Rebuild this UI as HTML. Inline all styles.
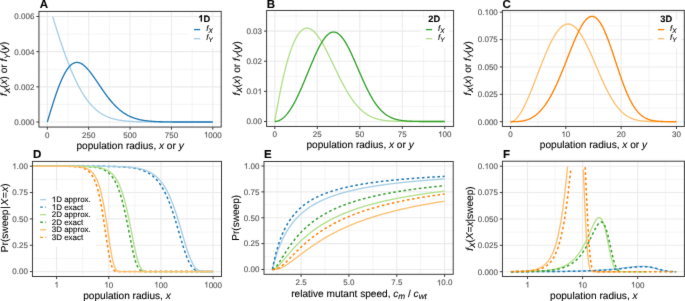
<!DOCTYPE html>
<html><head><meta charset="utf-8"><style>html,body{margin:0;padding:0;background:#fff;}svg{display:block;} #w{will-change:transform;width:685px;height:301px;} text{-webkit-font-smoothing:antialiased;text-rendering:geometricPrecision;stroke-width:0.1px;}</style></head>
<body><div id="w"><svg width="685" height="301" viewBox="0 0 685 301" font-family='"Liberation Sans", sans-serif'>
<defs><path id="oneR" d="M763 0h-180v1147q-65 -62 -170.5 -124t-189.5 -93v174q151 71 264 172t160 196h116v-1472z"/><path id="oneB" d="M806 0h-281v1059q-154 -144 -363 -213v255q110 36 239 136.5t177 234.5h228v-1472z"/><filter id="soft" x="0" y="0" width="100%" height="100%" filterUnits="userSpaceOnUse" color-interpolation-filters="sRGB"><feConvolveMatrix order="3" kernelMatrix="0.00640 0.06720 0.00640 0.06720 0.70560 0.06720 0.00640 0.06720 0.00640" divisor="1" edgeMode="duplicate"/></filter></defs>
<g filter="url(#soft)">
<rect width="685" height="301" fill="#fff"/>
<clipPath id="clipA"><rect x="38.95" y="11.4" width="182.25" height="115.64999999999999"/></clipPath>
<line x1="67.99" y1="11.4" x2="67.99" y2="127.05" stroke="#EBEBEB" stroke-width="0.55"/>
<line x1="109.36" y1="11.4" x2="109.36" y2="127.05" stroke="#EBEBEB" stroke-width="0.55"/>
<line x1="150.74" y1="11.4" x2="150.74" y2="127.05" stroke="#EBEBEB" stroke-width="0.55"/>
<line x1="192.11" y1="11.4" x2="192.11" y2="127.05" stroke="#EBEBEB" stroke-width="0.55"/>
<line x1="38.95" y1="104.42" x2="221.2" y2="104.42" stroke="#EBEBEB" stroke-width="0.55"/>
<line x1="38.95" y1="69.25" x2="221.2" y2="69.25" stroke="#EBEBEB" stroke-width="0.55"/>
<line x1="38.95" y1="34.08" x2="221.2" y2="34.08" stroke="#EBEBEB" stroke-width="0.55"/>
<line x1="47.3" y1="11.4" x2="47.3" y2="127.05" stroke="#EBEBEB" stroke-width="1.1"/>
<line x1="88.67" y1="11.4" x2="88.67" y2="127.05" stroke="#EBEBEB" stroke-width="1.1"/>
<line x1="130.05" y1="11.4" x2="130.05" y2="127.05" stroke="#EBEBEB" stroke-width="1.1"/>
<line x1="171.43" y1="11.4" x2="171.43" y2="127.05" stroke="#EBEBEB" stroke-width="1.1"/>
<line x1="212.8" y1="11.4" x2="212.8" y2="127.05" stroke="#EBEBEB" stroke-width="1.1"/>
<line x1="38.95" y1="122" x2="221.2" y2="122" stroke="#EBEBEB" stroke-width="1.1"/>
<line x1="38.95" y1="86.83" x2="221.2" y2="86.83" stroke="#EBEBEB" stroke-width="1.1"/>
<line x1="38.95" y1="51.67" x2="221.2" y2="51.67" stroke="#EBEBEB" stroke-width="1.1"/>
<line x1="38.95" y1="16.5" x2="221.2" y2="16.5" stroke="#EBEBEB" stroke-width="1.1"/>
<polyline points="52.69,16.67 53.11,18.02 53.52,19.37 53.94,20.71 54.35,22.05 54.77,23.38 55.18,24.71 55.60,26.04 56.01,27.36 56.43,28.67 56.84,29.98 57.25,31.28 57.67,32.58 58.08,33.87 58.50,35.16 58.91,36.43 59.33,37.70 59.74,38.97 60.16,40.22 60.57,41.47 60.99,42.71 61.40,43.94 61.82,45.16 62.23,46.38 62.65,47.59 63.06,48.79 63.48,49.97 63.89,51.16 64.31,52.33 64.72,53.49 65.14,54.64 65.55,55.78 65.97,56.92 66.38,58.04 66.79,59.15 67.21,60.25 67.62,61.35 68.04,62.43 68.45,63.50 68.87,64.56 69.28,65.61 69.70,66.65 70.11,67.68 70.53,68.69 70.94,69.70 71.36,70.69 71.77,71.68 72.19,72.65 72.60,73.61 73.02,74.56 73.43,75.50 73.85,76.42 74.26,77.34 74.68,78.24 75.09,79.13 75.51,80.01 75.92,80.88 76.34,81.74 76.75,82.58 77.16,83.42 77.58,84.24 77.99,85.05 78.41,85.85 78.82,86.63 79.24,87.41 79.65,88.17 80.07,88.92 80.48,89.66 80.90,90.39 81.31,91.11 81.73,91.81 82.14,92.51 82.56,93.19 82.97,93.86 83.39,94.52 83.80,95.17 84.22,95.81 84.63,96.44 85.05,97.06 85.46,97.66 85.88,98.26 86.29,98.84 86.70,99.41 87.12,99.97 87.53,100.53 87.95,101.07 88.36,101.60 88.78,102.12 89.19,102.63 89.61,103.13 90.02,103.62 90.44,104.11 90.85,104.58 91.27,105.04 91.68,105.49 92.10,105.93 92.51,106.37 92.93,106.79 93.34,107.21 93.76,107.62 94.17,108.01 94.59,108.40 95.00,108.78 95.42,109.15 95.83,109.52 96.24,109.87 96.66,110.22 97.07,110.56 97.49,110.89 97.90,111.21 98.32,111.53 98.73,111.84 99.15,112.14 99.56,112.43 99.98,112.72 100.39,113.00 100.81,113.27 101.22,113.54 101.64,113.80 102.05,114.05 102.47,114.30 102.88,114.54 103.30,114.77 103.71,115.00 104.13,115.22 104.54,115.43 104.96,115.64 105.37,115.85 105.78,116.05 106.20,116.24 106.61,116.43 107.03,116.61 107.44,116.79 107.86,116.96 108.27,117.13 108.69,117.29 109.10,117.45 109.52,117.60 109.93,117.75 110.35,117.90 110.76,118.04 111.18,118.18 111.59,118.31 112.01,118.44 112.42,118.56 112.84,118.68 113.25,118.80 113.67,118.91 114.08,119.02 114.50,119.13 114.91,119.23 115.33,119.33 115.74,119.43 116.15,119.52 116.57,119.61 116.98,119.70 117.40,119.79 117.81,119.87 118.23,119.95 118.64,120.03 119.06,120.10 119.47,120.17 119.89,120.24 120.30,120.31 120.72,120.37 121.13,120.44 121.55,120.50 121.96,120.56 122.38,120.61 122.79,120.67 123.21,120.72 123.62,120.77 124.04,120.82 124.45,120.87 124.87,120.91 125.28,120.96 125.69,121.00 126.11,121.04 126.52,121.08 126.94,121.12 127.35,121.15 127.77,121.19 128.18,121.22 128.60,121.25 129.01,121.28 129.43,121.31 129.84,121.34 130.26,121.37 130.67,121.40 131.09,121.42 131.50,121.45 131.92,121.47 132.33,121.50 132.75,121.52 133.16,121.54 133.58,121.56 133.99,121.58 134.41,121.60 134.82,121.61 135.23,121.63 135.65,121.65 136.06,121.66 136.48,121.68 136.89,121.69 137.31,121.71 137.72,121.72 138.14,121.73 138.55,121.75 138.97,121.76 139.38,121.77 139.80,121.78 140.21,121.79 140.63,121.80 141.04,121.81 141.46,121.82 141.87,121.83 142.29,121.83 142.70,121.84 143.12,121.85 143.53,121.86 143.95,121.86 144.36,121.87 144.77,121.88 145.19,121.88 145.60,121.89 146.02,121.89 146.43,121.90 146.85,121.90 147.26,121.91 147.68,121.91 148.09,121.92 148.51,121.92 148.92,121.93 149.34,121.93 149.75,121.93 150.17,121.94 150.58,121.94 151.00,121.94 151.41,121.95 151.83,121.95 152.24,121.95 152.66,121.95 153.07,121.96 153.49,121.96 153.90,121.96 154.32,121.96 154.73,121.96 155.14,121.97 155.56,121.97 155.97,121.97 156.39,121.97 156.80,121.97 157.22,121.97 157.63,121.98 158.05,121.98 158.46,121.98 158.88,121.98 159.29,121.98 159.71,121.98 160.12,121.98 160.54,121.98 160.95,121.98 161.37,121.99 161.78,121.99 162.20,121.99 162.61,121.99 163.03,121.99 163.44,121.99 163.86,121.99 164.27,121.99 164.68,121.99 165.10,121.99 165.51,121.99 165.93,121.99 166.34,121.99 166.76,121.99 167.17,121.99 167.59,121.99 168.00,121.99 168.42,121.99 168.83,121.99 169.25,122.00 169.66,122.00 170.08,122.00 170.49,122.00 170.91,122.00 171.32,122.00 171.74,122.00 172.15,122.00 172.57,122.00 172.98,122.00 173.40,122.00 173.81,122.00 174.22,122.00 174.64,122.00 175.05,122.00 175.47,122.00 175.88,122.00 176.30,122.00 176.71,122.00 177.13,122.00 177.54,122.00 177.96,122.00 178.37,122.00 178.79,122.00 179.20,122.00 179.62,122.00 180.03,122.00 180.45,122.00 180.86,122.00 181.28,122.00 181.69,122.00 182.11,122.00 182.52,122.00 182.94,122.00 183.35,122.00 183.76,122.00 184.18,122.00 184.59,122.00 185.01,122.00 185.42,122.00 185.84,122.00 186.25,122.00 186.67,122.00 187.08,122.00 187.50,122.00 187.91,122.00 188.33,122.00 188.74,122.00 189.16,122.00 189.57,122.00 189.99,122.00 190.40,122.00 190.82,122.00 191.23,122.00 191.65,122.00 192.06,122.00 192.48,122.00 192.89,122.00 193.31,122.00 193.72,122.00 194.13,122.00 194.55,122.00 194.96,122.00 195.38,122.00 195.79,122.00 196.21,122.00 196.62,122.00 197.04,122.00 197.45,122.00 197.87,122.00 198.28,122.00 198.70,122.00 199.11,122.00 199.53,122.00 199.94,122.00 200.36,122.00 200.77,122.00 201.19,122.00 201.60,122.00 202.02,122.00 202.43,122.00 202.85,122.00 203.26,122.00 203.67,122.00 204.09,122.00 204.50,122.00 204.92,122.00 205.33,122.00 205.75,122.00 206.16,122.00 206.58,122.00 206.99,122.00 207.41,122.00 207.82,122.00 208.24,122.00 208.65,122.00 209.07,122.00 209.48,122.00 209.90,122.00 210.31,122.00 210.73,122.00 211.14,122.00 211.56,122.00 211.97,122.00 212.39,122.00 212.80,122.00" fill="none" stroke="#A6CEE3" stroke-width="1.35" stroke-linejoin="round" clip-path="url(#clipA)"/>
<polyline points="47.30,122.00 47.71,120.62 48.13,119.25 48.54,117.88 48.96,116.51 49.37,115.14 49.79,113.78 50.20,112.42 50.62,111.07 51.03,109.72 51.45,108.38 51.86,107.05 52.28,105.73 52.69,104.41 53.11,103.11 53.52,101.82 53.94,100.54 54.35,99.27 54.77,98.02 55.18,96.78 55.60,95.55 56.01,94.34 56.43,93.14 56.84,91.96 57.25,90.80 57.67,89.66 58.08,88.53 58.50,87.43 58.91,86.34 59.33,85.27 59.74,84.22 60.16,83.20 60.57,82.19 60.99,81.21 61.40,80.25 61.82,79.31 62.23,78.39 62.65,77.50 63.06,76.63 63.48,75.79 63.89,74.97 64.31,74.18 64.72,73.41 65.14,72.66 65.55,71.94 65.97,71.25 66.38,70.58 66.79,69.94 67.21,69.33 67.62,68.74 68.04,68.18 68.45,67.64 68.87,67.13 69.28,66.65 69.70,66.19 70.11,65.76 70.53,65.36 70.94,64.99 71.36,64.64 71.77,64.31 72.19,64.01 72.60,63.74 73.02,63.50 73.43,63.28 73.85,63.08 74.26,62.91 74.68,62.77 75.09,62.65 75.51,62.56 75.92,62.49 76.34,62.44 76.75,62.42 77.16,62.42 77.58,62.45 77.99,62.50 78.41,62.57 78.82,62.66 79.24,62.77 79.65,62.91 80.07,63.07 80.48,63.24 80.90,63.44 81.31,63.66 81.73,63.89 82.14,64.15 82.56,64.42 82.97,64.71 83.39,65.02 83.80,65.34 84.22,65.69 84.63,66.04 85.05,66.42 85.46,66.81 85.88,67.21 86.29,67.62 86.70,68.05 87.12,68.50 87.53,68.95 87.95,69.42 88.36,69.90 88.78,70.39 89.19,70.89 89.61,71.40 90.02,71.92 90.44,72.45 90.85,72.99 91.27,73.54 91.68,74.09 92.10,74.65 92.51,75.22 92.93,75.79 93.34,76.37 93.76,76.96 94.17,77.54 94.59,78.14 95.00,78.74 95.42,79.34 95.83,79.94 96.24,80.55 96.66,81.16 97.07,81.77 97.49,82.38 97.90,82.99 98.32,83.60 98.73,84.22 99.15,84.83 99.56,85.44 99.98,86.06 100.39,86.67 100.81,87.28 101.22,87.89 101.64,88.49 102.05,89.10 102.47,89.70 102.88,90.29 103.30,90.89 103.71,91.48 104.13,92.07 104.54,92.65 104.96,93.23 105.37,93.80 105.78,94.37 106.20,94.94 106.61,95.50 107.03,96.05 107.44,96.60 107.86,97.15 108.27,97.69 108.69,98.22 109.10,98.75 109.52,99.27 109.93,99.78 110.35,100.29 110.76,100.79 111.18,101.28 111.59,101.77 112.01,102.25 112.42,102.72 112.84,103.19 113.25,103.65 113.67,104.10 114.08,104.55 114.50,104.99 114.91,105.42 115.33,105.85 115.74,106.26 116.15,106.67 116.57,107.08 116.98,107.47 117.40,107.86 117.81,108.24 118.23,108.61 118.64,108.98 119.06,109.34 119.47,109.69 119.89,110.04 120.30,110.38 120.72,110.71 121.13,111.03 121.55,111.35 121.96,111.66 122.38,111.97 122.79,112.26 123.21,112.55 123.62,112.84 124.04,113.12 124.45,113.39 124.87,113.65 125.28,113.91 125.69,114.16 126.11,114.41 126.52,114.65 126.94,114.88 127.35,115.11 127.77,115.33 128.18,115.55 128.60,115.76 129.01,115.96 129.43,116.16 129.84,116.36 130.26,116.55 130.67,116.73 131.09,116.91 131.50,117.08 131.92,117.25 132.33,117.42 132.75,117.58 133.16,117.73 133.58,117.88 133.99,118.03 134.41,118.17 134.82,118.31 135.23,118.44 135.65,118.57 136.06,118.69 136.48,118.82 136.89,118.93 137.31,119.05 137.72,119.16 138.14,119.26 138.55,119.37 138.97,119.47 139.38,119.56 139.80,119.66 140.21,119.75 140.63,119.83 141.04,119.92 141.46,120.00 141.87,120.08 142.29,120.16 142.70,120.23 143.12,120.30 143.53,120.37 143.95,120.43 144.36,120.50 144.77,120.56 145.19,120.62 145.60,120.68 146.02,120.73 146.43,120.78 146.85,120.83 147.26,120.88 147.68,120.93 148.09,120.98 148.51,121.02 148.92,121.06 149.34,121.10 149.75,121.14 150.17,121.18 150.58,121.21 151.00,121.25 151.41,121.28 151.83,121.31 152.24,121.34 152.66,121.37 153.07,121.40 153.49,121.43 153.90,121.45 154.32,121.48 154.73,121.50 155.14,121.53 155.56,121.55 155.97,121.57 156.39,121.59 156.80,121.61 157.22,121.63 157.63,121.64 158.05,121.66 158.46,121.68 158.88,121.69 159.29,121.71 159.71,121.72 160.12,121.73 160.54,121.75 160.95,121.76 161.37,121.77 161.78,121.78 162.20,121.79 162.61,121.80 163.03,121.81 163.44,121.82 163.86,121.83 164.27,121.84 164.68,121.85 165.10,121.86 165.51,121.86 165.93,121.87 166.34,121.88 166.76,121.88 167.17,121.89 167.59,121.90 168.00,121.90 168.42,121.91 168.83,121.91 169.25,121.92 169.66,121.92 170.08,121.92 170.49,121.93 170.91,121.93 171.32,121.94 171.74,121.94 172.15,121.94 172.57,121.95 172.98,121.95 173.40,121.95 173.81,121.95 174.22,121.96 174.64,121.96 175.05,121.96 175.47,121.96 175.88,121.97 176.30,121.97 176.71,121.97 177.13,121.97 177.54,121.97 177.96,121.97 178.37,121.98 178.79,121.98 179.20,121.98 179.62,121.98 180.03,121.98 180.45,121.98 180.86,121.98 181.28,121.98 181.69,121.98 182.11,121.99 182.52,121.99 182.94,121.99 183.35,121.99 183.76,121.99 184.18,121.99 184.59,121.99 185.01,121.99 185.42,121.99 185.84,121.99 186.25,121.99 186.67,121.99 187.08,121.99 187.50,121.99 187.91,121.99 188.33,121.99 188.74,121.99 189.16,122.00 189.57,122.00 189.99,122.00 190.40,122.00 190.82,122.00 191.23,122.00 191.65,122.00 192.06,122.00 192.48,122.00 192.89,122.00 193.31,122.00 193.72,122.00 194.13,122.00 194.55,122.00 194.96,122.00 195.38,122.00 195.79,122.00 196.21,122.00 196.62,122.00 197.04,122.00 197.45,122.00 197.87,122.00 198.28,122.00 198.70,122.00 199.11,122.00 199.53,122.00 199.94,122.00 200.36,122.00 200.77,122.00 201.19,122.00 201.60,122.00 202.02,122.00 202.43,122.00 202.85,122.00 203.26,122.00 203.67,122.00 204.09,122.00 204.50,122.00 204.92,122.00 205.33,122.00 205.75,122.00 206.16,122.00 206.58,122.00 206.99,122.00 207.41,122.00 207.82,122.00 208.24,122.00 208.65,122.00 209.07,122.00 209.48,122.00 209.90,122.00 210.31,122.00 210.73,122.00 211.14,122.00 211.56,122.00 211.97,122.00 212.39,122.00 212.80,122.00" fill="none" stroke="#1F78B4" stroke-width="1.35" stroke-linejoin="round" clip-path="url(#clipA)"/>
<rect x="38.95" y="11.4" width="182.25" height="115.64999999999999" fill="none" stroke="#333333" stroke-width="0.95"/>
<line x1="47.3" y1="127.05" x2="47.3" y2="129.65" stroke="#333333" stroke-width="0.95"/>
<text x="47.3" y="137.55" font-size="8" text-anchor="middle" fill="#4D4D4D" stroke="#4D4D4D" font-weight="normal" font-style="normal" >0</text>
<line x1="88.67" y1="127.05" x2="88.67" y2="129.65" stroke="#333333" stroke-width="0.95"/>
<text x="88.67" y="137.55" font-size="8" text-anchor="middle" fill="#4D4D4D" stroke="#4D4D4D" font-weight="normal" font-style="normal" >250</text>
<line x1="130.05" y1="127.05" x2="130.05" y2="129.65" stroke="#333333" stroke-width="0.95"/>
<text x="130.05" y="137.55" font-size="8" text-anchor="middle" fill="#4D4D4D" stroke="#4D4D4D" font-weight="normal" font-style="normal" >500</text>
<line x1="171.43" y1="127.05" x2="171.43" y2="129.65" stroke="#333333" stroke-width="0.95"/>
<text x="171.43" y="137.55" font-size="8" text-anchor="middle" fill="#4D4D4D" stroke="#4D4D4D" font-weight="normal" font-style="normal" >750</text>
<line x1="212.8" y1="127.05" x2="212.8" y2="129.65" stroke="#333333" stroke-width="0.95"/>
<use href="#oneR" transform="translate(203.902,137.550) scale(0.003906,-0.003906)" fill="#4D4D4D" stroke="#4D4D4D" stroke-width="25.6"/>
<text x="212.8" y="137.55" font-size="8" text-anchor="middle" fill="#4D4D4D" stroke="#4D4D4D" font-weight="normal" font-style="normal" > 000</text>
<line x1="36.35" y1="122" x2="38.95" y2="122" stroke="#333333" stroke-width="0.95"/>
<text x="34.35" y="124.85" font-size="8" text-anchor="end" fill="#4D4D4D" stroke="#4D4D4D" font-weight="normal" font-style="normal" >0.000</text>
<line x1="36.35" y1="86.83" x2="38.95" y2="86.83" stroke="#333333" stroke-width="0.95"/>
<text x="34.35" y="89.68" font-size="8" text-anchor="end" fill="#4D4D4D" stroke="#4D4D4D" font-weight="normal" font-style="normal" >0.002</text>
<line x1="36.35" y1="51.67" x2="38.95" y2="51.67" stroke="#333333" stroke-width="0.95"/>
<text x="34.35" y="54.52" font-size="8" text-anchor="end" fill="#4D4D4D" stroke="#4D4D4D" font-weight="normal" font-style="normal" >0.004</text>
<line x1="36.35" y1="16.5" x2="38.95" y2="16.5" stroke="#333333" stroke-width="0.95"/>
<text x="34.35" y="19.35" font-size="8" text-anchor="end" fill="#4D4D4D" stroke="#4D4D4D" font-weight="normal" font-style="normal" >0.006</text>
<clipPath id="clipB"><rect x="266.6" y="10.45" width="187.0" height="116.0"/></clipPath>
<line x1="296.05" y1="10.45" x2="296.05" y2="126.45" stroke="#EBEBEB" stroke-width="0.55"/>
<line x1="338.55" y1="10.45" x2="338.55" y2="126.45" stroke="#EBEBEB" stroke-width="0.55"/>
<line x1="381.05" y1="10.45" x2="381.05" y2="126.45" stroke="#EBEBEB" stroke-width="0.55"/>
<line x1="423.55" y1="10.45" x2="423.55" y2="126.45" stroke="#EBEBEB" stroke-width="0.55"/>
<line x1="266.6" y1="106.43" x2="453.6" y2="106.43" stroke="#EBEBEB" stroke-width="0.55"/>
<line x1="266.6" y1="76.3" x2="453.6" y2="76.3" stroke="#EBEBEB" stroke-width="0.55"/>
<line x1="266.6" y1="46.17" x2="453.6" y2="46.17" stroke="#EBEBEB" stroke-width="0.55"/>
<line x1="266.6" y1="16.03" x2="453.6" y2="16.03" stroke="#EBEBEB" stroke-width="0.55"/>
<line x1="274.8" y1="10.45" x2="274.8" y2="126.45" stroke="#EBEBEB" stroke-width="1.1"/>
<line x1="317.3" y1="10.45" x2="317.3" y2="126.45" stroke="#EBEBEB" stroke-width="1.1"/>
<line x1="359.8" y1="10.45" x2="359.8" y2="126.45" stroke="#EBEBEB" stroke-width="1.1"/>
<line x1="402.3" y1="10.45" x2="402.3" y2="126.45" stroke="#EBEBEB" stroke-width="1.1"/>
<line x1="444.8" y1="10.45" x2="444.8" y2="126.45" stroke="#EBEBEB" stroke-width="1.1"/>
<line x1="266.6" y1="121.5" x2="453.6" y2="121.5" stroke="#EBEBEB" stroke-width="1.1"/>
<line x1="266.6" y1="91.37" x2="453.6" y2="91.37" stroke="#EBEBEB" stroke-width="1.1"/>
<line x1="266.6" y1="61.23" x2="453.6" y2="61.23" stroke="#EBEBEB" stroke-width="1.1"/>
<line x1="266.6" y1="31.1" x2="453.6" y2="31.1" stroke="#EBEBEB" stroke-width="1.1"/>
<polyline points="274.80,121.50 275.23,118.94 275.65,116.41 276.08,113.92 276.50,111.47 276.93,109.06 277.36,106.68 277.78,104.33 278.21,102.03 278.63,99.76 279.06,97.53 279.49,95.33 279.91,93.17 280.34,91.05 280.76,88.96 281.19,86.91 281.62,84.90 282.04,82.92 282.47,80.98 282.90,79.07 283.32,77.20 283.75,75.37 284.17,73.58 284.60,71.82 285.03,70.10 285.45,68.41 285.88,66.76 286.30,65.15 286.73,63.57 287.16,62.03 287.58,60.52 288.01,59.05 288.43,57.62 288.86,56.22 289.29,54.86 289.71,53.53 290.14,52.24 290.56,50.98 290.99,49.76 291.42,48.58 291.84,47.43 292.27,46.31 292.69,45.24 293.12,44.19 293.55,43.18 293.97,42.21 294.40,41.26 294.83,40.36 295.25,39.49 295.68,38.65 296.10,37.84 296.53,37.07 296.96,36.34 297.38,35.63 297.81,34.96 298.23,34.33 298.66,33.72 299.09,33.15 299.51,32.61 299.94,32.10 300.36,31.63 300.79,31.19 301.22,30.77 301.64,30.39 302.07,30.04 302.49,29.73 302.92,29.44 303.35,29.18 303.77,28.95 304.20,28.76 304.62,28.59 305.05,28.45 305.48,28.34 305.90,28.26 306.33,28.20 306.75,28.18 307.18,28.18 307.61,28.21 308.03,28.26 308.46,28.35 308.89,28.46 309.31,28.59 309.74,28.75 310.16,28.94 310.59,29.15 311.02,29.38 311.44,29.64 311.87,29.92 312.29,30.23 312.72,30.55 313.15,30.90 313.57,31.28 314.00,31.67 314.42,32.09 314.85,32.52 315.28,32.98 315.70,33.45 316.13,33.95 316.55,34.46 316.98,35.00 317.41,35.55 317.83,36.12 318.26,36.70 318.68,37.30 319.11,37.92 319.54,38.56 319.96,39.21 320.39,39.87 320.82,40.55 321.24,41.24 321.67,41.95 322.09,42.67 322.52,43.40 322.95,44.14 323.37,44.90 323.80,45.66 324.22,46.44 324.65,47.22 325.08,48.02 325.50,48.82 325.93,49.64 326.35,50.46 326.78,51.29 327.21,52.12 327.63,52.96 328.06,53.81 328.48,54.67 328.91,55.53 329.34,56.39 329.76,57.26 330.19,58.13 330.61,59.01 331.04,59.89 331.47,60.77 331.89,61.66 332.32,62.54 332.74,63.43 333.17,64.32 333.60,65.21 334.02,66.09 334.45,66.98 334.88,67.87 335.30,68.75 335.73,69.64 336.15,70.52 336.58,71.40 337.01,72.28 337.43,73.15 337.86,74.02 338.28,74.89 338.71,75.75 339.14,76.61 339.56,77.47 339.99,78.32 340.41,79.16 340.84,80.00 341.27,80.83 341.69,81.66 342.12,82.47 342.54,83.29 342.97,84.09 343.40,84.89 343.82,85.68 344.25,86.47 344.67,87.24 345.10,88.01 345.53,88.77 345.95,89.52 346.38,90.26 346.81,90.99 347.23,91.72 347.66,92.43 348.08,93.14 348.51,93.83 348.94,94.52 349.36,95.20 349.79,95.87 350.21,96.52 350.64,97.17 351.07,97.81 351.49,98.44 351.92,99.05 352.34,99.66 352.77,100.26 353.20,100.84 353.62,101.42 354.05,101.99 354.47,102.54 354.90,103.09 355.33,103.62 355.75,104.15 356.18,104.66 356.60,105.16 357.03,105.66 357.46,106.14 357.88,106.61 358.31,107.08 358.73,107.53 359.16,107.97 359.59,108.40 360.01,108.83 360.44,109.24 360.87,109.64 361.29,110.04 361.72,110.42 362.14,110.80 362.57,111.16 363.00,111.52 363.42,111.86 363.85,112.20 364.27,112.53 364.70,112.85 365.13,113.16 365.55,113.46 365.98,113.76 366.40,114.04 366.83,114.32 367.26,114.59 367.68,114.85 368.11,115.11 368.53,115.35 368.96,115.59 369.39,115.82 369.81,116.05 370.24,116.27 370.66,116.48 371.09,116.68 371.52,116.88 371.94,117.07 372.37,117.25 372.79,117.43 373.22,117.60 373.65,117.77 374.07,117.93 374.50,118.08 374.93,118.23 375.35,118.37 375.78,118.51 376.20,118.64 376.63,118.77 377.06,118.90 377.48,119.02 377.91,119.13 378.33,119.24 378.76,119.34 379.19,119.45 379.61,119.54 380.04,119.64 380.46,119.73 380.89,119.81 381.32,119.89 381.74,119.97 382.17,120.05 382.59,120.12 383.02,120.19 383.45,120.26 383.87,120.32 384.30,120.38 384.72,120.44 385.15,120.49 385.58,120.55 386.00,120.60 386.43,120.65 386.86,120.69 387.28,120.74 387.71,120.78 388.13,120.82 388.56,120.85 388.99,120.89 389.41,120.92 389.84,120.96 390.26,120.99 390.69,121.02 391.12,121.04 391.54,121.07 391.97,121.10 392.39,121.12 392.82,121.14 393.25,121.16 393.67,121.18 394.10,121.20 394.52,121.22 394.95,121.24 395.38,121.25 395.80,121.27 396.23,121.28 396.65,121.30 397.08,121.31 397.51,121.32 397.93,121.33 398.36,121.34 398.78,121.35 399.21,121.36 399.64,121.37 400.06,121.38 400.49,121.39 400.92,121.40 401.34,121.40 401.77,121.41 402.19,121.42 402.62,121.42 403.05,121.43 403.47,121.43 403.90,121.44 404.32,121.44 404.75,121.45 405.18,121.45 405.60,121.45 406.03,121.46 406.45,121.46 406.88,121.46 407.31,121.47 407.73,121.47 408.16,121.47 408.58,121.47 409.01,121.47 409.44,121.48 409.86,121.48 410.29,121.48 410.71,121.48 411.14,121.48 411.57,121.48 411.99,121.49 412.42,121.49 412.85,121.49 413.27,121.49 413.70,121.49 414.12,121.49 414.55,121.49 414.98,121.49 415.40,121.49 415.83,121.49 416.25,121.49 416.68,121.49 417.11,121.49 417.53,121.50 417.96,121.50 418.38,121.50 418.81,121.50 419.24,121.50 419.66,121.50 420.09,121.50 420.51,121.50 420.94,121.50 421.37,121.50 421.79,121.50 422.22,121.50 422.64,121.50 423.07,121.50 423.50,121.50 423.92,121.50 424.35,121.50 424.77,121.50 425.20,121.50 425.63,121.50 426.05,121.50 426.48,121.50 426.91,121.50 427.33,121.50 427.76,121.50 428.18,121.50 428.61,121.50 429.04,121.50 429.46,121.50 429.89,121.50 430.31,121.50 430.74,121.50 431.17,121.50 431.59,121.50 432.02,121.50 432.44,121.50 432.87,121.50 433.30,121.50 433.72,121.50 434.15,121.50 434.57,121.50 435.00,121.50 435.43,121.50 435.85,121.50 436.28,121.50 436.70,121.50 437.13,121.50 437.56,121.50 437.98,121.50 438.41,121.50 438.84,121.50 439.26,121.50 439.69,121.50 440.11,121.50 440.54,121.50 440.97,121.50 441.39,121.50 441.82,121.50 442.24,121.50 442.67,121.50 443.10,121.50 443.52,121.50 443.95,121.50 444.37,121.50 444.80,121.50" fill="none" stroke="#B2DF8A" stroke-width="1.35" stroke-linejoin="round" clip-path="url(#clipB)"/>
<polyline points="274.80,121.50 275.23,121.49 275.65,121.46 276.08,121.42 276.50,121.35 276.93,121.27 277.36,121.17 277.78,121.05 278.21,120.91 278.63,120.76 279.06,120.59 279.49,120.39 279.91,120.18 280.34,119.96 280.76,119.71 281.19,119.44 281.62,119.16 282.04,118.86 282.47,118.54 282.90,118.20 283.32,117.85 283.75,117.48 284.17,117.09 284.60,116.68 285.03,116.25 285.45,115.81 285.88,115.35 286.30,114.87 286.73,114.37 287.16,113.86 287.58,113.33 288.01,112.78 288.43,112.21 288.86,111.63 289.29,111.03 289.71,110.42 290.14,109.79 290.56,109.14 290.99,108.48 291.42,107.80 291.84,107.11 292.27,106.40 292.69,105.67 293.12,104.93 293.55,104.18 293.97,103.41 294.40,102.62 294.83,101.83 295.25,101.01 295.68,100.19 296.10,99.35 296.53,98.50 296.96,97.64 297.38,96.77 297.81,95.88 298.23,94.98 298.66,94.07 299.09,93.15 299.51,92.22 299.94,91.28 300.36,90.34 300.79,89.38 301.22,88.41 301.64,87.44 302.07,86.45 302.49,85.46 302.92,84.47 303.35,83.47 303.77,82.46 304.20,81.44 304.62,80.43 305.05,79.40 305.48,78.38 305.90,77.35 306.33,76.32 306.75,75.28 307.18,74.25 307.61,73.21 308.03,72.17 308.46,71.14 308.89,70.10 309.31,69.07 309.74,68.04 310.16,67.01 310.59,65.98 311.02,64.96 311.44,63.94 311.87,62.93 312.29,61.92 312.72,60.92 313.15,59.93 313.57,58.95 314.00,57.97 314.42,57.00 314.85,56.04 315.28,55.10 315.70,54.16 316.13,53.24 316.55,52.32 316.98,51.42 317.41,50.54 317.83,49.66 318.26,48.81 318.68,47.96 319.11,47.14 319.54,46.33 319.96,45.53 320.39,44.76 320.82,44.00 321.24,43.26 321.67,42.54 322.09,41.85 322.52,41.17 322.95,40.51 323.37,39.87 323.80,39.26 324.22,38.67 324.65,38.10 325.08,37.55 325.50,37.03 325.93,36.53 326.35,36.06 326.78,35.61 327.21,35.19 327.63,34.79 328.06,34.42 328.48,34.07 328.91,33.76 329.34,33.46 329.76,33.20 330.19,32.96 330.61,32.75 331.04,32.57 331.47,32.41 331.89,32.28 332.32,32.19 332.74,32.11 333.17,32.07 333.60,32.06 334.02,32.07 334.45,32.11 334.88,32.18 335.30,32.28 335.73,32.40 336.15,32.56 336.58,32.74 337.01,32.95 337.43,33.18 337.86,33.45 338.28,33.74 338.71,34.05 339.14,34.40 339.56,34.77 339.99,35.16 340.41,35.58 340.84,36.03 341.27,36.50 341.69,37.00 342.12,37.52 342.54,38.06 342.97,38.63 343.40,39.22 343.82,39.83 344.25,40.46 344.67,41.11 345.10,41.79 345.53,42.48 345.95,43.19 346.38,43.93 346.81,44.68 347.23,45.45 347.66,46.23 348.08,47.03 348.51,47.85 348.94,48.68 349.36,49.53 349.79,50.39 350.21,51.26 350.64,52.15 351.07,53.05 351.49,53.96 351.92,54.87 352.34,55.80 352.77,56.74 353.20,57.69 353.62,58.64 354.05,59.60 354.47,60.57 354.90,61.54 355.33,62.51 355.75,63.49 356.18,64.48 356.60,65.46 357.03,66.45 357.46,67.44 357.88,68.43 358.31,69.42 358.73,70.41 359.16,71.40 359.59,72.39 360.01,73.37 360.44,74.35 360.87,75.33 361.29,76.30 361.72,77.27 362.14,78.24 362.57,79.19 363.00,80.14 363.42,81.09 363.85,82.03 364.27,82.96 364.70,83.88 365.13,84.79 365.55,85.69 365.98,86.59 366.40,87.47 366.83,88.35 367.26,89.21 367.68,90.07 368.11,90.91 368.53,91.74 368.96,92.56 369.39,93.36 369.81,94.16 370.24,94.94 370.66,95.71 371.09,96.47 371.52,97.21 371.94,97.94 372.37,98.66 372.79,99.37 373.22,100.06 373.65,100.74 374.07,101.40 374.50,102.05 374.93,102.69 375.35,103.31 375.78,103.92 376.20,104.52 376.63,105.10 377.06,105.67 377.48,106.22 377.91,106.76 378.33,107.29 378.76,107.81 379.19,108.31 379.61,108.79 380.04,109.27 380.46,109.73 380.89,110.18 381.32,110.62 381.74,111.04 382.17,111.45 382.59,111.85 383.02,112.24 383.45,112.62 383.87,112.98 384.30,113.33 384.72,113.67 385.15,114.00 385.58,114.32 386.00,114.63 386.43,114.93 386.86,115.22 387.28,115.49 387.71,115.76 388.13,116.02 388.56,116.27 388.99,116.51 389.41,116.74 389.84,116.96 390.26,117.18 390.69,117.38 391.12,117.58 391.54,117.77 391.97,117.95 392.39,118.13 392.82,118.29 393.25,118.45 393.67,118.61 394.10,118.75 394.52,118.90 394.95,119.03 395.38,119.16 395.80,119.28 396.23,119.40 396.65,119.51 397.08,119.62 397.51,119.72 397.93,119.82 398.36,119.91 398.78,120.00 399.21,120.08 399.64,120.16 400.06,120.24 400.49,120.31 400.92,120.38 401.34,120.45 401.77,120.51 402.19,120.57 402.62,120.62 403.05,120.68 403.47,120.73 403.90,120.77 404.32,120.82 404.75,120.86 405.18,120.90 405.60,120.94 406.03,120.97 406.45,121.01 406.88,121.04 407.31,121.07 407.73,121.10 408.16,121.12 408.58,121.15 409.01,121.17 409.44,121.19 409.86,121.21 410.29,121.23 410.71,121.25 411.14,121.27 411.57,121.28 411.99,121.30 412.42,121.31 412.85,121.33 413.27,121.34 413.70,121.35 414.12,121.36 414.55,121.37 414.98,121.38 415.40,121.39 415.83,121.40 416.25,121.41 416.68,121.41 417.11,121.42 417.53,121.43 417.96,121.43 418.38,121.44 418.81,121.44 419.24,121.45 419.66,121.45 420.09,121.45 420.51,121.46 420.94,121.46 421.37,121.46 421.79,121.47 422.22,121.47 422.64,121.47 423.07,121.47 423.50,121.48 423.92,121.48 424.35,121.48 424.77,121.48 425.20,121.48 425.63,121.49 426.05,121.49 426.48,121.49 426.91,121.49 427.33,121.49 427.76,121.49 428.18,121.49 428.61,121.49 429.04,121.49 429.46,121.49 429.89,121.49 430.31,121.49 430.74,121.50 431.17,121.50 431.59,121.50 432.02,121.50 432.44,121.50 432.87,121.50 433.30,121.50 433.72,121.50 434.15,121.50 434.57,121.50 435.00,121.50 435.43,121.50 435.85,121.50 436.28,121.50 436.70,121.50 437.13,121.50 437.56,121.50 437.98,121.50 438.41,121.50 438.84,121.50 439.26,121.50 439.69,121.50 440.11,121.50 440.54,121.50 440.97,121.50 441.39,121.50 441.82,121.50 442.24,121.50 442.67,121.50 443.10,121.50 443.52,121.50 443.95,121.50 444.37,121.50 444.80,121.50" fill="none" stroke="#33A02C" stroke-width="1.35" stroke-linejoin="round" clip-path="url(#clipB)"/>
<rect x="266.6" y="10.45" width="187.0" height="116.0" fill="none" stroke="#333333" stroke-width="0.95"/>
<line x1="274.8" y1="126.45" x2="274.8" y2="129.05" stroke="#333333" stroke-width="0.95"/>
<text x="274.8" y="136.95" font-size="8" text-anchor="middle" fill="#4D4D4D" stroke="#4D4D4D" font-weight="normal" font-style="normal" >0</text>
<line x1="317.3" y1="126.45" x2="317.3" y2="129.05" stroke="#333333" stroke-width="0.95"/>
<text x="317.3" y="136.95" font-size="8" text-anchor="middle" fill="#4D4D4D" stroke="#4D4D4D" font-weight="normal" font-style="normal" >25</text>
<line x1="359.8" y1="126.45" x2="359.8" y2="129.05" stroke="#333333" stroke-width="0.95"/>
<text x="359.8" y="136.95" font-size="8" text-anchor="middle" fill="#4D4D4D" stroke="#4D4D4D" font-weight="normal" font-style="normal" >50</text>
<line x1="402.3" y1="126.45" x2="402.3" y2="129.05" stroke="#333333" stroke-width="0.95"/>
<text x="402.3" y="136.95" font-size="8" text-anchor="middle" fill="#4D4D4D" stroke="#4D4D4D" font-weight="normal" font-style="normal" >75</text>
<line x1="444.8" y1="126.45" x2="444.8" y2="129.05" stroke="#333333" stroke-width="0.95"/>
<use href="#oneR" transform="translate(438.126,136.950) scale(0.003906,-0.003906)" fill="#4D4D4D" stroke="#4D4D4D" stroke-width="25.6"/>
<text x="444.8" y="136.95" font-size="8" text-anchor="middle" fill="#4D4D4D" stroke="#4D4D4D" font-weight="normal" font-style="normal" > 00</text>
<line x1="264" y1="121.5" x2="266.6" y2="121.5" stroke="#333333" stroke-width="0.95"/>
<text x="262" y="124.35" font-size="8" text-anchor="end" fill="#4D4D4D" stroke="#4D4D4D" font-weight="normal" font-style="normal" >0.00</text>
<line x1="264" y1="91.37" x2="266.6" y2="91.37" stroke="#333333" stroke-width="0.95"/>
<use href="#oneR" transform="translate(257.551,94.217) scale(0.003906,-0.003906)" fill="#4D4D4D" stroke="#4D4D4D" stroke-width="25.6"/>
<text x="262" y="94.22" font-size="8" text-anchor="end" fill="#4D4D4D" stroke="#4D4D4D" font-weight="normal" font-style="normal" >0.0 </text>
<line x1="264" y1="61.23" x2="266.6" y2="61.23" stroke="#333333" stroke-width="0.95"/>
<text x="262" y="64.08" font-size="8" text-anchor="end" fill="#4D4D4D" stroke="#4D4D4D" font-weight="normal" font-style="normal" >0.02</text>
<line x1="264" y1="31.1" x2="266.6" y2="31.1" stroke="#333333" stroke-width="0.95"/>
<text x="262" y="33.95" font-size="8" text-anchor="end" fill="#4D4D4D" stroke="#4D4D4D" font-weight="normal" font-style="normal" >0.03</text>
<clipPath id="clipC"><rect x="502.4" y="10.4" width="181.89999999999998" height="116.05"/></clipPath>
<line x1="538.17" y1="10.4" x2="538.17" y2="126.45" stroke="#EBEBEB" stroke-width="0.55"/>
<line x1="593.5" y1="10.4" x2="593.5" y2="126.45" stroke="#EBEBEB" stroke-width="0.55"/>
<line x1="648.83" y1="10.4" x2="648.83" y2="126.45" stroke="#EBEBEB" stroke-width="0.55"/>
<line x1="502.4" y1="108.01" x2="684.3" y2="108.01" stroke="#EBEBEB" stroke-width="0.55"/>
<line x1="502.4" y1="80.64" x2="684.3" y2="80.64" stroke="#EBEBEB" stroke-width="0.55"/>
<line x1="502.4" y1="53.26" x2="684.3" y2="53.26" stroke="#EBEBEB" stroke-width="0.55"/>
<line x1="502.4" y1="25.89" x2="684.3" y2="25.89" stroke="#EBEBEB" stroke-width="0.55"/>
<line x1="510.5" y1="10.4" x2="510.5" y2="126.45" stroke="#EBEBEB" stroke-width="1.1"/>
<line x1="565.83" y1="10.4" x2="565.83" y2="126.45" stroke="#EBEBEB" stroke-width="1.1"/>
<line x1="621.17" y1="10.4" x2="621.17" y2="126.45" stroke="#EBEBEB" stroke-width="1.1"/>
<line x1="676.5" y1="10.4" x2="676.5" y2="126.45" stroke="#EBEBEB" stroke-width="1.1"/>
<line x1="502.4" y1="121.7" x2="684.3" y2="121.7" stroke="#EBEBEB" stroke-width="1.1"/>
<line x1="502.4" y1="94.33" x2="684.3" y2="94.33" stroke="#EBEBEB" stroke-width="1.1"/>
<line x1="502.4" y1="66.95" x2="684.3" y2="66.95" stroke="#EBEBEB" stroke-width="1.1"/>
<line x1="502.4" y1="39.58" x2="684.3" y2="39.58" stroke="#EBEBEB" stroke-width="1.1"/>
<line x1="502.4" y1="12.2" x2="684.3" y2="12.2" stroke="#EBEBEB" stroke-width="1.1"/>
<polyline points="510.50,121.70 510.92,121.68 511.33,121.63 511.75,121.55 512.16,121.43 512.58,121.29 513.00,121.11 513.41,120.90 513.83,120.66 514.24,120.39 514.66,120.09 515.08,119.76 515.49,119.41 515.91,119.03 516.32,118.62 516.74,118.18 517.16,117.72 517.57,117.23 517.99,116.72 518.40,116.18 518.82,115.62 519.24,115.04 519.65,114.43 520.07,113.80 520.48,113.15 520.90,112.48 521.32,111.79 521.73,111.08 522.15,110.35 522.57,109.59 522.98,108.83 523.40,108.04 523.81,107.23 524.23,106.41 524.65,105.57 525.06,104.72 525.48,103.85 525.89,102.97 526.31,102.07 526.73,101.16 527.14,100.23 527.56,99.30 527.97,98.35 528.39,97.39 528.81,96.41 529.22,95.43 529.64,94.44 530.05,93.44 530.47,92.42 530.89,91.40 531.30,90.38 531.72,89.34 532.13,88.30 532.55,87.25 532.97,86.20 533.38,85.14 533.80,84.08 534.21,83.01 534.63,81.94 535.05,80.86 535.46,79.78 535.88,78.70 536.29,77.62 536.71,76.54 537.13,75.45 537.54,74.37 537.96,73.29 538.37,72.20 538.79,71.12 539.21,70.04 539.62,68.96 540.04,67.89 540.45,66.82 540.87,65.75 541.29,64.69 541.70,63.63 542.12,62.57 542.54,61.53 542.95,60.48 543.37,59.45 543.78,58.42 544.20,57.40 544.62,56.39 545.03,55.38 545.45,54.39 545.86,53.40 546.28,52.43 546.70,51.46 547.11,50.50 547.53,49.56 547.94,48.63 548.36,47.71 548.78,46.80 549.19,45.90 549.61,45.02 550.02,44.15 550.44,43.29 550.86,42.45 551.27,41.62 551.69,40.81 552.10,40.02 552.52,39.24 552.94,38.47 553.35,37.72 553.77,36.99 554.18,36.28 554.60,35.58 555.02,34.90 555.43,34.24 555.85,33.60 556.26,32.98 556.68,32.37 557.10,31.79 557.51,31.22 557.93,30.67 558.34,30.15 558.76,29.64 559.18,29.16 559.59,28.69 560.01,28.25 560.42,27.83 560.84,27.42 561.26,27.05 561.67,26.69 562.09,26.35 562.51,26.04 562.92,25.74 563.34,25.47 563.75,25.23 564.17,25.00 564.59,24.80 565.00,24.62 565.42,24.46 565.83,24.33 566.25,24.22 566.67,24.13 567.08,24.06 567.50,24.02 567.91,24.00 568.33,24.01 568.75,24.03 569.16,24.08 569.58,24.16 569.99,24.25 570.41,24.37 570.83,24.51 571.24,24.68 571.66,24.86 572.07,25.07 572.49,25.31 572.91,25.56 573.32,25.83 573.74,26.13 574.15,26.45 574.57,26.79 574.99,27.16 575.40,27.54 575.82,27.94 576.23,28.37 576.65,28.81 577.07,29.28 577.48,29.77 577.90,30.27 578.31,30.80 578.73,31.34 579.15,31.90 579.56,32.48 579.98,33.08 580.39,33.70 580.81,34.34 581.23,34.99 581.64,35.66 582.06,36.34 582.47,37.04 582.89,37.76 583.31,38.49 583.72,39.24 584.14,40.00 584.56,40.77 584.97,41.56 585.39,42.36 585.80,43.17 586.22,44.00 586.64,44.84 587.05,45.69 587.47,46.55 587.88,47.42 588.30,48.30 588.72,49.18 589.13,50.08 589.55,50.99 589.96,51.90 590.38,52.82 590.80,53.75 591.21,54.68 591.63,55.62 592.04,56.57 592.46,57.52 592.88,58.47 593.29,59.43 593.71,60.39 594.12,61.36 594.54,62.32 594.96,63.29 595.37,64.26 595.79,65.23 596.20,66.20 596.62,67.17 597.04,68.14 597.45,69.11 597.87,70.08 598.28,71.04 598.70,72.00 599.12,72.96 599.53,73.92 599.95,74.87 600.36,75.82 600.78,76.76 601.20,77.70 601.61,78.63 602.03,79.56 602.44,80.48 602.86,81.40 603.28,82.30 603.69,83.20 604.11,84.09 604.53,84.98 604.94,85.85 605.36,86.72 605.77,87.58 606.19,88.42 606.61,89.26 607.02,90.09 607.44,90.91 607.85,91.72 608.27,92.51 608.69,93.30 609.10,94.07 609.52,94.84 609.93,95.59 610.35,96.33 610.77,97.06 611.18,97.78 611.60,98.49 612.01,99.18 612.43,99.86 612.85,100.53 613.26,101.18 613.68,101.83 614.09,102.46 614.51,103.08 614.93,103.68 615.34,104.28 615.76,104.86 616.17,105.43 616.59,105.98 617.01,106.53 617.42,107.06 617.84,107.57 618.25,108.08 618.67,108.57 619.09,109.05 619.50,109.52 619.92,109.98 620.33,110.42 620.75,110.85 621.17,111.27 621.58,111.68 622.00,112.08 622.41,112.46 622.83,112.83 623.25,113.20 623.66,113.55 624.08,113.89 624.49,114.22 624.91,114.54 625.33,114.85 625.74,115.15 626.16,115.43 626.58,115.71 626.99,115.98 627.41,116.24 627.82,116.49 628.24,116.73 628.66,116.97 629.07,117.19 629.49,117.41 629.90,117.61 630.32,117.81 630.74,118.01 631.15,118.19 631.57,118.37 631.98,118.54 632.40,118.70 632.82,118.85 633.23,119.00 633.65,119.14 634.06,119.28 634.48,119.41 634.90,119.54 635.31,119.65 635.73,119.77 636.14,119.88 636.56,119.98 636.98,120.08 637.39,120.17 637.81,120.26 638.22,120.34 638.64,120.42 639.06,120.50 639.47,120.57 639.89,120.64 640.30,120.71 640.72,120.77 641.14,120.83 641.55,120.88 641.97,120.93 642.38,120.98 642.80,121.03 643.22,121.07 643.63,121.11 644.05,121.15 644.46,121.19 644.88,121.22 645.30,121.26 645.71,121.29 646.13,121.32 646.55,121.34 646.96,121.37 647.38,121.39 647.79,121.41 648.21,121.44 648.63,121.45 649.04,121.47 649.46,121.49 649.87,121.51 650.29,121.52 650.71,121.53 651.12,121.55 651.54,121.56 651.95,121.57 652.37,121.58 652.79,121.59 653.20,121.60 653.62,121.61 654.03,121.61 654.45,121.62 654.87,121.63 655.28,121.63 655.70,121.64 656.11,121.64 656.53,121.65 656.95,121.65 657.36,121.66 657.78,121.66 658.19,121.66 658.61,121.67 659.03,121.67 659.44,121.67 659.86,121.68 660.27,121.68 660.69,121.68 661.11,121.68 661.52,121.68 661.94,121.69 662.35,121.69 662.77,121.69 663.19,121.69 663.60,121.69 664.02,121.69 664.43,121.69 664.85,121.69 665.27,121.69 665.68,121.69 666.10,121.69 666.52,121.70 666.93,121.70 667.35,121.70 667.76,121.70 668.18,121.70 668.60,121.70 669.01,121.70 669.43,121.70 669.84,121.70 670.26,121.70 670.68,121.70 671.09,121.70 671.51,121.70 671.92,121.70 672.34,121.70 672.76,121.70 673.17,121.70 673.59,121.70 674.00,121.70 674.42,121.70 674.84,121.70 675.25,121.70 675.67,121.70 676.08,121.70 676.50,121.70" fill="none" stroke="#FDBF6F" stroke-width="1.35" stroke-linejoin="round" clip-path="url(#clipC)"/>
<polyline points="510.50,121.70 510.92,121.70 511.33,121.70 511.75,121.70 512.16,121.70 512.58,121.70 513.00,121.69 513.41,121.69 513.83,121.68 514.24,121.68 514.66,121.67 515.08,121.66 515.49,121.65 515.91,121.63 516.32,121.62 516.74,121.60 517.16,121.58 517.57,121.55 517.99,121.53 518.40,121.50 518.82,121.46 519.24,121.43 519.65,121.38 520.07,121.34 520.48,121.29 520.90,121.24 521.32,121.18 521.73,121.12 522.15,121.05 522.57,120.98 522.98,120.90 523.40,120.82 523.81,120.73 524.23,120.64 524.65,120.54 525.06,120.43 525.48,120.32 525.89,120.20 526.31,120.07 526.73,119.94 527.14,119.80 527.56,119.66 527.97,119.51 528.39,119.35 528.81,119.18 529.22,119.00 529.64,118.82 530.05,118.63 530.47,118.43 530.89,118.22 531.30,118.01 531.72,117.78 532.13,117.55 532.55,117.30 532.97,117.05 533.38,116.79 533.80,116.52 534.21,116.24 534.63,115.95 535.05,115.65 535.46,115.34 535.88,115.02 536.29,114.69 536.71,114.35 537.13,113.99 537.54,113.63 537.96,113.26 538.37,112.87 538.79,112.48 539.21,112.07 539.62,111.65 540.04,111.23 540.45,110.78 540.87,110.33 541.29,109.87 541.70,109.39 542.12,108.90 542.54,108.40 542.95,107.89 543.37,107.37 543.78,106.83 544.20,106.29 544.62,105.72 545.03,105.15 545.45,104.57 545.86,103.97 546.28,103.36 546.70,102.74 547.11,102.10 547.53,101.46 547.94,100.80 548.36,100.12 548.78,99.44 549.19,98.74 549.61,98.03 550.02,97.31 550.44,96.58 550.86,95.83 551.27,95.08 551.69,94.31 552.10,93.52 552.52,92.73 552.94,91.92 553.35,91.11 553.77,90.28 554.18,89.44 554.60,88.59 555.02,87.72 555.43,86.85 555.85,85.97 556.26,85.07 556.68,84.17 557.10,83.25 557.51,82.33 557.93,81.39 558.34,80.45 558.76,79.50 559.18,78.53 559.59,77.56 560.01,76.59 560.42,75.60 560.84,74.61 561.26,73.60 561.67,72.60 562.09,71.58 562.51,70.56 562.92,69.53 563.34,68.50 563.75,67.46 564.17,66.42 564.59,65.38 565.00,64.33 565.42,63.27 565.83,62.22 566.25,61.16 566.67,60.10 567.08,59.04 567.50,57.98 567.91,56.92 568.33,55.85 568.75,54.79 569.16,53.73 569.58,52.68 569.99,51.62 570.41,50.57 570.83,49.52 571.24,48.48 571.66,47.44 572.07,46.41 572.49,45.38 572.91,44.37 573.32,43.35 573.74,42.35 574.15,41.36 574.57,40.37 574.99,39.40 575.40,38.43 575.82,37.48 576.23,36.54 576.65,35.62 577.07,34.70 577.48,33.81 577.90,32.92 578.31,32.05 578.73,31.20 579.15,30.37 579.56,29.55 579.98,28.75 580.39,27.98 580.81,27.22 581.23,26.48 581.64,25.76 582.06,25.07 582.47,24.39 582.89,23.74 583.31,23.12 583.72,22.51 584.14,21.94 584.56,21.38 584.97,20.86 585.39,20.36 585.80,19.89 586.22,19.44 586.64,19.03 587.05,18.64 587.47,18.28 587.88,17.95 588.30,17.65 588.72,17.38 589.13,17.14 589.55,16.94 589.96,16.76 590.38,16.62 590.80,16.51 591.21,16.43 591.63,16.38 592.04,16.37 592.46,16.39 592.88,16.44 593.29,16.52 593.71,16.64 594.12,16.79 594.54,16.98 594.96,17.20 595.37,17.45 595.79,17.73 596.20,18.05 596.62,18.40 597.04,18.79 597.45,19.21 597.87,19.66 598.28,20.14 598.70,20.65 599.12,21.20 599.53,21.78 599.95,22.38 600.36,23.02 600.78,23.69 601.20,24.39 601.61,25.12 602.03,25.87 602.44,26.66 602.86,27.47 603.28,28.31 603.69,29.17 604.11,30.06 604.53,30.98 604.94,31.92 605.36,32.88 605.77,33.87 606.19,34.88 606.61,35.90 607.02,36.95 607.44,38.02 607.85,39.11 608.27,40.21 608.69,41.33 609.10,42.47 609.52,43.62 609.93,44.79 610.35,45.96 610.77,47.15 611.18,48.36 611.60,49.57 612.01,50.79 612.43,52.02 612.85,53.25 613.26,54.50 613.68,55.75 614.09,57.00 614.51,58.25 614.93,59.51 615.34,60.77 615.76,62.03 616.17,63.29 616.59,64.55 617.01,65.80 617.42,67.05 617.84,68.30 618.25,69.55 618.67,70.78 619.09,72.01 619.50,73.24 619.92,74.45 620.33,75.66 620.75,76.86 621.17,78.04 621.58,79.22 622.00,80.38 622.41,81.53 622.83,82.67 623.25,83.79 623.66,84.90 624.08,85.99 624.49,87.07 624.91,88.14 625.33,89.18 625.74,90.21 626.16,91.22 626.58,92.22 626.99,93.20 627.41,94.16 627.82,95.10 628.24,96.02 628.66,96.92 629.07,97.81 629.49,98.67 629.90,99.52 630.32,100.34 630.74,101.15 631.15,101.94 631.57,102.70 631.98,103.45 632.40,104.18 632.82,104.89 633.23,105.57 633.65,106.24 634.06,106.89 634.48,107.52 634.90,108.14 635.31,108.73 635.73,109.30 636.14,109.86 636.56,110.39 636.98,110.91 637.39,111.42 637.81,111.90 638.22,112.37 638.64,112.82 639.06,113.25 639.47,113.67 639.89,114.07 640.30,114.46 640.72,114.83 641.14,115.18 641.55,115.52 641.97,115.85 642.38,116.16 642.80,116.46 643.22,116.75 643.63,117.03 644.05,117.29 644.46,117.54 644.88,117.78 645.30,118.00 645.71,118.22 646.13,118.43 646.55,118.62 646.96,118.81 647.38,118.98 647.79,119.15 648.21,119.31 648.63,119.46 649.04,119.60 649.46,119.74 649.87,119.87 650.29,119.99 650.71,120.10 651.12,120.21 651.54,120.31 651.95,120.40 652.37,120.49 652.79,120.58 653.20,120.66 653.62,120.73 654.03,120.80 654.45,120.87 654.87,120.93 655.28,120.98 655.70,121.04 656.11,121.09 656.53,121.13 656.95,121.18 657.36,121.22 657.78,121.26 658.19,121.29 658.61,121.32 659.03,121.35 659.44,121.38 659.86,121.41 660.27,121.43 660.69,121.45 661.11,121.47 661.52,121.49 661.94,121.51 662.35,121.53 662.77,121.54 663.19,121.56 663.60,121.57 664.02,121.58 664.43,121.59 664.85,121.60 665.27,121.61 665.68,121.62 666.10,121.63 666.52,121.63 666.93,121.64 667.35,121.65 667.76,121.65 668.18,121.66 668.60,121.66 669.01,121.66 669.43,121.67 669.84,121.67 670.26,121.67 670.68,121.68 671.09,121.68 671.51,121.68 671.92,121.68 672.34,121.68 672.76,121.69 673.17,121.69 673.59,121.69 674.00,121.69 674.42,121.69 674.84,121.69 675.25,121.69 675.67,121.69 676.08,121.69 676.50,121.70" fill="none" stroke="#FF7F00" stroke-width="1.35" stroke-linejoin="round" clip-path="url(#clipC)"/>
<rect x="502.4" y="10.4" width="181.89999999999998" height="116.05" fill="none" stroke="#333333" stroke-width="0.95"/>
<line x1="510.5" y1="126.45" x2="510.5" y2="129.05" stroke="#333333" stroke-width="0.95"/>
<text x="510.5" y="136.95" font-size="8" text-anchor="middle" fill="#4D4D4D" stroke="#4D4D4D" font-weight="normal" font-style="normal" >0</text>
<line x1="565.83" y1="126.45" x2="565.83" y2="129.05" stroke="#333333" stroke-width="0.95"/>
<use href="#oneR" transform="translate(561.384,136.950) scale(0.003906,-0.003906)" fill="#4D4D4D" stroke="#4D4D4D" stroke-width="25.6"/>
<text x="565.83" y="136.95" font-size="8" text-anchor="middle" fill="#4D4D4D" stroke="#4D4D4D" font-weight="normal" font-style="normal" > 0</text>
<line x1="621.17" y1="126.45" x2="621.17" y2="129.05" stroke="#333333" stroke-width="0.95"/>
<text x="621.17" y="136.95" font-size="8" text-anchor="middle" fill="#4D4D4D" stroke="#4D4D4D" font-weight="normal" font-style="normal" >20</text>
<line x1="676.5" y1="126.45" x2="676.5" y2="129.05" stroke="#333333" stroke-width="0.95"/>
<text x="676.5" y="136.95" font-size="8" text-anchor="middle" fill="#4D4D4D" stroke="#4D4D4D" font-weight="normal" font-style="normal" >30</text>
<line x1="499.8" y1="121.7" x2="502.4" y2="121.7" stroke="#333333" stroke-width="0.95"/>
<text x="497.8" y="124.55" font-size="8" text-anchor="end" fill="#4D4D4D" stroke="#4D4D4D" font-weight="normal" font-style="normal" >0.000</text>
<line x1="499.8" y1="94.33" x2="502.4" y2="94.33" stroke="#333333" stroke-width="0.95"/>
<text x="497.8" y="97.17" font-size="8" text-anchor="end" fill="#4D4D4D" stroke="#4D4D4D" font-weight="normal" font-style="normal" >0.025</text>
<line x1="499.8" y1="66.95" x2="502.4" y2="66.95" stroke="#333333" stroke-width="0.95"/>
<text x="497.8" y="69.8" font-size="8" text-anchor="end" fill="#4D4D4D" stroke="#4D4D4D" font-weight="normal" font-style="normal" >0.050</text>
<line x1="499.8" y1="39.58" x2="502.4" y2="39.58" stroke="#333333" stroke-width="0.95"/>
<text x="497.8" y="42.43" font-size="8" text-anchor="end" fill="#4D4D4D" stroke="#4D4D4D" font-weight="normal" font-style="normal" >0.075</text>
<line x1="499.8" y1="12.2" x2="502.4" y2="12.2" stroke="#333333" stroke-width="0.95"/>
<use href="#oneR" transform="translate(484.452,15.050) scale(0.003906,-0.003906)" fill="#4D4D4D" stroke="#4D4D4D" stroke-width="25.6"/>
<text x="497.8" y="15.05" font-size="8" text-anchor="end" fill="#4D4D4D" stroke="#4D4D4D" font-weight="normal" font-style="normal" >0. 00</text>
<rect x="188.8" y="19.4" width="28.2" height="28.9" fill="#fff"/>
<use href="#oneB" transform="translate(198.300,21.600) scale(0.004541,-0.004541)" fill="#000" stroke="#000" stroke-width="22.0"/>
<text x="198.3" y="21.6" font-size="9.3" text-anchor="start" fill="#000" stroke="#000" font-weight="bold" font-style="normal" > D</text>
<line x1="194" y1="29.6" x2="200.2" y2="29.6" stroke="#1F78B4" stroke-width="1.35"/>
<line x1="194" y1="38.7" x2="200.2" y2="38.7" stroke="#A6CEE3" stroke-width="1.35"/>
<text x="206.2" y="31.1" font-size="8" font-style="italic" fill="#000" stroke="#000">f<tspan font-size="6.4" dy="1.9">X</tspan></text>
<text x="206.2" y="40.2" font-size="8" font-style="italic" fill="#000" stroke="#000">f<tspan font-size="6.4" dy="1.9">Y</tspan></text>
<rect x="420.7" y="19.4" width="28.2" height="28.9" fill="#fff"/>
<text x="428.3" y="21.6" font-size="9.3" text-anchor="start" fill="#000" stroke="#000" font-weight="bold" font-style="normal" >2D</text>
<line x1="425.9" y1="29.6" x2="432.1" y2="29.6" stroke="#33A02C" stroke-width="1.35"/>
<line x1="425.9" y1="38.7" x2="432.1" y2="38.7" stroke="#B2DF8A" stroke-width="1.35"/>
<text x="438.1" y="31.1" font-size="8" font-style="italic" fill="#000" stroke="#000">f<tspan font-size="6.4" dy="1.9">X</tspan></text>
<text x="438.1" y="40.2" font-size="8" font-style="italic" fill="#000" stroke="#000">f<tspan font-size="6.4" dy="1.9">Y</tspan></text>
<rect x="652.7" y="19.4" width="28.2" height="28.9" fill="#fff"/>
<text x="660.3" y="21.6" font-size="9.3" text-anchor="start" fill="#000" stroke="#000" font-weight="bold" font-style="normal" >3D</text>
<line x1="657.9" y1="29.6" x2="664.1" y2="29.6" stroke="#FF7F00" stroke-width="1.35"/>
<line x1="657.9" y1="38.7" x2="664.1" y2="38.7" stroke="#FDBF6F" stroke-width="1.35"/>
<text x="670.1" y="31.1" font-size="8" font-style="italic" fill="#000" stroke="#000">f<tspan font-size="6.4" dy="1.9">X</tspan></text>
<text x="670.1" y="40.2" font-size="8" font-style="italic" fill="#000" stroke="#000">f<tspan font-size="6.4" dy="1.9">Y</tspan></text>
<text transform="translate(7.3,68.8) rotate(-90)" text-anchor="middle" font-size="10.1" fill="#000" stroke="#000"><tspan font-style="italic">f</tspan><tspan font-size="7.8" font-style="italic" dy="2.2">X</tspan><tspan dy="-2.2">(</tspan><tspan font-style="italic">x</tspan><tspan>) or </tspan><tspan font-style="italic">f</tspan><tspan font-size="7.8" font-style="italic" dy="2.2">Y</tspan><tspan dy="-2.2">(</tspan><tspan font-style="italic">y</tspan><tspan>)</tspan></text>
<text transform="translate(239.5,68.3) rotate(-90)" text-anchor="middle" font-size="10.1" fill="#000" stroke="#000"><tspan font-style="italic">f</tspan><tspan font-size="7.8" font-style="italic" dy="2.2">X</tspan><tspan dy="-2.2">(</tspan><tspan font-style="italic">x</tspan><tspan>) or </tspan><tspan font-style="italic">f</tspan><tspan font-size="7.8" font-style="italic" dy="2.2">Y</tspan><tspan dy="-2.2">(</tspan><tspan font-style="italic">y</tspan><tspan>)</tspan></text>
<text transform="translate(471.2,68.3) rotate(-90)" text-anchor="middle" font-size="10.1" fill="#000" stroke="#000"><tspan font-style="italic">f</tspan><tspan font-size="7.8" font-style="italic" dy="2.2">X</tspan><tspan dy="-2.2">(</tspan><tspan font-style="italic">x</tspan><tspan>) or </tspan><tspan font-style="italic">f</tspan><tspan font-size="7.8" font-style="italic" dy="2.2">Y</tspan><tspan dy="-2.2">(</tspan><tspan font-style="italic">y</tspan><tspan>)</tspan></text>
<text x="130.1" y="148.5" text-anchor="middle" font-size="10.1" fill="#000" stroke="#000"><tspan>population radius, </tspan><tspan font-style="italic">x</tspan><tspan> or </tspan><tspan font-style="italic">y</tspan></text>
<text x="360.1" y="148.2" text-anchor="middle" font-size="10.1" fill="#000" stroke="#000"><tspan>population radius, </tspan><tspan font-style="italic">x</tspan><tspan> or </tspan><tspan font-style="italic">y</tspan></text>
<text x="593.4" y="148.2" text-anchor="middle" font-size="10.1" fill="#000" stroke="#000"><tspan>population radius, </tspan><tspan font-style="italic">x</tspan><tspan> or </tspan><tspan font-style="italic">y</tspan></text>
<text x="39.8" y="8" font-size="11.5" text-anchor="start" fill="#000" stroke="#000" font-weight="bold" font-style="normal" >A</text>
<text x="266.8" y="8" font-size="11.5" text-anchor="start" fill="#000" stroke="#000" font-weight="bold" font-style="normal" >B</text>
<text x="502.4" y="8" font-size="11.5" text-anchor="start" fill="#000" stroke="#000" font-weight="bold" font-style="normal" >C</text>
<clipPath id="clipD"><rect x="32.45" y="161.4" width="189.05" height="115.1"/></clipPath>
<line x1="82.68" y1="161.4" x2="82.68" y2="276.5" stroke="#EBEBEB" stroke-width="0.55"/>
<line x1="134.85" y1="161.4" x2="134.85" y2="276.5" stroke="#EBEBEB" stroke-width="0.55"/>
<line x1="187.02" y1="161.4" x2="187.02" y2="276.5" stroke="#EBEBEB" stroke-width="0.55"/>
<line x1="32.45" y1="258.43" x2="221.5" y2="258.43" stroke="#EBEBEB" stroke-width="0.55"/>
<line x1="32.45" y1="232.08" x2="221.5" y2="232.08" stroke="#EBEBEB" stroke-width="0.55"/>
<line x1="32.45" y1="205.72" x2="221.5" y2="205.72" stroke="#EBEBEB" stroke-width="0.55"/>
<line x1="32.45" y1="179.38" x2="221.5" y2="179.38" stroke="#EBEBEB" stroke-width="0.55"/>
<line x1="56.6" y1="161.4" x2="56.6" y2="276.5" stroke="#EBEBEB" stroke-width="1.1"/>
<line x1="108.77" y1="161.4" x2="108.77" y2="276.5" stroke="#EBEBEB" stroke-width="1.1"/>
<line x1="160.93" y1="161.4" x2="160.93" y2="276.5" stroke="#EBEBEB" stroke-width="1.1"/>
<line x1="213.1" y1="161.4" x2="213.1" y2="276.5" stroke="#EBEBEB" stroke-width="1.1"/>
<line x1="32.45" y1="271.6" x2="221.5" y2="271.6" stroke="#EBEBEB" stroke-width="1.1"/>
<line x1="32.45" y1="245.25" x2="221.5" y2="245.25" stroke="#EBEBEB" stroke-width="1.1"/>
<line x1="32.45" y1="218.9" x2="221.5" y2="218.9" stroke="#EBEBEB" stroke-width="1.1"/>
<line x1="32.45" y1="192.55" x2="221.5" y2="192.55" stroke="#EBEBEB" stroke-width="1.1"/>
<line x1="32.45" y1="166.2" x2="221.5" y2="166.2" stroke="#EBEBEB" stroke-width="1.1"/>
<polyline points="29.32,166.20 29.94,166.20 30.55,166.20 31.17,166.20 31.78,166.20 32.40,166.20 33.01,166.20 33.63,166.20 34.24,166.20 34.85,166.20 35.47,166.20 36.08,166.20 36.70,166.20 37.31,166.20 37.93,166.20 38.54,166.20 39.16,166.20 39.77,166.20 40.39,166.20 41.00,166.20 41.62,166.20 42.23,166.20 42.85,166.20 43.46,166.20 44.07,166.20 44.69,166.20 45.30,166.20 45.92,166.20 46.53,166.20 47.15,166.20 47.76,166.20 48.38,166.20 48.99,166.20 49.61,166.20 50.22,166.20 50.84,166.20 51.45,166.20 52.06,166.20 52.68,166.20 53.29,166.20 53.91,166.20 54.52,166.20 55.14,166.20 55.75,166.20 56.37,166.20 56.98,166.20 57.60,166.20 58.21,166.20 58.83,166.20 59.44,166.20 60.06,166.20 60.67,166.20 61.28,166.20 61.90,166.20 62.51,166.20 63.13,166.20 63.74,166.20 64.36,166.20 64.97,166.20 65.59,166.20 66.20,166.20 66.82,166.21 67.43,166.21 68.05,166.21 68.66,166.21 69.27,166.21 69.89,166.21 70.50,166.21 71.12,166.21 71.73,166.21 72.35,166.21 72.96,166.21 73.58,166.21 74.19,166.21 74.81,166.21 75.42,166.21 76.04,166.21 76.65,166.21 77.26,166.21 77.88,166.21 78.49,166.21 79.11,166.22 79.72,166.22 80.34,166.22 80.95,166.22 81.57,166.22 82.18,166.22 82.80,166.22 83.41,166.22 84.03,166.22 84.64,166.23 85.26,166.23 85.87,166.23 86.48,166.23 87.10,166.23 87.71,166.23 88.33,166.23 88.94,166.24 89.56,166.24 90.17,166.24 90.79,166.24 91.40,166.25 92.02,166.25 92.63,166.25 93.25,166.25 93.86,166.26 94.47,166.26 95.09,166.26 95.70,166.27 96.32,166.27 96.93,166.27 97.55,166.28 98.16,166.28 98.78,166.29 99.39,166.29 100.01,166.30 100.62,166.30 101.24,166.31 101.85,166.31 102.47,166.32 103.08,166.33 103.69,166.34 104.31,166.34 104.92,166.35 105.54,166.36 106.15,166.37 106.77,166.38 107.38,166.39 108.00,166.40 108.61,166.41 109.23,166.42 109.84,166.43 110.46,166.45 111.07,166.46 111.68,166.47 112.30,166.49 112.91,166.51 113.53,166.52 114.14,166.54 114.76,166.56 115.37,166.58 115.99,166.60 116.60,166.62 117.22,166.65 117.83,166.67 118.45,166.70 119.06,166.72 119.67,166.75 120.29,166.78 120.90,166.82 121.52,166.85 122.13,166.89 122.75,166.93 123.36,166.97 123.98,167.01 124.59,167.05 125.21,167.10 125.82,167.15 126.44,167.20 127.05,167.26 127.67,167.32 128.28,167.38 128.89,167.44 129.51,167.51 130.12,167.59 130.74,167.66 131.35,167.74 131.97,167.83 132.58,167.92 133.20,168.02 133.81,168.12 134.43,168.22 135.04,168.33 135.66,168.45 136.27,168.57 136.88,168.71 137.50,168.84 138.11,168.99 138.73,169.14 139.34,169.30 139.96,169.47 140.57,169.65 141.19,169.84 141.80,170.04 142.42,170.25 143.03,170.47 143.65,170.71 144.26,170.95 144.88,171.21 145.49,171.48 146.10,171.77 146.72,172.07 147.33,172.39 147.95,172.72 148.56,173.07 149.18,173.44 149.79,173.83 150.41,174.24 151.02,174.67 151.64,175.12 152.25,175.60 152.87,176.10 153.48,176.62 154.09,177.17 154.71,177.75 155.32,178.35 155.94,178.99 156.55,179.65 157.17,180.35 157.78,181.08 158.40,181.84 159.01,182.65 159.63,183.48 160.24,184.36 160.86,185.27 161.47,186.23 162.09,187.23 162.70,188.27 163.31,189.35 163.93,190.48 164.54,191.66 165.16,192.88 165.77,194.15 166.39,195.47 167.00,196.84 167.62,198.25 168.23,199.72 168.85,201.24 169.46,202.81 170.08,204.43 170.69,206.09 171.30,207.81 171.92,209.57 172.53,211.37 173.15,213.22 173.76,215.12 174.38,217.05 174.99,219.01 175.61,221.01 176.22,223.04 176.84,225.10 177.45,227.17 178.07,229.26 178.68,231.36 179.29,233.46 179.91,235.56 180.52,237.66 181.14,239.74 181.75,241.79 182.37,243.82 182.98,245.81 183.60,247.76 184.21,249.65 184.83,251.49 185.44,253.27 186.06,254.97 186.67,256.60 187.29,258.14 187.90,259.60 188.51,260.97 189.13,262.25 189.74,263.43 190.36,264.51 190.97,265.50 191.59,266.40 192.20,267.20 192.82,267.92 193.43,268.54 194.05,269.09 194.66,269.56 195.28,269.97 195.89,270.30 196.50,270.59 197.12,270.82 197.73,271.00 198.35,271.15 198.96,271.27 199.58,271.36 200.19,271.43 200.81,271.48 201.42,271.52 202.04,271.55 202.65,271.56 203.27,271.58 203.88,271.59 204.50,271.59 205.11,271.59 205.72,271.60 206.34,271.60 206.95,271.60 207.57,271.60 208.18,271.60 208.80,271.60 209.41,271.60 210.03,271.60 210.64,271.60 211.26,271.60 211.87,271.60 212.49,271.60 213.10,271.60" fill="none" stroke="#1F78B4" stroke-width="1.5" stroke-linejoin="round" stroke-dasharray="2.58 2.58" stroke-dashoffset="-0.9" clip-path="url(#clipD)"/>
<polyline points="29.32,166.20 29.94,166.20 30.55,166.20 31.17,166.20 31.78,166.20 32.40,166.20 33.01,166.20 33.63,166.20 34.24,166.20 34.85,166.20 35.47,166.20 36.08,166.20 36.70,166.20 37.31,166.20 37.93,166.20 38.54,166.20 39.16,166.20 39.77,166.20 40.39,166.20 41.00,166.20 41.62,166.20 42.23,166.20 42.85,166.20 43.46,166.20 44.07,166.20 44.69,166.20 45.30,166.20 45.92,166.20 46.53,166.20 47.15,166.20 47.76,166.20 48.38,166.20 48.99,166.20 49.61,166.20 50.22,166.20 50.84,166.20 51.45,166.20 52.06,166.20 52.68,166.20 53.29,166.20 53.91,166.20 54.52,166.21 55.14,166.21 55.75,166.21 56.37,166.21 56.98,166.21 57.60,166.21 58.21,166.21 58.83,166.21 59.44,166.21 60.06,166.21 60.67,166.21 61.28,166.21 61.90,166.21 62.51,166.22 63.13,166.22 63.74,166.22 64.36,166.22 64.97,166.22 65.59,166.22 66.20,166.23 66.82,166.23 67.43,166.23 68.05,166.23 68.66,166.23 69.27,166.24 69.89,166.24 70.50,166.24 71.12,166.25 71.73,166.25 72.35,166.26 72.96,166.26 73.58,166.27 74.19,166.27 74.81,166.28 75.42,166.29 76.04,166.29 76.65,166.30 77.26,166.31 77.88,166.32 78.49,166.33 79.11,166.34 79.72,166.35 80.34,166.36 80.95,166.38 81.57,166.39 82.18,166.41 82.80,166.43 83.41,166.45 84.03,166.47 84.64,166.49 85.26,166.51 85.87,166.54 86.48,166.57 87.10,166.60 87.71,166.63 88.33,166.67 88.94,166.71 89.56,166.75 90.17,166.80 90.79,166.85 91.40,166.91 92.02,166.97 92.63,167.03 93.25,167.10 93.86,167.18 94.47,167.26 95.09,167.35 95.70,167.45 96.32,167.55 96.93,167.67 97.55,167.79 98.16,167.92 98.78,168.07 99.39,168.23 100.01,168.40 100.62,168.58 101.24,168.78 101.85,168.99 102.47,169.23 103.08,169.48 103.69,169.75 104.31,170.05 104.92,170.37 105.54,170.72 106.15,171.09 106.77,171.49 107.38,171.93 108.00,172.40 108.61,172.91 109.23,173.46 109.84,174.05 110.46,174.69 111.07,175.38 111.68,176.12 112.30,176.91 112.91,177.77 113.53,178.69 114.14,179.68 114.76,180.74 115.37,181.88 115.99,183.09 116.60,184.40 117.22,185.79 117.83,187.27 118.45,188.85 119.06,190.53 119.67,192.31 120.29,194.20 120.90,196.20 121.52,198.32 122.13,200.54 122.75,202.88 123.36,205.32 123.98,207.88 124.59,210.54 125.21,213.30 125.82,216.16 126.44,219.10 127.05,222.11 127.67,225.18 128.28,228.30 128.89,231.45 129.51,234.60 130.12,237.75 130.74,240.85 131.35,243.90 131.97,246.87 132.58,249.73 133.20,252.46 133.81,255.04 134.43,257.44 135.04,259.66 135.66,261.67 136.27,263.48 136.88,265.06 137.50,266.44 138.11,267.60 138.73,268.57 139.34,269.36 139.96,269.98 140.57,270.46 141.19,270.83 141.80,271.09 142.42,271.28 143.03,271.40 143.65,271.48 144.26,271.53 144.88,271.56 145.49,271.58 146.10,271.59 146.72,271.60 147.33,271.60 147.95,271.60 148.56,271.60 149.18,271.60 149.79,271.60 150.41,271.60 151.02,271.60 151.64,271.60 152.25,271.60 152.87,271.60 153.48,271.60 154.09,271.60 154.71,271.60 155.32,271.60 155.94,271.60 156.55,271.60 157.17,271.60 157.78,271.60 158.40,271.60 159.01,271.60 159.63,271.60 160.24,271.60 160.86,271.60 161.47,271.60 162.09,271.60 162.70,271.60 163.31,271.60 163.93,271.60 164.54,271.60 165.16,271.60 165.77,271.60 166.39,271.60 167.00,271.60 167.62,271.60 168.23,271.60 168.85,271.60 169.46,271.60 170.08,271.60 170.69,271.60 171.30,271.60 171.92,271.60 172.53,271.60 173.15,271.60 173.76,271.60 174.38,271.60 174.99,271.60 175.61,271.60 176.22,271.60 176.84,271.60 177.45,271.60 178.07,271.60 178.68,271.60 179.29,271.60 179.91,271.60 180.52,271.60 181.14,271.60 181.75,271.60 182.37,271.60 182.98,271.60 183.60,271.60 184.21,271.60 184.83,271.60 185.44,271.60 186.06,271.60 186.67,271.60 187.29,271.60 187.90,271.60 188.51,271.60 189.13,271.60 189.74,271.60 190.36,271.60 190.97,271.60 191.59,271.60 192.20,271.60 192.82,271.60 193.43,271.60 194.05,271.60 194.66,271.60 195.28,271.60 195.89,271.60 196.50,271.60 197.12,271.60 197.73,271.60 198.35,271.60 198.96,271.60 199.58,271.60 200.19,271.60 200.81,271.60 201.42,271.60 202.04,271.60 202.65,271.60 203.27,271.60 203.88,271.60 204.50,271.60 205.11,271.60 205.72,271.60 206.34,271.60 206.95,271.60 207.57,271.60 208.18,271.60 208.80,271.60 209.41,271.60 210.03,271.60 210.64,271.60 211.26,271.60 211.87,271.60 212.49,271.60 213.10,271.60" fill="none" stroke="#33A02C" stroke-width="1.5" stroke-linejoin="round" stroke-dasharray="2.58 2.58" stroke-dashoffset="2.5" clip-path="url(#clipD)"/>
<polyline points="29.32,166.20 29.94,166.20 30.55,166.20 31.17,166.20 31.78,166.20 32.40,166.20 33.01,166.20 33.63,166.20 34.24,166.20 34.85,166.20 35.47,166.20 36.08,166.20 36.70,166.20 37.31,166.20 37.93,166.20 38.54,166.20 39.16,166.20 39.77,166.20 40.39,166.20 41.00,166.20 41.62,166.20 42.23,166.20 42.85,166.20 43.46,166.20 44.07,166.20 44.69,166.20 45.30,166.20 45.92,166.20 46.53,166.20 47.15,166.20 47.76,166.20 48.38,166.20 48.99,166.20 49.61,166.21 50.22,166.21 50.84,166.21 51.45,166.21 52.06,166.21 52.68,166.21 53.29,166.21 53.91,166.21 54.52,166.21 55.14,166.21 55.75,166.22 56.37,166.22 56.98,166.22 57.60,166.22 58.21,166.22 58.83,166.23 59.44,166.23 60.06,166.23 60.67,166.24 61.28,166.24 61.90,166.25 62.51,166.25 63.13,166.26 63.74,166.27 64.36,166.27 64.97,166.28 65.59,166.29 66.20,166.30 66.82,166.31 67.43,166.32 68.05,166.34 68.66,166.36 69.27,166.37 69.89,166.39 70.50,166.41 71.12,166.44 71.73,166.47 72.35,166.50 72.96,166.53 73.58,166.57 74.19,166.61 74.81,166.66 75.42,166.71 76.04,166.77 76.65,166.83 77.26,166.91 77.88,166.99 78.49,167.08 79.11,167.18 79.72,167.29 80.34,167.41 80.95,167.55 81.57,167.71 82.18,167.88 82.80,168.07 83.41,168.28 84.03,168.51 84.64,168.78 85.26,169.07 85.87,169.39 86.48,169.75 87.10,170.15 87.71,170.59 88.33,171.09 88.94,171.63 89.56,172.24 90.17,172.90 90.79,173.65 91.40,174.46 92.02,175.37 92.63,176.37 93.25,177.47 93.86,178.68 94.47,180.01 95.09,181.48 95.70,183.08 96.32,184.83 96.93,186.75 97.55,188.83 98.16,191.09 98.78,193.54 99.39,196.18 100.01,199.02 100.62,202.06 101.24,205.29 101.85,208.72 102.47,212.34 103.08,216.12 103.69,220.06 104.31,224.12 104.92,228.26 105.54,232.46 106.15,236.66 106.77,240.82 107.38,244.87 108.00,248.76 108.61,252.43 109.23,255.83 109.84,258.92 110.46,261.65 111.07,264.01 111.68,265.99 112.30,267.59 112.91,268.84 113.53,269.78 114.14,270.46 114.76,270.92 115.37,271.22 115.99,271.40 116.60,271.50 117.22,271.56 117.83,271.58 118.45,271.59 119.06,271.60 119.67,271.60 120.29,271.60 120.90,271.60 121.52,271.60 122.13,271.60 122.75,271.60 123.36,271.60 123.98,271.60 124.59,271.60 125.21,271.60 125.82,271.60 126.44,271.60 127.05,271.60 127.67,271.60 128.28,271.60 128.89,271.60 129.51,271.60 130.12,271.60 130.74,271.60 131.35,271.60 131.97,271.60 132.58,271.60 133.20,271.60 133.81,271.60 134.43,271.60 135.04,271.60 135.66,271.60 136.27,271.60 136.88,271.60 137.50,271.60 138.11,271.60 138.73,271.60 139.34,271.60 139.96,271.60 140.57,271.60 141.19,271.60 141.80,271.60 142.42,271.60 143.03,271.60 143.65,271.60 144.26,271.60 144.88,271.60 145.49,271.60 146.10,271.60 146.72,271.60 147.33,271.60 147.95,271.60 148.56,271.60 149.18,271.60 149.79,271.60 150.41,271.60 151.02,271.60 151.64,271.60 152.25,271.60 152.87,271.60 153.48,271.60 154.09,271.60 154.71,271.60 155.32,271.60 155.94,271.60 156.55,271.60 157.17,271.60 157.78,271.60 158.40,271.60 159.01,271.60 159.63,271.60 160.24,271.60 160.86,271.60 161.47,271.60 162.09,271.60 162.70,271.60 163.31,271.60 163.93,271.60 164.54,271.60 165.16,271.60 165.77,271.60 166.39,271.60 167.00,271.60 167.62,271.60 168.23,271.60 168.85,271.60 169.46,271.60 170.08,271.60 170.69,271.60 171.30,271.60 171.92,271.60 172.53,271.60 173.15,271.60 173.76,271.60 174.38,271.60 174.99,271.60 175.61,271.60 176.22,271.60 176.84,271.60 177.45,271.60 178.07,271.60 178.68,271.60 179.29,271.60 179.91,271.60 180.52,271.60 181.14,271.60 181.75,271.60 182.37,271.60 182.98,271.60 183.60,271.60 184.21,271.60 184.83,271.60 185.44,271.60 186.06,271.60 186.67,271.60 187.29,271.60 187.90,271.60 188.51,271.60 189.13,271.60 189.74,271.60 190.36,271.60 190.97,271.60 191.59,271.60 192.20,271.60 192.82,271.60 193.43,271.60 194.05,271.60 194.66,271.60 195.28,271.60 195.89,271.60 196.50,271.60 197.12,271.60 197.73,271.60 198.35,271.60 198.96,271.60 199.58,271.60 200.19,271.60 200.81,271.60 201.42,271.60 202.04,271.60 202.65,271.60 203.27,271.60 203.88,271.60 204.50,271.60 205.11,271.60 205.72,271.60 206.34,271.60 206.95,271.60 207.57,271.60 208.18,271.60 208.80,271.60 209.41,271.60 210.03,271.60 210.64,271.60 211.26,271.60 211.87,271.60 212.49,271.60 213.10,271.60" fill="none" stroke="#FF7F00" stroke-width="1.5" stroke-linejoin="round" stroke-dasharray="2.58 2.58" stroke-dashoffset="2.1" clip-path="url(#clipD)"/>
<polyline points="29.32,166.20 29.94,166.20 30.55,166.20 31.17,166.20 31.78,166.20 32.40,166.20 33.01,166.20 33.63,166.20 34.24,166.20 34.85,166.20 35.47,166.20 36.08,166.20 36.70,166.20 37.31,166.20 37.93,166.20 38.54,166.20 39.16,166.20 39.77,166.20 40.39,166.20 41.00,166.20 41.62,166.20 42.23,166.20 42.85,166.20 43.46,166.20 44.07,166.20 44.69,166.20 45.30,166.20 45.92,166.20 46.53,166.20 47.15,166.20 47.76,166.20 48.38,166.20 48.99,166.20 49.61,166.20 50.22,166.20 50.84,166.20 51.45,166.20 52.06,166.20 52.68,166.20 53.29,166.20 53.91,166.20 54.52,166.20 55.14,166.20 55.75,166.20 56.37,166.20 56.98,166.20 57.60,166.20 58.21,166.20 58.83,166.20 59.44,166.20 60.06,166.20 60.67,166.20 61.28,166.20 61.90,166.20 62.51,166.20 63.13,166.20 63.74,166.20 64.36,166.20 64.97,166.20 65.59,166.20 66.20,166.20 66.82,166.20 67.43,166.20 68.05,166.20 68.66,166.20 69.27,166.21 69.89,166.21 70.50,166.21 71.12,166.21 71.73,166.21 72.35,166.21 72.96,166.21 73.58,166.21 74.19,166.21 74.81,166.21 75.42,166.21 76.04,166.21 76.65,166.21 77.26,166.21 77.88,166.21 78.49,166.21 79.11,166.21 79.72,166.21 80.34,166.21 80.95,166.21 81.57,166.21 82.18,166.22 82.80,166.22 83.41,166.22 84.03,166.22 84.64,166.22 85.26,166.22 85.87,166.22 86.48,166.22 87.10,166.22 87.71,166.23 88.33,166.23 88.94,166.23 89.56,166.23 90.17,166.23 90.79,166.23 91.40,166.24 92.02,166.24 92.63,166.24 93.25,166.24 93.86,166.24 94.47,166.25 95.09,166.25 95.70,166.25 96.32,166.25 96.93,166.26 97.55,166.26 98.16,166.26 98.78,166.27 99.39,166.27 100.01,166.28 100.62,166.28 101.24,166.28 101.85,166.29 102.47,166.29 103.08,166.30 103.69,166.31 104.31,166.31 104.92,166.32 105.54,166.32 106.15,166.33 106.77,166.34 107.38,166.35 108.00,166.35 108.61,166.36 109.23,166.37 109.84,166.38 110.46,166.39 111.07,166.40 111.68,166.41 112.30,166.42 112.91,166.44 113.53,166.45 114.14,166.46 114.76,166.48 115.37,166.49 115.99,166.51 116.60,166.53 117.22,166.55 117.83,166.57 118.45,166.59 119.06,166.61 119.67,166.63 120.29,166.65 120.90,166.68 121.52,166.71 122.13,166.73 122.75,166.76 123.36,166.79 123.98,166.83 124.59,166.86 125.21,166.90 125.82,166.94 126.44,166.98 127.05,167.02 127.67,167.07 128.28,167.12 128.89,167.17 129.51,167.22 130.12,167.28 130.74,167.34 131.35,167.40 131.97,167.47 132.58,167.54 133.20,167.61 133.81,167.69 134.43,167.77 135.04,167.86 135.66,167.95 136.27,168.05 136.88,168.15 137.50,168.26 138.11,168.37 138.73,168.49 139.34,168.62 139.96,168.75 140.57,168.89 141.19,169.04 141.80,169.19 142.42,169.36 143.03,169.53 143.65,169.72 144.26,169.91 144.88,170.11 145.49,170.32 146.10,170.55 146.72,170.79 147.33,171.04 147.95,171.30 148.56,171.58 149.18,171.87 149.79,172.18 150.41,172.50 151.02,172.84 151.64,173.20 152.25,173.57 152.87,173.97 153.48,174.38 154.09,174.82 154.71,175.28 155.32,175.76 155.94,176.27 156.55,176.80 157.17,177.36 157.78,177.95 158.40,178.56 159.01,179.21 159.63,179.88 160.24,180.59 160.86,181.33 161.47,182.11 162.09,182.92 162.70,183.77 163.31,184.66 163.93,185.59 164.54,186.56 165.16,187.57 165.77,188.63 166.39,189.72 167.00,190.87 167.62,192.06 168.23,193.30 168.85,194.59 169.46,195.92 170.08,197.31 170.69,198.74 171.30,200.23 171.92,201.76 172.53,203.35 173.15,204.98 173.76,206.66 174.38,208.39 174.99,210.17 175.61,211.99 176.22,213.86 176.84,215.76 177.45,217.70 178.07,219.68 178.68,221.69 179.29,223.73 179.91,225.79 180.52,227.87 181.14,229.96 181.75,232.06 182.37,234.17 182.98,236.27 183.60,238.36 184.21,240.43 184.83,242.48 185.44,244.49 186.06,246.47 186.67,248.40 187.29,250.28 187.90,252.09 188.51,253.85 189.13,255.52 189.74,257.12 190.36,258.64 190.97,260.07 191.59,261.41 192.20,262.65 192.82,263.80 193.43,264.86 194.05,265.81 194.66,266.68 195.28,267.45 195.89,268.14 196.50,268.74 197.12,269.26 197.73,269.71 198.35,270.09 198.96,270.41 199.58,270.67 200.19,270.89 200.81,271.06 201.42,271.20 202.04,271.30 202.65,271.39 203.27,271.45 203.88,271.50 204.50,271.53 205.11,271.55 205.72,271.57 206.34,271.58 206.95,271.59 207.57,271.59 208.18,271.60 208.80,271.60 209.41,271.60 210.03,271.60 210.64,271.60 211.26,271.60 211.87,271.60 212.49,271.60 213.10,271.60" fill="none" stroke="#A6CEE3" stroke-width="1.35" stroke-linejoin="round" clip-path="url(#clipD)"/>
<polyline points="29.32,166.20 29.94,166.20 30.55,166.20 31.17,166.20 31.78,166.20 32.40,166.20 33.01,166.20 33.63,166.20 34.24,166.20 34.85,166.20 35.47,166.20 36.08,166.20 36.70,166.20 37.31,166.20 37.93,166.20 38.54,166.20 39.16,166.20 39.77,166.20 40.39,166.20 41.00,166.20 41.62,166.20 42.23,166.20 42.85,166.20 43.46,166.20 44.07,166.20 44.69,166.20 45.30,166.20 45.92,166.20 46.53,166.20 47.15,166.20 47.76,166.20 48.38,166.20 48.99,166.20 49.61,166.20 50.22,166.20 50.84,166.20 51.45,166.20 52.06,166.20 52.68,166.20 53.29,166.20 53.91,166.20 54.52,166.20 55.14,166.20 55.75,166.20 56.37,166.20 56.98,166.21 57.60,166.21 58.21,166.21 58.83,166.21 59.44,166.21 60.06,166.21 60.67,166.21 61.28,166.21 61.90,166.21 62.51,166.21 63.13,166.21 63.74,166.21 64.36,166.21 64.97,166.22 65.59,166.22 66.20,166.22 66.82,166.22 67.43,166.22 68.05,166.22 68.66,166.23 69.27,166.23 69.89,166.23 70.50,166.23 71.12,166.23 71.73,166.24 72.35,166.24 72.96,166.24 73.58,166.25 74.19,166.25 74.81,166.26 75.42,166.26 76.04,166.27 76.65,166.27 77.26,166.28 77.88,166.29 78.49,166.29 79.11,166.30 79.72,166.31 80.34,166.32 80.95,166.33 81.57,166.34 82.18,166.35 82.80,166.36 83.41,166.38 84.03,166.39 84.64,166.41 85.26,166.43 85.87,166.45 86.48,166.47 87.10,166.49 87.71,166.51 88.33,166.54 88.94,166.57 89.56,166.60 90.17,166.63 90.79,166.67 91.40,166.71 92.02,166.75 92.63,166.80 93.25,166.85 93.86,166.90 94.47,166.96 95.09,167.03 95.70,167.10 96.32,167.17 96.93,167.26 97.55,167.35 98.16,167.44 98.78,167.55 99.39,167.66 100.01,167.78 100.62,167.92 101.24,168.06 101.85,168.22 102.47,168.39 103.08,168.57 103.69,168.77 104.31,168.98 104.92,169.22 105.54,169.47 106.15,169.74 106.77,170.04 107.38,170.35 108.00,170.70 108.61,171.07 109.23,171.47 109.84,171.91 110.46,172.38 111.07,172.89 111.68,173.43 112.30,174.02 112.91,174.66 113.53,175.34 114.14,176.08 114.76,176.88 115.37,177.73 115.99,178.65 116.60,179.63 117.22,180.69 117.83,181.82 118.45,183.04 119.06,184.33 119.67,185.72 120.29,187.20 120.90,188.77 121.52,190.45 122.13,192.23 122.75,194.11 123.36,196.11 123.98,198.22 124.59,200.43 125.21,202.77 125.82,205.21 126.44,207.76 127.05,210.42 127.67,213.17 128.28,216.03 128.89,218.96 129.51,221.97 130.12,225.04 130.74,228.16 131.35,231.30 131.97,234.46 132.58,237.60 133.20,240.71 133.81,243.76 134.43,246.74 135.04,249.60 135.66,252.34 136.27,254.92 136.88,257.34 137.50,259.56 138.11,261.59 138.73,263.40 139.34,264.99 139.96,266.38 140.57,267.55 141.19,268.53 141.80,269.32 142.42,269.96 143.03,270.44 143.65,270.81 144.26,271.08 144.88,271.27 145.49,271.40 146.10,271.48 146.72,271.53 147.33,271.56 147.95,271.58 148.56,271.59 149.18,271.60 149.79,271.60 150.41,271.60 151.02,271.60 151.64,271.60 152.25,271.60 152.87,271.60 153.48,271.60 154.09,271.60 154.71,271.60 155.32,271.60 155.94,271.60 156.55,271.60 157.17,271.60 157.78,271.60 158.40,271.60 159.01,271.60 159.63,271.60 160.24,271.60 160.86,271.60 161.47,271.60 162.09,271.60 162.70,271.60 163.31,271.60 163.93,271.60 164.54,271.60 165.16,271.60 165.77,271.60 166.39,271.60 167.00,271.60 167.62,271.60 168.23,271.60 168.85,271.60 169.46,271.60 170.08,271.60 170.69,271.60 171.30,271.60 171.92,271.60 172.53,271.60 173.15,271.60 173.76,271.60 174.38,271.60 174.99,271.60 175.61,271.60 176.22,271.60 176.84,271.60 177.45,271.60 178.07,271.60 178.68,271.60 179.29,271.60 179.91,271.60 180.52,271.60 181.14,271.60 181.75,271.60 182.37,271.60 182.98,271.60 183.60,271.60 184.21,271.60 184.83,271.60 185.44,271.60 186.06,271.60 186.67,271.60 187.29,271.60 187.90,271.60 188.51,271.60 189.13,271.60 189.74,271.60 190.36,271.60 190.97,271.60 191.59,271.60 192.20,271.60 192.82,271.60 193.43,271.60 194.05,271.60 194.66,271.60 195.28,271.60 195.89,271.60 196.50,271.60 197.12,271.60 197.73,271.60 198.35,271.60 198.96,271.60 199.58,271.60 200.19,271.60 200.81,271.60 201.42,271.60 202.04,271.60 202.65,271.60 203.27,271.60 203.88,271.60 204.50,271.60 205.11,271.60 205.72,271.60 206.34,271.60 206.95,271.60 207.57,271.60 208.18,271.60 208.80,271.60 209.41,271.60 210.03,271.60 210.64,271.60 211.26,271.60 211.87,271.60 212.49,271.60 213.10,271.60" fill="none" stroke="#B2DF8A" stroke-width="1.35" stroke-linejoin="round" clip-path="url(#clipD)"/>
<polyline points="29.32,166.20 29.94,166.20 30.55,166.20 31.17,166.20 31.78,166.20 32.40,166.20 33.01,166.20 33.63,166.20 34.24,166.20 34.85,166.20 35.47,166.20 36.08,166.20 36.70,166.20 37.31,166.20 37.93,166.20 38.54,166.20 39.16,166.20 39.77,166.20 40.39,166.20 41.00,166.20 41.62,166.20 42.23,166.20 42.85,166.20 43.46,166.20 44.07,166.20 44.69,166.20 45.30,166.20 45.92,166.20 46.53,166.20 47.15,166.20 47.76,166.20 48.38,166.20 48.99,166.20 49.61,166.20 50.22,166.20 50.84,166.20 51.45,166.20 52.06,166.21 52.68,166.21 53.29,166.21 53.91,166.21 54.52,166.21 55.14,166.21 55.75,166.21 56.37,166.21 56.98,166.21 57.60,166.21 58.21,166.22 58.83,166.22 59.44,166.22 60.06,166.22 60.67,166.22 61.28,166.23 61.90,166.23 62.51,166.23 63.13,166.24 63.74,166.24 64.36,166.25 64.97,166.25 65.59,166.26 66.20,166.26 66.82,166.27 67.43,166.28 68.05,166.29 68.66,166.30 69.27,166.31 69.89,166.32 70.50,166.34 71.12,166.35 71.73,166.37 72.35,166.39 72.96,166.41 73.58,166.44 74.19,166.46 74.81,166.49 75.42,166.53 76.04,166.56 76.65,166.60 77.26,166.65 77.88,166.70 78.49,166.76 79.11,166.82 79.72,166.89 80.34,166.97 80.95,167.06 81.57,167.16 82.18,167.27 82.80,167.39 83.41,167.53 84.03,167.68 84.64,167.85 85.26,168.03 85.87,168.24 86.48,168.47 87.10,168.73 87.71,169.02 88.33,169.34 88.94,169.69 89.56,170.08 90.17,170.52 90.79,171.00 91.40,171.54 92.02,172.13 92.63,172.79 93.25,173.52 93.86,174.32 94.47,175.21 95.09,176.20 95.70,177.28 96.32,178.47 96.93,179.78 97.55,181.23 98.16,182.80 98.78,184.53 99.39,186.42 100.01,188.47 100.62,190.70 101.24,193.12 101.85,195.73 102.47,198.54 103.08,201.54 103.69,204.75 104.31,208.14 104.92,211.73 105.54,215.49 106.15,219.40 106.77,223.44 107.38,227.58 108.00,231.77 108.61,235.97 109.23,240.14 109.84,244.21 110.46,248.13 111.07,251.84 111.68,255.29 112.30,258.43 112.91,261.22 113.53,263.65 114.14,265.69 114.76,267.35 115.37,268.66 115.99,269.65 116.60,270.36 117.22,270.86 117.83,271.18 118.45,271.38 119.06,271.49 119.67,271.55 120.29,271.58 120.90,271.59 121.52,271.60 122.13,271.60 122.75,271.60 123.36,271.60 123.98,271.60 124.59,271.60 125.21,271.60 125.82,271.60 126.44,271.60 127.05,271.60 127.67,271.60 128.28,271.60 128.89,271.60 129.51,271.60 130.12,271.60 130.74,271.60 131.35,271.60 131.97,271.60 132.58,271.60 133.20,271.60 133.81,271.60 134.43,271.60 135.04,271.60 135.66,271.60 136.27,271.60 136.88,271.60 137.50,271.60 138.11,271.60 138.73,271.60 139.34,271.60 139.96,271.60 140.57,271.60 141.19,271.60 141.80,271.60 142.42,271.60 143.03,271.60 143.65,271.60 144.26,271.60 144.88,271.60 145.49,271.60 146.10,271.60 146.72,271.60 147.33,271.60 147.95,271.60 148.56,271.60 149.18,271.60 149.79,271.60 150.41,271.60 151.02,271.60 151.64,271.60 152.25,271.60 152.87,271.60 153.48,271.60 154.09,271.60 154.71,271.60 155.32,271.60 155.94,271.60 156.55,271.60 157.17,271.60 157.78,271.60 158.40,271.60 159.01,271.60 159.63,271.60 160.24,271.60 160.86,271.60 161.47,271.60 162.09,271.60 162.70,271.60 163.31,271.60 163.93,271.60 164.54,271.60 165.16,271.60 165.77,271.60 166.39,271.60 167.00,271.60 167.62,271.60 168.23,271.60 168.85,271.60 169.46,271.60 170.08,271.60 170.69,271.60 171.30,271.60 171.92,271.60 172.53,271.60 173.15,271.60 173.76,271.60 174.38,271.60 174.99,271.60 175.61,271.60 176.22,271.60 176.84,271.60 177.45,271.60 178.07,271.60 178.68,271.60 179.29,271.60 179.91,271.60 180.52,271.60 181.14,271.60 181.75,271.60 182.37,271.60 182.98,271.60 183.60,271.60 184.21,271.60 184.83,271.60 185.44,271.60 186.06,271.60 186.67,271.60 187.29,271.60 187.90,271.60 188.51,271.60 189.13,271.60 189.74,271.60 190.36,271.60 190.97,271.60 191.59,271.60 192.20,271.60 192.82,271.60 193.43,271.60 194.05,271.60 194.66,271.60 195.28,271.60 195.89,271.60 196.50,271.60 197.12,271.60 197.73,271.60 198.35,271.60 198.96,271.60 199.58,271.60 200.19,271.60 200.81,271.60 201.42,271.60 202.04,271.60 202.65,271.60 203.27,271.60 203.88,271.60 204.50,271.60 205.11,271.60 205.72,271.60 206.34,271.60 206.95,271.60 207.57,271.60 208.18,271.60 208.80,271.60 209.41,271.60 210.03,271.60 210.64,271.60 211.26,271.60 211.87,271.60 212.49,271.60 213.10,271.60" fill="none" stroke="#FDBF6F" stroke-width="1.35" stroke-linejoin="round" clip-path="url(#clipD)"/>
<rect x="32.45" y="161.4" width="189.05" height="115.1" fill="none" stroke="#333333" stroke-width="0.95"/>
<line x1="56.6" y1="276.5" x2="56.6" y2="279.1" stroke="#333333" stroke-width="0.95"/>
<use href="#oneR" transform="translate(54.375,287.600) scale(0.003906,-0.003906)" fill="#4D4D4D" stroke="#4D4D4D" stroke-width="25.6"/>
<text x="56.6" y="287.6" font-size="8" text-anchor="middle" fill="#4D4D4D" stroke="#4D4D4D" font-weight="normal" font-style="normal" > </text>
<line x1="108.77" y1="276.5" x2="108.77" y2="279.1" stroke="#333333" stroke-width="0.95"/>
<use href="#oneR" transform="translate(104.317,287.600) scale(0.003906,-0.003906)" fill="#4D4D4D" stroke="#4D4D4D" stroke-width="25.6"/>
<text x="108.77" y="287.6" font-size="8" text-anchor="middle" fill="#4D4D4D" stroke="#4D4D4D" font-weight="normal" font-style="normal" > 0</text>
<line x1="160.93" y1="276.5" x2="160.93" y2="279.1" stroke="#333333" stroke-width="0.95"/>
<use href="#oneR" transform="translate(154.260,287.600) scale(0.003906,-0.003906)" fill="#4D4D4D" stroke="#4D4D4D" stroke-width="25.6"/>
<text x="160.93" y="287.6" font-size="8" text-anchor="middle" fill="#4D4D4D" stroke="#4D4D4D" font-weight="normal" font-style="normal" > 00</text>
<line x1="213.1" y1="276.5" x2="213.1" y2="279.1" stroke="#333333" stroke-width="0.95"/>
<use href="#oneR" transform="translate(204.202,287.600) scale(0.003906,-0.003906)" fill="#4D4D4D" stroke="#4D4D4D" stroke-width="25.6"/>
<text x="213.1" y="287.6" font-size="8" text-anchor="middle" fill="#4D4D4D" stroke="#4D4D4D" font-weight="normal" font-style="normal" > 000</text>
<line x1="29.85" y1="271.6" x2="32.45" y2="271.6" stroke="#333333" stroke-width="0.95"/>
<text x="27.85" y="274.45" font-size="8" text-anchor="end" fill="#4D4D4D" stroke="#4D4D4D" font-weight="normal" font-style="normal" >0.00</text>
<line x1="29.85" y1="245.25" x2="32.45" y2="245.25" stroke="#333333" stroke-width="0.95"/>
<text x="27.85" y="248.1" font-size="8" text-anchor="end" fill="#4D4D4D" stroke="#4D4D4D" font-weight="normal" font-style="normal" >0.25</text>
<line x1="29.85" y1="218.9" x2="32.45" y2="218.9" stroke="#333333" stroke-width="0.95"/>
<text x="27.85" y="221.75" font-size="8" text-anchor="end" fill="#4D4D4D" stroke="#4D4D4D" font-weight="normal" font-style="normal" >0.50</text>
<line x1="29.85" y1="192.55" x2="32.45" y2="192.55" stroke="#333333" stroke-width="0.95"/>
<text x="27.85" y="195.4" font-size="8" text-anchor="end" fill="#4D4D4D" stroke="#4D4D4D" font-weight="normal" font-style="normal" >0.75</text>
<line x1="29.85" y1="166.2" x2="32.45" y2="166.2" stroke="#333333" stroke-width="0.95"/>
<use href="#oneR" transform="translate(12.280,169.050) scale(0.003906,-0.003906)" fill="#4D4D4D" stroke="#4D4D4D" stroke-width="25.6"/>
<text x="27.85" y="169.05" font-size="8" text-anchor="end" fill="#4D4D4D" stroke="#4D4D4D" font-weight="normal" font-style="normal" > .00</text>
<clipPath id="clipE"><rect x="264.0" y="161.5" width="189.2" height="112.80000000000001"/></clipPath>
<line x1="277.18" y1="161.5" x2="277.18" y2="274.3" stroke="#EBEBEB" stroke-width="0.55"/>
<line x1="325.02" y1="161.5" x2="325.02" y2="274.3" stroke="#EBEBEB" stroke-width="0.55"/>
<line x1="372.85" y1="161.5" x2="372.85" y2="274.3" stroke="#EBEBEB" stroke-width="0.55"/>
<line x1="420.68" y1="161.5" x2="420.68" y2="274.3" stroke="#EBEBEB" stroke-width="0.55"/>
<line x1="264" y1="256.56" x2="453.2" y2="256.56" stroke="#EBEBEB" stroke-width="0.55"/>
<line x1="264" y1="230.69" x2="453.2" y2="230.69" stroke="#EBEBEB" stroke-width="0.55"/>
<line x1="264" y1="204.81" x2="453.2" y2="204.81" stroke="#EBEBEB" stroke-width="0.55"/>
<line x1="264" y1="178.94" x2="453.2" y2="178.94" stroke="#EBEBEB" stroke-width="0.55"/>
<line x1="301.1" y1="161.5" x2="301.1" y2="274.3" stroke="#EBEBEB" stroke-width="1.1"/>
<line x1="348.93" y1="161.5" x2="348.93" y2="274.3" stroke="#EBEBEB" stroke-width="1.1"/>
<line x1="396.77" y1="161.5" x2="396.77" y2="274.3" stroke="#EBEBEB" stroke-width="1.1"/>
<line x1="444.6" y1="161.5" x2="444.6" y2="274.3" stroke="#EBEBEB" stroke-width="1.1"/>
<line x1="264" y1="269.5" x2="453.2" y2="269.5" stroke="#EBEBEB" stroke-width="1.1"/>
<line x1="264" y1="243.62" x2="453.2" y2="243.62" stroke="#EBEBEB" stroke-width="1.1"/>
<line x1="264" y1="217.75" x2="453.2" y2="217.75" stroke="#EBEBEB" stroke-width="1.1"/>
<line x1="264" y1="191.88" x2="453.2" y2="191.88" stroke="#EBEBEB" stroke-width="1.1"/>
<line x1="264" y1="166" x2="453.2" y2="166" stroke="#EBEBEB" stroke-width="1.1"/>
<polyline points="272.40,269.50 272.83,267.72 273.26,266.00 273.69,264.34 274.13,262.73 274.56,261.18 274.99,259.67 275.42,258.21 275.85,256.80 276.28,255.43 276.72,254.10 277.15,252.80 277.58,251.55 278.01,250.33 278.44,249.15 278.87,247.99 279.31,246.87 279.74,245.78 280.17,244.72 280.60,243.69 281.03,242.68 281.46,241.70 281.89,240.75 282.33,239.81 282.76,238.91 283.19,238.02 283.62,237.15 284.05,236.31 284.48,235.48 284.92,234.68 285.35,233.89 285.78,233.12 286.21,232.37 286.64,231.63 287.07,230.91 287.51,230.21 287.94,229.52 288.37,228.84 288.80,228.18 289.23,227.54 289.66,226.90 290.09,226.28 290.53,225.68 290.96,225.08 291.39,224.50 291.82,223.92 292.25,223.36 292.68,222.81 293.12,222.27 293.55,221.74 293.98,221.22 294.41,220.71 294.84,220.21 295.27,219.72 295.71,219.23 296.14,218.76 296.57,218.29 297.00,217.84 297.43,217.39 297.86,216.94 298.29,216.51 298.73,216.08 299.16,215.66 299.59,215.25 300.02,214.84 300.45,214.44 300.88,214.05 301.32,213.66 301.75,213.28 302.18,212.91 302.61,212.54 303.04,212.17 303.47,211.82 303.91,211.47 304.34,211.12 304.77,210.78 305.20,210.44 305.63,210.11 306.06,209.78 306.49,209.46 306.93,209.15 307.36,208.83 307.79,208.53 308.22,208.22 308.65,207.92 309.08,207.63 309.52,207.34 309.95,207.05 310.38,206.77 310.81,206.49 311.24,206.21 311.67,205.94 312.11,205.68 312.54,205.41 312.97,205.15 313.40,204.89 313.83,204.64 314.26,204.39 314.69,204.14 315.13,203.90 315.56,203.66 315.99,203.42 316.42,203.18 316.85,202.95 317.28,202.72 317.72,202.50 318.15,202.27 318.58,202.05 319.01,201.83 319.44,201.62 319.87,201.40 320.31,201.19 320.74,200.99 321.17,200.78 321.60,200.58 322.03,200.38 322.46,200.18 322.89,199.98 323.33,199.79 323.76,199.60 324.19,199.41 324.62,199.22 325.05,199.03 325.48,198.85 325.92,198.67 326.35,198.49 326.78,198.31 327.21,198.14 327.64,197.96 328.07,197.79 328.51,197.62 328.94,197.45 329.37,197.29 329.80,197.12 330.23,196.96 330.66,196.80 331.09,196.64 331.53,196.48 331.96,196.33 332.39,196.17 332.82,196.02 333.25,195.87 333.68,195.72 334.12,195.57 334.55,195.42 334.98,195.28 335.41,195.13 335.84,194.99 336.27,194.85 336.71,194.71 337.14,194.57 337.57,194.43 338.00,194.30 338.43,194.16 338.86,194.03 339.29,193.90 339.73,193.76 340.16,193.64 340.59,193.51 341.02,193.38 341.45,193.25 341.88,193.13 342.32,193.00 342.75,192.88 343.18,192.76 343.61,192.64 344.04,192.52 344.47,192.40 344.91,192.29 345.34,192.17 345.77,192.05 346.20,191.94 346.63,191.83 347.06,191.71 347.49,191.60 347.93,191.49 348.36,191.38 348.79,191.28 349.22,191.17 349.65,191.06 350.08,190.96 350.52,190.85 350.95,190.75 351.38,190.64 351.81,190.54 352.24,190.44 352.67,190.34 353.11,190.24 353.54,190.14 353.97,190.04 354.40,189.95 354.83,189.85 355.26,189.75 355.69,189.66 356.13,189.56 356.56,189.47 356.99,189.38 357.42,189.29 357.85,189.20 358.28,189.10 358.72,189.01 359.15,188.93 359.58,188.84 360.01,188.75 360.44,188.66 360.87,188.58 361.31,188.49 361.74,188.40 362.17,188.32 362.60,188.24 363.03,188.15 363.46,188.07 363.89,187.99 364.33,187.91 364.76,187.83 365.19,187.75 365.62,187.67 366.05,187.59 366.48,187.51 366.92,187.43 367.35,187.35 367.78,187.28 368.21,187.20 368.64,187.13 369.07,187.05 369.51,186.98 369.94,186.90 370.37,186.83 370.80,186.76 371.23,186.68 371.66,186.61 372.09,186.54 372.53,186.47 372.96,186.40 373.39,186.33 373.82,186.26 374.25,186.19 374.68,186.12 375.12,186.05 375.55,185.98 375.98,185.92 376.41,185.85 376.84,185.78 377.27,185.72 377.71,185.65 378.14,185.59 378.57,185.52 379.00,185.46 379.43,185.40 379.86,185.33 380.29,185.27 380.73,185.21 381.16,185.14 381.59,185.08 382.02,185.02 382.45,184.96 382.88,184.90 383.32,184.84 383.75,184.78 384.18,184.72 384.61,184.66 385.04,184.60 385.47,184.54 385.91,184.49 386.34,184.43 386.77,184.37 387.20,184.31 387.63,184.26 388.06,184.20 388.49,184.15 388.93,184.09 389.36,184.04 389.79,183.98 390.22,183.93 390.65,183.87 391.08,183.82 391.52,183.77 391.95,183.71 392.38,183.66 392.81,183.61 393.24,183.55 393.67,183.50 394.11,183.45 394.54,183.40 394.97,183.35 395.40,183.30 395.83,183.25 396.26,183.20 396.69,183.15 397.13,183.10 397.56,183.05 397.99,183.00 398.42,182.95 398.85,182.90 399.28,182.85 399.72,182.81 400.15,182.76 400.58,182.71 401.01,182.66 401.44,182.62 401.87,182.57 402.31,182.53 402.74,182.48 403.17,182.43 403.60,182.39 404.03,182.34 404.46,182.30 404.89,182.25 405.33,182.21 405.76,182.16 406.19,182.12 406.62,182.08 407.05,182.03 407.48,181.99 407.92,181.95 408.35,181.90 408.78,181.86 409.21,181.82 409.64,181.78 410.07,181.73 410.51,181.69 410.94,181.65 411.37,181.61 411.80,181.57 412.23,181.53 412.66,181.49 413.09,181.45 413.53,181.41 413.96,181.37 414.39,181.33 414.82,181.29 415.25,181.25 415.68,181.21 416.12,181.17 416.55,181.13 416.98,181.09 417.41,181.05 417.84,181.02 418.27,180.98 418.71,180.94 419.14,180.90 419.57,180.87 420.00,180.83 420.43,180.79 420.86,180.75 421.29,180.72 421.73,180.68 422.16,180.64 422.59,180.61 423.02,180.57 423.45,180.54 423.88,180.50 424.32,180.47 424.75,180.43 425.18,180.40 425.61,180.36 426.04,180.33 426.47,180.29 426.91,180.26 427.34,180.22 427.77,180.19 428.20,180.15 428.63,180.12 429.06,180.09 429.49,180.05 429.93,180.02 430.36,179.99 430.79,179.95 431.22,179.92 431.65,179.89 432.08,179.86 432.52,179.82 432.95,179.79 433.38,179.76 433.81,179.73 434.24,179.70 434.67,179.66 435.11,179.63 435.54,179.60 435.97,179.57 436.40,179.54 436.83,179.51 437.26,179.48 437.69,179.45 438.13,179.42 438.56,179.39 438.99,179.36 439.42,179.33 439.85,179.30 440.28,179.27 440.72,179.24 441.15,179.21 441.58,179.18 442.01,179.15 442.44,179.12 442.87,179.09 443.31,179.06 443.74,179.03 444.17,179.00 444.60,178.98" fill="none" stroke="#A6CEE3" stroke-width="1.35" stroke-linejoin="round"/>
<polyline points="272.40,269.50 272.83,269.47 273.26,269.39 273.69,269.26 274.13,269.09 274.56,268.88 274.99,268.63 275.42,268.36 275.85,268.05 276.28,267.72 276.72,267.37 277.15,266.99 277.58,266.60 278.01,266.18 278.44,265.76 278.87,265.32 279.31,264.87 279.74,264.41 280.17,263.94 280.60,263.46 281.03,262.97 281.46,262.48 281.89,261.98 282.33,261.48 282.76,260.98 283.19,260.47 283.62,259.96 284.05,259.45 284.48,258.93 284.92,258.42 285.35,257.90 285.78,257.39 286.21,256.88 286.64,256.36 287.07,255.85 287.51,255.34 287.94,254.83 288.37,254.32 288.80,253.82 289.23,253.32 289.66,252.82 290.09,252.32 290.53,251.82 290.96,251.33 291.39,250.84 291.82,250.35 292.25,249.87 292.68,249.39 293.12,248.91 293.55,248.44 293.98,247.97 294.41,247.50 294.84,247.04 295.27,246.58 295.71,246.12 296.14,245.67 296.57,245.22 297.00,244.78 297.43,244.34 297.86,243.90 298.29,243.46 298.73,243.03 299.16,242.61 299.59,242.18 300.02,241.76 300.45,241.35 300.88,240.93 301.32,240.52 301.75,240.12 302.18,239.72 302.61,239.32 303.04,238.92 303.47,238.53 303.91,238.14 304.34,237.76 304.77,237.38 305.20,237.00 305.63,236.63 306.06,236.26 306.49,235.89 306.93,235.52 307.36,235.16 307.79,234.80 308.22,234.45 308.65,234.10 309.08,233.75 309.52,233.41 309.95,233.06 310.38,232.72 310.81,232.39 311.24,232.05 311.67,231.72 312.11,231.40 312.54,231.07 312.97,230.75 313.40,230.43 313.83,230.12 314.26,229.80 314.69,229.49 315.13,229.19 315.56,228.88 315.99,228.58 316.42,228.28 316.85,227.98 317.28,227.69 317.72,227.40 318.15,227.11 318.58,226.82 319.01,226.54 319.44,226.26 319.87,225.98 320.31,225.70 320.74,225.42 321.17,225.15 321.60,224.88 322.03,224.61 322.46,224.35 322.89,224.09 323.33,223.82 323.76,223.57 324.19,223.31 324.62,223.05 325.05,222.80 325.48,222.55 325.92,222.30 326.35,222.06 326.78,221.81 327.21,221.57 327.64,221.33 328.07,221.09 328.51,220.86 328.94,220.62 329.37,220.39 329.80,220.16 330.23,219.93 330.66,219.70 331.09,219.48 331.53,219.26 331.96,219.03 332.39,218.81 332.82,218.60 333.25,218.38 333.68,218.16 334.12,217.95 334.55,217.74 334.98,217.53 335.41,217.32 335.84,217.12 336.27,216.91 336.71,216.71 337.14,216.51 337.57,216.31 338.00,216.11 338.43,215.91 338.86,215.71 339.29,215.52 339.73,215.33 340.16,215.14 340.59,214.95 341.02,214.76 341.45,214.57 341.88,214.39 342.32,214.20 342.75,214.02 343.18,213.84 343.61,213.66 344.04,213.48 344.47,213.30 344.91,213.12 345.34,212.95 345.77,212.77 346.20,212.60 346.63,212.43 347.06,212.26 347.49,212.09 347.93,211.92 348.36,211.76 348.79,211.59 349.22,211.43 349.65,211.26 350.08,211.10 350.52,210.94 350.95,210.78 351.38,210.62 351.81,210.46 352.24,210.31 352.67,210.15 353.11,210.00 353.54,209.84 353.97,209.69 354.40,209.54 354.83,209.39 355.26,209.24 355.69,209.09 356.13,208.95 356.56,208.80 356.99,208.65 357.42,208.51 357.85,208.37 358.28,208.22 358.72,208.08 359.15,207.94 359.58,207.80 360.01,207.66 360.44,207.53 360.87,207.39 361.31,207.25 361.74,207.12 362.17,206.98 362.60,206.85 363.03,206.72 363.46,206.58 363.89,206.45 364.33,206.32 364.76,206.19 365.19,206.07 365.62,205.94 366.05,205.81 366.48,205.68 366.92,205.56 367.35,205.43 367.78,205.31 368.21,205.19 368.64,205.07 369.07,204.94 369.51,204.82 369.94,204.70 370.37,204.58 370.80,204.47 371.23,204.35 371.66,204.23 372.09,204.11 372.53,204.00 372.96,203.88 373.39,203.77 373.82,203.65 374.25,203.54 374.68,203.43 375.12,203.32 375.55,203.21 375.98,203.10 376.41,202.99 376.84,202.88 377.27,202.77 377.71,202.66 378.14,202.55 378.57,202.45 379.00,202.34 379.43,202.23 379.86,202.13 380.29,202.03 380.73,201.92 381.16,201.82 381.59,201.72 382.02,201.61 382.45,201.51 382.88,201.41 383.32,201.31 383.75,201.21 384.18,201.11 384.61,201.01 385.04,200.92 385.47,200.82 385.91,200.72 386.34,200.63 386.77,200.53 387.20,200.43 387.63,200.34 388.06,200.25 388.49,200.15 388.93,200.06 389.36,199.97 389.79,199.87 390.22,199.78 390.65,199.69 391.08,199.60 391.52,199.51 391.95,199.42 392.38,199.33 392.81,199.24 393.24,199.15 393.67,199.06 394.11,198.98 394.54,198.89 394.97,198.80 395.40,198.72 395.83,198.63 396.26,198.55 396.69,198.46 397.13,198.38 397.56,198.29 397.99,198.21 398.42,198.13 398.85,198.04 399.28,197.96 399.72,197.88 400.15,197.80 400.58,197.72 401.01,197.64 401.44,197.56 401.87,197.48 402.31,197.40 402.74,197.32 403.17,197.24 403.60,197.16 404.03,197.08 404.46,197.01 404.89,196.93 405.33,196.85 405.76,196.78 406.19,196.70 406.62,196.62 407.05,196.55 407.48,196.47 407.92,196.40 408.35,196.33 408.78,196.25 409.21,196.18 409.64,196.11 410.07,196.03 410.51,195.96 410.94,195.89 411.37,195.82 411.80,195.75 412.23,195.67 412.66,195.60 413.09,195.53 413.53,195.46 413.96,195.39 414.39,195.32 414.82,195.26 415.25,195.19 415.68,195.12 416.12,195.05 416.55,194.98 416.98,194.91 417.41,194.85 417.84,194.78 418.27,194.71 418.71,194.65 419.14,194.58 419.57,194.52 420.00,194.45 420.43,194.39 420.86,194.32 421.29,194.26 421.73,194.19 422.16,194.13 422.59,194.07 423.02,194.00 423.45,193.94 423.88,193.88 424.32,193.81 424.75,193.75 425.18,193.69 425.61,193.63 426.04,193.57 426.47,193.51 426.91,193.45 427.34,193.38 427.77,193.32 428.20,193.26 428.63,193.20 429.06,193.15 429.49,193.09 429.93,193.03 430.36,192.97 430.79,192.91 431.22,192.85 431.65,192.79 432.08,192.74 432.52,192.68 432.95,192.62 433.38,192.56 433.81,192.51 434.24,192.45 434.67,192.39 435.11,192.34 435.54,192.28 435.97,192.23 436.40,192.17 436.83,192.12 437.26,192.06 437.69,192.01 438.13,191.95 438.56,191.90 438.99,191.85 439.42,191.79 439.85,191.74 440.28,191.68 440.72,191.63 441.15,191.58 441.58,191.53 442.01,191.47 442.44,191.42 442.87,191.37 443.31,191.32 443.74,191.27 444.17,191.21 444.60,191.16" fill="none" stroke="#B2DF8A" stroke-width="1.35" stroke-linejoin="round"/>
<polyline points="272.40,269.50 272.83,269.50 273.26,269.50 273.69,269.49 274.13,269.47 274.56,269.45 274.99,269.42 275.42,269.38 275.85,269.33 276.28,269.26 276.72,269.19 277.15,269.10 277.58,269.01 278.01,268.90 278.44,268.78 278.87,268.65 279.31,268.50 279.74,268.35 280.17,268.19 280.60,268.02 281.03,267.84 281.46,267.64 281.89,267.44 282.33,267.24 282.76,267.02 283.19,266.79 283.62,266.56 284.05,266.32 284.48,266.08 284.92,265.82 285.35,265.57 285.78,265.30 286.21,265.03 286.64,264.76 287.07,264.48 287.51,264.20 287.94,263.91 288.37,263.62 288.80,263.32 289.23,263.02 289.66,262.72 290.09,262.42 290.53,262.11 290.96,261.80 291.39,261.49 291.82,261.17 292.25,260.85 292.68,260.54 293.12,260.22 293.55,259.90 293.98,259.57 294.41,259.25 294.84,258.92 295.27,258.60 295.71,258.27 296.14,257.95 296.57,257.62 297.00,257.29 297.43,256.97 297.86,256.64 298.29,256.31 298.73,255.98 299.16,255.66 299.59,255.33 300.02,255.00 300.45,254.67 300.88,254.35 301.32,254.02 301.75,253.70 302.18,253.37 302.61,253.05 303.04,252.73 303.47,252.41 303.91,252.08 304.34,251.76 304.77,251.45 305.20,251.13 305.63,250.81 306.06,250.49 306.49,250.18 306.93,249.87 307.36,249.55 307.79,249.24 308.22,248.93 308.65,248.62 309.08,248.31 309.52,248.01 309.95,247.70 310.38,247.40 310.81,247.10 311.24,246.80 311.67,246.50 312.11,246.20 312.54,245.90 312.97,245.61 313.40,245.31 313.83,245.02 314.26,244.73 314.69,244.44 315.13,244.15 315.56,243.86 315.99,243.58 316.42,243.29 316.85,243.01 317.28,242.73 317.72,242.45 318.15,242.17 318.58,241.90 319.01,241.62 319.44,241.35 319.87,241.08 320.31,240.81 320.74,240.54 321.17,240.27 321.60,240.00 322.03,239.74 322.46,239.47 322.89,239.21 323.33,238.95 323.76,238.69 324.19,238.44 324.62,238.18 325.05,237.93 325.48,237.67 325.92,237.42 326.35,237.17 326.78,236.92 327.21,236.67 327.64,236.43 328.07,236.18 328.51,235.94 328.94,235.70 329.37,235.46 329.80,235.22 330.23,234.98 330.66,234.75 331.09,234.51 331.53,234.28 331.96,234.05 332.39,233.82 332.82,233.59 333.25,233.36 333.68,233.13 334.12,232.91 334.55,232.68 334.98,232.46 335.41,232.24 335.84,232.02 336.27,231.80 336.71,231.58 337.14,231.36 337.57,231.15 338.00,230.93 338.43,230.72 338.86,230.51 339.29,230.30 339.73,230.09 340.16,229.88 340.59,229.67 341.02,229.47 341.45,229.26 341.88,229.06 342.32,228.86 342.75,228.66 343.18,228.46 343.61,228.26 344.04,228.06 344.47,227.87 344.91,227.67 345.34,227.48 345.77,227.28 346.20,227.09 346.63,226.90 347.06,226.71 347.49,226.52 347.93,226.34 348.36,226.15 348.79,225.96 349.22,225.78 349.65,225.60 350.08,225.41 350.52,225.23 350.95,225.05 351.38,224.87 351.81,224.69 352.24,224.52 352.67,224.34 353.11,224.16 353.54,223.99 353.97,223.82 354.40,223.64 354.83,223.47 355.26,223.30 355.69,223.13 356.13,222.96 356.56,222.79 356.99,222.63 357.42,222.46 357.85,222.30 358.28,222.13 358.72,221.97 359.15,221.81 359.58,221.64 360.01,221.48 360.44,221.32 360.87,221.17 361.31,221.01 361.74,220.85 362.17,220.69 362.60,220.54 363.03,220.38 363.46,220.23 363.89,220.08 364.33,219.92 364.76,219.77 365.19,219.62 365.62,219.47 366.05,219.32 366.48,219.17 366.92,219.03 367.35,218.88 367.78,218.73 368.21,218.59 368.64,218.44 369.07,218.30 369.51,218.16 369.94,218.01 370.37,217.87 370.80,217.73 371.23,217.59 371.66,217.45 372.09,217.31 372.53,217.18 372.96,217.04 373.39,216.90 373.82,216.77 374.25,216.63 374.68,216.50 375.12,216.36 375.55,216.23 375.98,216.10 376.41,215.97 376.84,215.83 377.27,215.70 377.71,215.57 378.14,215.45 378.57,215.32 379.00,215.19 379.43,215.06 379.86,214.93 380.29,214.81 380.73,214.68 381.16,214.56 381.59,214.43 382.02,214.31 382.45,214.19 382.88,214.07 383.32,213.94 383.75,213.82 384.18,213.70 384.61,213.58 385.04,213.46 385.47,213.34 385.91,213.23 386.34,213.11 386.77,212.99 387.20,212.87 387.63,212.76 388.06,212.64 388.49,212.53 388.93,212.41 389.36,212.30 389.79,212.19 390.22,212.07 390.65,211.96 391.08,211.85 391.52,211.74 391.95,211.63 392.38,211.52 392.81,211.41 393.24,211.30 393.67,211.19 394.11,211.08 394.54,210.97 394.97,210.87 395.40,210.76 395.83,210.65 396.26,210.55 396.69,210.44 397.13,210.34 397.56,210.23 397.99,210.13 398.42,210.03 398.85,209.92 399.28,209.82 399.72,209.72 400.15,209.62 400.58,209.52 401.01,209.42 401.44,209.32 401.87,209.22 402.31,209.12 402.74,209.02 403.17,208.92 403.60,208.82 404.03,208.73 404.46,208.63 404.89,208.53 405.33,208.44 405.76,208.34 406.19,208.25 406.62,208.15 407.05,208.06 407.48,207.96 407.92,207.87 408.35,207.78 408.78,207.68 409.21,207.59 409.64,207.50 410.07,207.41 410.51,207.32 410.94,207.22 411.37,207.13 411.80,207.04 412.23,206.95 412.66,206.86 413.09,206.78 413.53,206.69 413.96,206.60 414.39,206.51 414.82,206.42 415.25,206.34 415.68,206.25 416.12,206.16 416.55,206.08 416.98,205.99 417.41,205.91 417.84,205.82 418.27,205.74 418.71,205.65 419.14,205.57 419.57,205.49 420.00,205.40 420.43,205.32 420.86,205.24 421.29,205.16 421.73,205.07 422.16,204.99 422.59,204.91 423.02,204.83 423.45,204.75 423.88,204.67 424.32,204.59 424.75,204.51 425.18,204.43 425.61,204.35 426.04,204.27 426.47,204.19 426.91,204.12 427.34,204.04 427.77,203.96 428.20,203.89 428.63,203.81 429.06,203.73 429.49,203.66 429.93,203.58 430.36,203.50 430.79,203.43 431.22,203.35 431.65,203.28 432.08,203.21 432.52,203.13 432.95,203.06 433.38,202.98 433.81,202.91 434.24,202.84 434.67,202.77 435.11,202.69 435.54,202.62 435.97,202.55 436.40,202.48 436.83,202.41 437.26,202.34 437.69,202.27 438.13,202.19 438.56,202.12 438.99,202.05 439.42,201.99 439.85,201.92 440.28,201.85 440.72,201.78 441.15,201.71 441.58,201.64 442.01,201.57 442.44,201.51 442.87,201.44 443.31,201.37 443.74,201.30 444.17,201.24 444.60,201.17" fill="none" stroke="#FDBF6F" stroke-width="1.35" stroke-linejoin="round"/>
<polyline points="272.40,269.50 272.83,267.22 273.26,265.03 273.69,262.94 274.13,260.93 274.56,259.01 274.99,257.16 275.42,255.39 275.85,253.68 276.28,252.03 276.72,250.45 277.15,248.92 277.58,247.45 278.01,246.03 278.44,244.66 278.87,243.33 279.31,242.05 279.74,240.81 280.17,239.61 280.60,238.45 281.03,237.32 281.46,236.23 281.89,235.17 282.33,234.15 282.76,233.15 283.19,232.18 283.62,231.24 284.05,230.32 284.48,229.44 284.92,228.57 285.35,227.73 285.78,226.91 286.21,226.11 286.64,225.33 287.07,224.58 287.51,223.84 287.94,223.12 288.37,222.42 288.80,221.73 289.23,221.06 289.66,220.41 290.09,219.77 290.53,219.15 290.96,218.54 291.39,217.95 291.82,217.36 292.25,216.80 292.68,216.24 293.12,215.69 293.55,215.16 293.98,214.64 294.41,214.13 294.84,213.63 295.27,213.14 295.71,212.66 296.14,212.19 296.57,211.73 297.00,211.28 297.43,210.84 297.86,210.40 298.29,209.98 298.73,209.56 299.16,209.15 299.59,208.75 300.02,208.36 300.45,207.97 300.88,207.59 301.32,207.21 301.75,206.85 302.18,206.49 302.61,206.13 303.04,205.78 303.47,205.44 303.91,205.11 304.34,204.78 304.77,204.45 305.20,204.13 305.63,203.82 306.06,203.51 306.49,203.20 306.93,202.90 307.36,202.61 307.79,202.32 308.22,202.04 308.65,201.75 309.08,201.48 309.52,201.21 309.95,200.94 310.38,200.67 310.81,200.41 311.24,200.16 311.67,199.91 312.11,199.66 312.54,199.41 312.97,199.17 313.40,198.93 313.83,198.70 314.26,198.47 314.69,198.24 315.13,198.01 315.56,197.79 315.99,197.57 316.42,197.36 316.85,197.14 317.28,196.93 317.72,196.73 318.15,196.52 318.58,196.32 319.01,196.12 319.44,195.93 319.87,195.73 320.31,195.54 320.74,195.35 321.17,195.16 321.60,194.98 322.03,194.80 322.46,194.62 322.89,194.44 323.33,194.27 323.76,194.09 324.19,193.92 324.62,193.75 325.05,193.59 325.48,193.42 325.92,193.26 326.35,193.10 326.78,192.94 327.21,192.78 327.64,192.63 328.07,192.47 328.51,192.32 328.94,192.17 329.37,192.02 329.80,191.88 330.23,191.73 330.66,191.59 331.09,191.44 331.53,191.30 331.96,191.17 332.39,191.03 332.82,190.89 333.25,190.76 333.68,190.63 334.12,190.49 334.55,190.36 334.98,190.24 335.41,190.11 335.84,189.98 336.27,189.86 336.71,189.73 337.14,189.61 337.57,189.49 338.00,189.37 338.43,189.25 338.86,189.14 339.29,189.02 339.73,188.90 340.16,188.79 340.59,188.68 341.02,188.57 341.45,188.46 341.88,188.35 342.32,188.24 342.75,188.13 343.18,188.02 343.61,187.92 344.04,187.82 344.47,187.71 344.91,187.61 345.34,187.51 345.77,187.41 346.20,187.31 346.63,187.21 347.06,187.11 347.49,187.02 347.93,186.92 348.36,186.83 348.79,186.73 349.22,186.64 349.65,186.55 350.08,186.45 350.52,186.36 350.95,186.27 351.38,186.18 351.81,186.10 352.24,186.01 352.67,185.92 353.11,185.84 353.54,185.75 353.97,185.67 354.40,185.58 354.83,185.50 355.26,185.42 355.69,185.33 356.13,185.25 356.56,185.17 356.99,185.09 357.42,185.01 357.85,184.93 358.28,184.86 358.72,184.78 359.15,184.70 359.58,184.63 360.01,184.55 360.44,184.48 360.87,184.40 361.31,184.33 361.74,184.26 362.17,184.18 362.60,184.11 363.03,184.04 363.46,183.97 363.89,183.90 364.33,183.83 364.76,183.76 365.19,183.69 365.62,183.63 366.05,183.56 366.48,183.49 366.92,183.42 367.35,183.36 367.78,183.29 368.21,183.23 368.64,183.16 369.07,183.10 369.51,183.04 369.94,182.97 370.37,182.91 370.80,182.85 371.23,182.79 371.66,182.73 372.09,182.67 372.53,182.60 372.96,182.55 373.39,182.49 373.82,182.43 374.25,182.37 374.68,182.31 375.12,182.25 375.55,182.19 375.98,182.14 376.41,182.08 376.84,182.03 377.27,181.97 377.71,181.91 378.14,181.86 378.57,181.80 379.00,181.75 379.43,181.70 379.86,181.64 380.29,181.59 380.73,181.54 381.16,181.48 381.59,181.43 382.02,181.38 382.45,181.33 382.88,181.28 383.32,181.23 383.75,181.18 384.18,181.13 384.61,181.08 385.04,181.03 385.47,180.98 385.91,180.93 386.34,180.88 386.77,180.83 387.20,180.79 387.63,180.74 388.06,180.69 388.49,180.64 388.93,180.60 389.36,180.55 389.79,180.51 390.22,180.46 390.65,180.41 391.08,180.37 391.52,180.32 391.95,180.28 392.38,180.24 392.81,180.19 393.24,180.15 393.67,180.10 394.11,180.06 394.54,180.02 394.97,179.98 395.40,179.93 395.83,179.89 396.26,179.85 396.69,179.81 397.13,179.77 397.56,179.72 397.99,179.68 398.42,179.64 398.85,179.60 399.28,179.56 399.72,179.52 400.15,179.48 400.58,179.44 401.01,179.40 401.44,179.36 401.87,179.33 402.31,179.29 402.74,179.25 403.17,179.21 403.60,179.17 404.03,179.14 404.46,179.10 404.89,179.06 405.33,179.02 405.76,178.99 406.19,178.95 406.62,178.91 407.05,178.88 407.48,178.84 407.92,178.81 408.35,178.77 408.78,178.73 409.21,178.70 409.64,178.66 410.07,178.63 410.51,178.59 410.94,178.56 411.37,178.53 411.80,178.49 412.23,178.46 412.66,178.42 413.09,178.39 413.53,178.36 413.96,178.32 414.39,178.29 414.82,178.26 415.25,178.23 415.68,178.19 416.12,178.16 416.55,178.13 416.98,178.10 417.41,178.06 417.84,178.03 418.27,178.00 418.71,177.97 419.14,177.94 419.57,177.91 420.00,177.88 420.43,177.85 420.86,177.82 421.29,177.79 421.73,177.76 422.16,177.73 422.59,177.70 423.02,177.67 423.45,177.64 423.88,177.61 424.32,177.58 424.75,177.55 425.18,177.52 425.61,177.49 426.04,177.46 426.47,177.43 426.91,177.40 427.34,177.38 427.77,177.35 428.20,177.32 428.63,177.29 429.06,177.26 429.49,177.24 429.93,177.21 430.36,177.18 430.79,177.16 431.22,177.13 431.65,177.10 432.08,177.07 432.52,177.05 432.95,177.02 433.38,176.99 433.81,176.97 434.24,176.94 434.67,176.92 435.11,176.89 435.54,176.86 435.97,176.84 436.40,176.81 436.83,176.79 437.26,176.76 437.69,176.74 438.13,176.71 438.56,176.69 438.99,176.66 439.42,176.64 439.85,176.61 440.28,176.59 440.72,176.56 441.15,176.54 441.58,176.52 442.01,176.49 442.44,176.47 442.87,176.44 443.31,176.42 443.74,176.40 444.17,176.37 444.60,176.35" fill="none" stroke="#1F78B4" stroke-width="1.5" stroke-linejoin="round" stroke-dasharray="2.58 2.58" stroke-dashoffset="0"/>
<polyline points="272.40,269.50 272.83,269.45 273.26,269.31 273.69,269.08 274.13,268.79 274.56,268.44 274.99,268.03 275.42,267.58 275.85,267.08 276.28,266.55 276.72,265.99 277.15,265.41 277.58,264.80 278.01,264.18 278.44,263.54 278.87,262.89 279.31,262.22 279.74,261.55 280.17,260.87 280.60,260.19 281.03,259.50 281.46,258.81 281.89,258.12 282.33,257.42 282.76,256.73 283.19,256.04 283.62,255.36 284.05,254.67 284.48,253.99 284.92,253.31 285.35,252.64 285.78,251.97 286.21,251.31 286.64,250.65 287.07,250.00 287.51,249.36 287.94,248.71 288.37,248.08 288.80,247.45 289.23,246.83 289.66,246.22 290.09,245.61 290.53,245.00 290.96,244.41 291.39,243.82 291.82,243.24 292.25,242.66 292.68,242.09 293.12,241.53 293.55,240.97 293.98,240.42 294.41,239.88 294.84,239.34 295.27,238.81 295.71,238.29 296.14,237.77 296.57,237.26 297.00,236.75 297.43,236.25 297.86,235.76 298.29,235.27 298.73,234.79 299.16,234.31 299.59,233.84 300.02,233.38 300.45,232.92 300.88,232.46 301.32,232.02 301.75,231.57 302.18,231.14 302.61,230.70 303.04,230.28 303.47,229.85 303.91,229.44 304.34,229.02 304.77,228.62 305.20,228.21 305.63,227.82 306.06,227.42 306.49,227.03 306.93,226.65 307.36,226.27 307.79,225.90 308.22,225.52 308.65,225.16 309.08,224.79 309.52,224.44 309.95,224.08 310.38,223.73 310.81,223.38 311.24,223.04 311.67,222.70 312.11,222.37 312.54,222.04 312.97,221.71 313.40,221.39 313.83,221.06 314.26,220.75 314.69,220.43 315.13,220.12 315.56,219.82 315.99,219.51 316.42,219.21 316.85,218.92 317.28,218.62 317.72,218.33 318.15,218.04 318.58,217.76 319.01,217.48 319.44,217.20 319.87,216.92 320.31,216.65 320.74,216.38 321.17,216.11 321.60,215.85 322.03,215.58 322.46,215.32 322.89,215.07 323.33,214.81 323.76,214.56 324.19,214.31 324.62,214.06 325.05,213.82 325.48,213.58 325.92,213.34 326.35,213.10 326.78,212.87 327.21,212.63 327.64,212.40 328.07,212.17 328.51,211.95 328.94,211.72 329.37,211.50 329.80,211.28 330.23,211.06 330.66,210.85 331.09,210.63 331.53,210.42 331.96,210.21 332.39,210.00 332.82,209.80 333.25,209.59 333.68,209.39 334.12,209.19 334.55,208.99 334.98,208.80 335.41,208.60 335.84,208.41 336.27,208.21 336.71,208.02 337.14,207.84 337.57,207.65 338.00,207.46 338.43,207.28 338.86,207.10 339.29,206.92 339.73,206.74 340.16,206.56 340.59,206.39 341.02,206.21 341.45,206.04 341.88,205.87 342.32,205.70 342.75,205.53 343.18,205.36 343.61,205.20 344.04,205.03 344.47,204.87 344.91,204.71 345.34,204.55 345.77,204.39 346.20,204.23 346.63,204.07 347.06,203.92 347.49,203.76 347.93,203.61 348.36,203.46 348.79,203.31 349.22,203.16 349.65,203.01 350.08,202.87 350.52,202.72 350.95,202.58 351.38,202.43 351.81,202.29 352.24,202.15 352.67,202.01 353.11,201.87 353.54,201.73 353.97,201.59 354.40,201.46 354.83,201.32 355.26,201.19 355.69,201.06 356.13,200.92 356.56,200.79 356.99,200.66 357.42,200.53 357.85,200.41 358.28,200.28 358.72,200.15 359.15,200.03 359.58,199.90 360.01,199.78 360.44,199.66 360.87,199.53 361.31,199.41 361.74,199.29 362.17,199.17 362.60,199.06 363.03,198.94 363.46,198.82 363.89,198.71 364.33,198.59 364.76,198.48 365.19,198.36 365.62,198.25 366.05,198.14 366.48,198.03 366.92,197.92 367.35,197.81 367.78,197.70 368.21,197.59 368.64,197.48 369.07,197.37 369.51,197.27 369.94,197.16 370.37,197.06 370.80,196.95 371.23,196.85 371.66,196.75 372.09,196.65 372.53,196.55 372.96,196.45 373.39,196.35 373.82,196.25 374.25,196.15 374.68,196.05 375.12,195.95 375.55,195.86 375.98,195.76 376.41,195.66 376.84,195.57 377.27,195.47 377.71,195.38 378.14,195.29 378.57,195.20 379.00,195.10 379.43,195.01 379.86,194.92 380.29,194.83 380.73,194.74 381.16,194.65 381.59,194.56 382.02,194.48 382.45,194.39 382.88,194.30 383.32,194.21 383.75,194.13 384.18,194.04 384.61,193.96 385.04,193.87 385.47,193.79 385.91,193.71 386.34,193.62 386.77,193.54 387.20,193.46 387.63,193.38 388.06,193.30 388.49,193.22 388.93,193.14 389.36,193.06 389.79,192.98 390.22,192.90 390.65,192.82 391.08,192.74 391.52,192.67 391.95,192.59 392.38,192.51 392.81,192.44 393.24,192.36 393.67,192.29 394.11,192.21 394.54,192.14 394.97,192.06 395.40,191.99 395.83,191.92 396.26,191.84 396.69,191.77 397.13,191.70 397.56,191.63 397.99,191.56 398.42,191.49 398.85,191.42 399.28,191.35 399.72,191.28 400.15,191.21 400.58,191.14 401.01,191.07 401.44,191.00 401.87,190.94 402.31,190.87 402.74,190.80 403.17,190.74 403.60,190.67 404.03,190.60 404.46,190.54 404.89,190.47 405.33,190.41 405.76,190.34 406.19,190.28 406.62,190.22 407.05,190.15 407.48,190.09 407.92,190.03 408.35,189.96 408.78,189.90 409.21,189.84 409.64,189.78 410.07,189.72 410.51,189.66 410.94,189.60 411.37,189.54 411.80,189.48 412.23,189.42 412.66,189.36 413.09,189.30 413.53,189.24 413.96,189.18 414.39,189.12 414.82,189.06 415.25,189.01 415.68,188.95 416.12,188.89 416.55,188.84 416.98,188.78 417.41,188.72 417.84,188.67 418.27,188.61 418.71,188.56 419.14,188.50 419.57,188.45 420.00,188.39 420.43,188.34 420.86,188.28 421.29,188.23 421.73,188.18 422.16,188.12 422.59,188.07 423.02,188.02 423.45,187.96 423.88,187.91 424.32,187.86 424.75,187.81 425.18,187.76 425.61,187.71 426.04,187.65 426.47,187.60 426.91,187.55 427.34,187.50 427.77,187.45 428.20,187.40 428.63,187.35 429.06,187.30 429.49,187.25 429.93,187.21 430.36,187.16 430.79,187.11 431.22,187.06 431.65,187.01 432.08,186.96 432.52,186.92 432.95,186.87 433.38,186.82 433.81,186.77 434.24,186.73 434.67,186.68 435.11,186.63 435.54,186.59 435.97,186.54 436.40,186.50 436.83,186.45 437.26,186.41 437.69,186.36 438.13,186.32 438.56,186.27 438.99,186.23 439.42,186.18 439.85,186.14 440.28,186.09 440.72,186.05 441.15,186.01 441.58,185.96 442.01,185.92 442.44,185.88 442.87,185.83 443.31,185.79 443.74,185.75 444.17,185.71 444.60,185.66" fill="none" stroke="#33A02C" stroke-width="1.5" stroke-linejoin="round" stroke-dasharray="2.58 2.58" stroke-dashoffset="0"/>
<polyline points="272.40,269.50 272.83,269.50 273.26,269.49 273.69,269.47 274.13,269.44 274.56,269.39 274.99,269.32 275.42,269.24 275.85,269.13 276.28,269.00 276.72,268.85 277.15,268.69 277.58,268.50 278.01,268.29 278.44,268.07 278.87,267.83 279.31,267.57 279.74,267.30 280.17,267.01 280.60,266.71 281.03,266.39 281.46,266.06 281.89,265.72 282.33,265.37 282.76,265.02 283.19,264.65 283.62,264.27 284.05,263.89 284.48,263.50 284.92,263.10 285.35,262.70 285.78,262.29 286.21,261.87 286.64,261.46 287.07,261.04 287.51,260.61 287.94,260.19 288.37,259.76 288.80,259.32 289.23,258.89 289.66,258.46 290.09,258.02 290.53,257.58 290.96,257.15 291.39,256.71 291.82,256.27 292.25,255.83 292.68,255.40 293.12,254.96 293.55,254.52 293.98,254.09 294.41,253.65 294.84,253.22 295.27,252.79 295.71,252.36 296.14,251.93 296.57,251.50 297.00,251.08 297.43,250.66 297.86,250.23 298.29,249.82 298.73,249.40 299.16,248.98 299.59,248.57 300.02,248.16 300.45,247.75 300.88,247.35 301.32,246.94 301.75,246.54 302.18,246.14 302.61,245.75 303.04,245.35 303.47,244.96 303.91,244.57 304.34,244.19 304.77,243.81 305.20,243.43 305.63,243.05 306.06,242.67 306.49,242.30 306.93,241.93 307.36,241.56 307.79,241.20 308.22,240.84 308.65,240.48 309.08,240.12 309.52,239.76 309.95,239.41 310.38,239.06 310.81,238.72 311.24,238.37 311.67,238.03 312.11,237.69 312.54,237.36 312.97,237.03 313.40,236.69 313.83,236.37 314.26,236.04 314.69,235.72 315.13,235.40 315.56,235.08 315.99,234.76 316.42,234.45 316.85,234.14 317.28,233.83 317.72,233.52 318.15,233.22 318.58,232.92 319.01,232.62 319.44,232.32 319.87,232.03 320.31,231.73 320.74,231.44 321.17,231.15 321.60,230.87 322.03,230.59 322.46,230.30 322.89,230.02 323.33,229.75 323.76,229.47 324.19,229.20 324.62,228.93 325.05,228.66 325.48,228.39 325.92,228.13 326.35,227.87 326.78,227.61 327.21,227.35 327.64,227.09 328.07,226.84 328.51,226.58 328.94,226.33 329.37,226.08 329.80,225.84 330.23,225.59 330.66,225.35 331.09,225.11 331.53,224.87 331.96,224.63 332.39,224.39 332.82,224.16 333.25,223.92 333.68,223.69 334.12,223.46 334.55,223.24 334.98,223.01 335.41,222.79 335.84,222.56 336.27,222.34 336.71,222.12 337.14,221.90 337.57,221.69 338.00,221.47 338.43,221.26 338.86,221.05 339.29,220.84 339.73,220.63 340.16,220.42 340.59,220.22 341.02,220.01 341.45,219.81 341.88,219.61 342.32,219.41 342.75,219.21 343.18,219.01 343.61,218.82 344.04,218.62 344.47,218.43 344.91,218.24 345.34,218.05 345.77,217.86 346.20,217.67 346.63,217.48 347.06,217.30 347.49,217.11 347.93,216.93 348.36,216.75 348.79,216.57 349.22,216.39 349.65,216.21 350.08,216.03 350.52,215.86 350.95,215.68 351.38,215.51 351.81,215.34 352.24,215.17 352.67,215.00 353.11,214.83 353.54,214.66 353.97,214.50 354.40,214.33 354.83,214.17 355.26,214.00 355.69,213.84 356.13,213.68 356.56,213.52 356.99,213.36 357.42,213.20 357.85,213.05 358.28,212.89 358.72,212.73 359.15,212.58 359.58,212.43 360.01,212.28 360.44,212.12 360.87,211.97 361.31,211.83 361.74,211.68 362.17,211.53 362.60,211.38 363.03,211.24 363.46,211.09 363.89,210.95 364.33,210.81 364.76,210.66 365.19,210.52 365.62,210.38 366.05,210.24 366.48,210.11 366.92,209.97 367.35,209.83 367.78,209.69 368.21,209.56 368.64,209.42 369.07,209.29 369.51,209.16 369.94,209.03 370.37,208.89 370.80,208.76 371.23,208.63 371.66,208.51 372.09,208.38 372.53,208.25 372.96,208.12 373.39,208.00 373.82,207.87 374.25,207.75 374.68,207.62 375.12,207.50 375.55,207.38 375.98,207.26 376.41,207.14 376.84,207.02 377.27,206.90 377.71,206.78 378.14,206.66 378.57,206.54 379.00,206.42 379.43,206.31 379.86,206.19 380.29,206.08 380.73,205.96 381.16,205.85 381.59,205.74 382.02,205.62 382.45,205.51 382.88,205.40 383.32,205.29 383.75,205.18 384.18,205.07 384.61,204.96 385.04,204.85 385.47,204.75 385.91,204.64 386.34,204.53 386.77,204.43 387.20,204.32 387.63,204.22 388.06,204.11 388.49,204.01 388.93,203.91 389.36,203.80 389.79,203.70 390.22,203.60 390.65,203.50 391.08,203.40 391.52,203.30 391.95,203.20 392.38,203.10 392.81,203.00 393.24,202.91 393.67,202.81 394.11,202.71 394.54,202.61 394.97,202.52 395.40,202.42 395.83,202.33 396.26,202.23 396.69,202.14 397.13,202.05 397.56,201.95 397.99,201.86 398.42,201.77 398.85,201.68 399.28,201.59 399.72,201.50 400.15,201.41 400.58,201.32 401.01,201.23 401.44,201.14 401.87,201.05 402.31,200.96 402.74,200.88 403.17,200.79 403.60,200.70 404.03,200.62 404.46,200.53 404.89,200.44 405.33,200.36 405.76,200.28 406.19,200.19 406.62,200.11 407.05,200.02 407.48,199.94 407.92,199.86 408.35,199.78 408.78,199.69 409.21,199.61 409.64,199.53 410.07,199.45 410.51,199.37 410.94,199.29 411.37,199.21 411.80,199.13 412.23,199.05 412.66,198.98 413.09,198.90 413.53,198.82 413.96,198.74 414.39,198.67 414.82,198.59 415.25,198.51 415.68,198.44 416.12,198.36 416.55,198.29 416.98,198.21 417.41,198.14 417.84,198.06 418.27,197.99 418.71,197.92 419.14,197.84 419.57,197.77 420.00,197.70 420.43,197.63 420.86,197.55 421.29,197.48 421.73,197.41 422.16,197.34 422.59,197.27 423.02,197.20 423.45,197.13 423.88,197.06 424.32,196.99 424.75,196.92 425.18,196.85 425.61,196.79 426.04,196.72 426.47,196.65 426.91,196.58 427.34,196.52 427.77,196.45 428.20,196.38 428.63,196.32 429.06,196.25 429.49,196.18 429.93,196.12 430.36,196.05 430.79,195.99 431.22,195.92 431.65,195.86 432.08,195.80 432.52,195.73 432.95,195.67 433.38,195.60 433.81,195.54 434.24,195.48 434.67,195.42 435.11,195.35 435.54,195.29 435.97,195.23 436.40,195.17 436.83,195.11 437.26,195.05 437.69,194.99 438.13,194.93 438.56,194.87 438.99,194.81 439.42,194.75 439.85,194.69 440.28,194.63 440.72,194.57 441.15,194.51 441.58,194.45 442.01,194.39 442.44,194.34 442.87,194.28 443.31,194.22 443.74,194.16 444.17,194.11 444.60,194.05" fill="none" stroke="#FF7F00" stroke-width="1.5" stroke-linejoin="round" stroke-dasharray="2.58 2.58" stroke-dashoffset="0"/>
<rect x="264.0" y="161.5" width="189.2" height="112.80000000000001" fill="none" stroke="#333333" stroke-width="0.95"/>
<line x1="301.1" y1="274.3" x2="301.1" y2="276.9" stroke="#333333" stroke-width="0.95"/>
<text x="301.1" y="285.4" font-size="8" text-anchor="middle" fill="#4D4D4D" stroke="#4D4D4D" font-weight="normal" font-style="normal" >2.5</text>
<line x1="348.93" y1="274.3" x2="348.93" y2="276.9" stroke="#333333" stroke-width="0.95"/>
<text x="348.93" y="285.4" font-size="8" text-anchor="middle" fill="#4D4D4D" stroke="#4D4D4D" font-weight="normal" font-style="normal" >5.0</text>
<line x1="396.77" y1="274.3" x2="396.77" y2="276.9" stroke="#333333" stroke-width="0.95"/>
<text x="396.77" y="285.4" font-size="8" text-anchor="middle" fill="#4D4D4D" stroke="#4D4D4D" font-weight="normal" font-style="normal" >7.5</text>
<line x1="444.6" y1="274.3" x2="444.6" y2="276.9" stroke="#333333" stroke-width="0.95"/>
<use href="#oneR" transform="translate(436.815,285.400) scale(0.003906,-0.003906)" fill="#4D4D4D" stroke="#4D4D4D" stroke-width="25.6"/>
<text x="444.6" y="285.4" font-size="8" text-anchor="middle" fill="#4D4D4D" stroke="#4D4D4D" font-weight="normal" font-style="normal" > 0.0</text>
<line x1="261.4" y1="269.5" x2="264" y2="269.5" stroke="#333333" stroke-width="0.95"/>
<text x="259.4" y="272.35" font-size="8" text-anchor="end" fill="#4D4D4D" stroke="#4D4D4D" font-weight="normal" font-style="normal" >0.00</text>
<line x1="261.4" y1="243.62" x2="264" y2="243.62" stroke="#333333" stroke-width="0.95"/>
<text x="259.4" y="246.47" font-size="8" text-anchor="end" fill="#4D4D4D" stroke="#4D4D4D" font-weight="normal" font-style="normal" >0.25</text>
<line x1="261.4" y1="217.75" x2="264" y2="217.75" stroke="#333333" stroke-width="0.95"/>
<text x="259.4" y="220.6" font-size="8" text-anchor="end" fill="#4D4D4D" stroke="#4D4D4D" font-weight="normal" font-style="normal" >0.50</text>
<line x1="261.4" y1="191.88" x2="264" y2="191.88" stroke="#333333" stroke-width="0.95"/>
<text x="259.4" y="194.72" font-size="8" text-anchor="end" fill="#4D4D4D" stroke="#4D4D4D" font-weight="normal" font-style="normal" >0.75</text>
<line x1="261.4" y1="166" x2="264" y2="166" stroke="#333333" stroke-width="0.95"/>
<use href="#oneR" transform="translate(243.830,168.850) scale(0.003906,-0.003906)" fill="#4D4D4D" stroke="#4D4D4D" stroke-width="25.6"/>
<text x="259.4" y="168.85" font-size="8" text-anchor="end" fill="#4D4D4D" stroke="#4D4D4D" font-weight="normal" font-style="normal" > .00</text>
<clipPath id="clipF"><rect x="502.45" y="161.2" width="181.95" height="115.30000000000001"/></clipPath>
<line x1="499.95" y1="161.2" x2="499.95" y2="276.5" stroke="#EBEBEB" stroke-width="0.55"/>
<line x1="555.05" y1="161.2" x2="555.05" y2="276.5" stroke="#EBEBEB" stroke-width="0.55"/>
<line x1="610.15" y1="161.2" x2="610.15" y2="276.5" stroke="#EBEBEB" stroke-width="0.55"/>
<line x1="665.25" y1="161.2" x2="665.25" y2="276.5" stroke="#EBEBEB" stroke-width="0.55"/>
<line x1="502.45" y1="258.51" x2="684.4" y2="258.51" stroke="#EBEBEB" stroke-width="0.55"/>
<line x1="502.45" y1="232.14" x2="684.4" y2="232.14" stroke="#EBEBEB" stroke-width="0.55"/>
<line x1="502.45" y1="205.76" x2="684.4" y2="205.76" stroke="#EBEBEB" stroke-width="0.55"/>
<line x1="502.45" y1="179.39" x2="684.4" y2="179.39" stroke="#EBEBEB" stroke-width="0.55"/>
<line x1="527.5" y1="161.2" x2="527.5" y2="276.5" stroke="#EBEBEB" stroke-width="1.1"/>
<line x1="582.6" y1="161.2" x2="582.6" y2="276.5" stroke="#EBEBEB" stroke-width="1.1"/>
<line x1="637.7" y1="161.2" x2="637.7" y2="276.5" stroke="#EBEBEB" stroke-width="1.1"/>
<line x1="502.45" y1="271.7" x2="684.4" y2="271.7" stroke="#EBEBEB" stroke-width="1.1"/>
<line x1="502.45" y1="245.32" x2="684.4" y2="245.32" stroke="#EBEBEB" stroke-width="1.1"/>
<line x1="502.45" y1="218.95" x2="684.4" y2="218.95" stroke="#EBEBEB" stroke-width="1.1"/>
<line x1="502.45" y1="192.57" x2="684.4" y2="192.57" stroke="#EBEBEB" stroke-width="1.1"/>
<line x1="502.45" y1="166.2" x2="684.4" y2="166.2" stroke="#EBEBEB" stroke-width="1.1"/>
<polyline points="510.91,271.66 511.12,271.66 511.33,271.66 511.53,271.66 511.74,271.66 511.95,271.66 512.15,271.66 512.36,271.66 512.57,271.66 512.78,271.66 512.98,271.66 513.19,271.66 513.40,271.66 513.60,271.66 513.81,271.66 514.02,271.66 514.22,271.66 514.43,271.66 514.64,271.66 514.84,271.66 515.05,271.66 515.26,271.65 515.46,271.65 515.67,271.65 515.88,271.65 516.09,271.65 516.29,271.65 516.50,271.65 516.71,271.65 516.91,271.65 517.12,271.65 517.33,271.65 517.53,271.65 517.74,271.65 517.95,271.65 518.15,271.65 518.36,271.65 518.57,271.65 518.77,271.65 518.98,271.65 519.19,271.65 519.40,271.65 519.60,271.65 519.81,271.65 520.02,271.64 520.22,271.64 520.43,271.64 520.64,271.64 520.84,271.64 521.05,271.64 521.26,271.64 521.46,271.64 521.67,271.64 521.88,271.64 522.08,271.64 522.29,271.64 522.50,271.64 522.71,271.64 522.91,271.64 523.12,271.64 523.33,271.64 523.53,271.64 523.74,271.64 523.95,271.64 524.15,271.63 524.36,271.63 524.57,271.63 524.77,271.63 524.98,271.63 525.19,271.63 525.40,271.63 525.60,271.63 525.81,271.63 526.02,271.63 526.22,271.63 526.43,271.63 526.64,271.63 526.84,271.63 527.05,271.63 527.26,271.63 527.46,271.62 527.67,271.62 527.88,271.62 528.08,271.62 528.29,271.62 528.50,271.62 528.71,271.62 528.91,271.62 529.12,271.62 529.33,271.62 529.53,271.62 529.74,271.62 529.95,271.62 530.15,271.62 530.36,271.62 530.57,271.61 530.77,271.61 530.98,271.61 531.19,271.61 531.39,271.61 531.60,271.61 531.81,271.61 532.02,271.61 532.22,271.61 532.43,271.61 532.64,271.61 532.84,271.61 533.05,271.61 533.26,271.60 533.46,271.60 533.67,271.60 533.88,271.60 534.08,271.60 534.29,271.60 534.50,271.60 534.70,271.60 534.91,271.60 535.12,271.60 535.33,271.60 535.53,271.59 535.74,271.59 535.95,271.59 536.15,271.59 536.36,271.59 536.57,271.59 536.77,271.59 536.98,271.59 537.19,271.59 537.39,271.59 537.60,271.59 537.81,271.58 538.01,271.58 538.22,271.58 538.43,271.58 538.64,271.58 538.84,271.58 539.05,271.58 539.26,271.58 539.46,271.58 539.67,271.57 539.88,271.57 540.08,271.57 540.29,271.57 540.50,271.57 540.70,271.57 540.91,271.57 541.12,271.57 541.33,271.57 541.53,271.56 541.74,271.56 541.95,271.56 542.15,271.56 542.36,271.56 542.57,271.56 542.77,271.56 542.98,271.56 543.19,271.55 543.39,271.55 543.60,271.55 543.81,271.55 544.01,271.55 544.22,271.55 544.43,271.55 544.64,271.55 544.84,271.54 545.05,271.54 545.26,271.54 545.46,271.54 545.67,271.54 545.88,271.54 546.08,271.54 546.29,271.53 546.50,271.53 546.70,271.53 546.91,271.53 547.12,271.53 547.32,271.53 547.53,271.53 547.74,271.52 547.95,271.52 548.15,271.52 548.36,271.52 548.57,271.52 548.77,271.52 548.98,271.52 549.19,271.51 549.39,271.51 549.60,271.51 549.81,271.51 550.01,271.51 550.22,271.51 550.43,271.50 550.63,271.50 550.84,271.50 551.05,271.50 551.26,271.50 551.46,271.49 551.67,271.49 551.88,271.49 552.08,271.49 552.29,271.49 552.50,271.49 552.70,271.48 552.91,271.48 553.12,271.48 553.32,271.48 553.53,271.48 553.74,271.47 553.95,271.47 554.15,271.47 554.36,271.47 554.57,271.47 554.77,271.46 554.98,271.46 555.19,271.46 555.39,271.46 555.60,271.46 555.81,271.45 556.01,271.45 556.22,271.45 556.43,271.45 556.63,271.45 556.84,271.44 557.05,271.44 557.26,271.44 557.46,271.44 557.67,271.43 557.88,271.43 558.08,271.43 558.29,271.43 558.50,271.42 558.70,271.42 558.91,271.42 559.12,271.42 559.32,271.42 559.53,271.41 559.74,271.41 559.94,271.41 560.15,271.41 560.36,271.40 560.57,271.40 560.77,271.40 560.98,271.39 561.19,271.39 561.39,271.39 561.60,271.39 561.81,271.38 562.01,271.38 562.22,271.38 562.43,271.38 562.63,271.37 562.84,271.37 563.05,271.37 563.25,271.36 563.46,271.36 563.67,271.36 563.88,271.36 564.08,271.35 564.29,271.35 564.50,271.35 564.70,271.34 564.91,271.34 565.12,271.34 565.32,271.33 565.53,271.33 565.74,271.33 565.94,271.32 566.15,271.32 566.36,271.32 566.56,271.31 566.77,271.31 566.98,271.31 567.19,271.30 567.39,271.30 567.60,271.30 567.81,271.29 568.01,271.29 568.22,271.29 568.43,271.28 568.63,271.28 568.84,271.28 569.05,271.27 569.25,271.27 569.46,271.27 569.67,271.26 569.88,271.26 570.08,271.25 570.29,271.25 570.50,271.25 570.70,271.24 570.91,271.24 571.12,271.23 571.32,271.23 571.53,271.23 571.74,271.22 571.94,271.22 572.15,271.21 572.36,271.21 572.56,271.21 572.77,271.20 572.98,271.20 573.19,271.19 573.39,271.19 573.60,271.18 573.81,271.18 574.01,271.17 574.22,271.17 574.43,271.17 574.63,271.16 574.84,271.16 575.05,271.15 575.25,271.15 575.46,271.14 575.67,271.14 575.87,271.13 576.08,271.13 576.29,271.12 576.50,271.12 576.70,271.11 576.91,271.11 577.12,271.10 577.32,271.10 577.53,271.09 577.74,271.09 577.94,271.08 578.15,271.08 578.36,271.07 578.56,271.07 578.77,271.06 578.98,271.05 579.18,271.05 579.39,271.04 579.60,271.04 579.81,271.03 580.01,271.03 580.22,271.02 580.43,271.01 580.63,271.01 580.84,271.00 581.05,271.00 581.25,270.99 581.46,270.98 581.67,270.98 581.87,270.97 582.08,270.97 582.29,270.96 582.49,270.95 582.70,270.95 582.91,270.94 583.12,270.93 583.32,270.93 583.53,270.92 583.74,270.91 583.94,270.91 584.15,270.90 584.36,270.89 584.56,270.89 584.77,270.88 584.98,270.87 585.18,270.86 585.39,270.86 585.60,270.85 585.81,270.84 586.01,270.84 586.22,270.83 586.43,270.82 586.63,270.81 586.84,270.81 587.05,270.80 587.25,270.79 587.46,270.78 587.67,270.77 587.87,270.77 588.08,270.76 588.29,270.75 588.49,270.74 588.70,270.73 588.91,270.73 589.12,270.72 589.32,270.71 589.53,270.70 589.74,270.69 589.94,270.68 590.15,270.67 590.36,270.67 590.56,270.66 590.77,270.65 590.98,270.64 591.18,270.63 591.39,270.62 591.60,270.61 591.80,270.60 592.01,270.59 592.22,270.58 592.43,270.57 592.63,270.56 592.84,270.55 593.05,270.54 593.25,270.53 593.46,270.52 593.67,270.51 593.87,270.50 594.08,270.49 594.29,270.48 594.49,270.47 594.70,270.46 594.91,270.45 595.11,270.44 595.32,270.43 595.53,270.42 595.74,270.41 595.94,270.40 596.15,270.39 596.36,270.38 596.56,270.37 596.77,270.35 596.98,270.34 597.18,270.33 597.39,270.32 597.60,270.31 597.80,270.30 598.01,270.28 598.22,270.27 598.43,270.26 598.63,270.25 598.84,270.24 599.05,270.22 599.25,270.21 599.46,270.20 599.67,270.19 599.87,270.17 600.08,270.16 600.29,270.15 600.49,270.13 600.70,270.12 600.91,270.11 601.11,270.09 601.32,270.08 601.53,270.07 601.74,270.05 601.94,270.04 602.15,270.03 602.36,270.01 602.56,270.00 602.77,269.98 602.98,269.97 603.18,269.95 603.39,269.94 603.60,269.93 603.80,269.91 604.01,269.90 604.22,269.88 604.42,269.87 604.63,269.85 604.84,269.84 605.05,269.82 605.25,269.80 605.46,269.79 605.67,269.77 605.87,269.76 606.08,269.74 606.29,269.72 606.49,269.71 606.70,269.69 606.91,269.68 607.11,269.66 607.32,269.64 607.53,269.63 607.73,269.61 607.94,269.59 608.15,269.57 608.36,269.56 608.56,269.54 608.77,269.52 608.98,269.50 609.18,269.49 609.39,269.47 609.60,269.45 609.80,269.43 610.01,269.41 610.22,269.40 610.42,269.38 610.63,269.36 610.84,269.34 611.04,269.32 611.25,269.30 611.46,269.28 611.67,269.26 611.87,269.24 612.08,269.22 612.29,269.20 612.49,269.18 612.70,269.16 612.91,269.14 613.11,269.12 613.32,269.10 613.53,269.08 613.73,269.06 613.94,269.04 614.15,269.02 614.36,269.00 614.56,268.98 614.77,268.96 614.98,268.94 615.18,268.92 615.39,268.89 615.60,268.87 615.80,268.85 616.01,268.83 616.22,268.81 616.42,268.78 616.63,268.76 616.84,268.74 617.04,268.72 617.25,268.70 617.46,268.67 617.67,268.65 617.87,268.63 618.08,268.60 618.29,268.58 618.49,268.56 618.70,268.53 618.91,268.51 619.11,268.49 619.32,268.46 619.53,268.44 619.73,268.42 619.94,268.39 620.15,268.37 620.35,268.34 620.56,268.32 620.77,268.30 620.98,268.27 621.18,268.25 621.39,268.22 621.60,268.20 621.80,268.17 622.01,268.15 622.22,268.12 622.42,268.10 622.63,268.07 622.84,268.05 623.04,268.02 623.25,268.00 623.46,267.97 623.66,267.95 623.87,267.92 624.08,267.90 624.29,267.87 624.49,267.85 624.70,267.82 624.91,267.80 625.11,267.77 625.32,267.74 625.53,267.72 625.73,267.69 625.94,267.67 626.15,267.64 626.35,267.62 626.56,267.59 626.77,267.57 626.97,267.54 627.18,267.51 627.39,267.49 627.60,267.46 627.80,267.44 628.01,267.41 628.22,267.39 628.42,267.36 628.63,267.34 628.84,267.31 629.04,267.29 629.25,267.26 629.46,267.24 629.66,267.21 629.87,267.19 630.08,267.16 630.29,267.14 630.49,267.12 630.70,267.09 630.91,267.07 631.11,267.04 631.32,267.02 631.53,267.00 631.73,266.97 631.94,266.95 632.15,266.93 632.35,266.90 632.56,266.88 632.77,266.86 632.97,266.84 633.18,266.82 633.39,266.80 633.60,266.77 633.80,266.75 634.01,266.73 634.22,266.71 634.42,266.69 634.63,266.67 634.84,266.65 635.04,266.63 635.25,266.62 635.46,266.60 635.66,266.58 635.87,266.56 636.08,266.55 636.28,266.53 636.49,266.51 636.70,266.50 636.91,266.48 637.11,266.47 637.32,266.45 637.53,266.44 637.73,266.43 637.94,266.41 638.15,266.40 638.35,266.39 638.56,266.38 638.77,266.37 638.97,266.36 639.18,266.35 639.39,266.34 639.59,266.33 639.80,266.33 640.01,266.32 640.22,266.31 640.42,266.31 640.63,266.30 640.84,266.30 641.04,266.30 641.25,266.29 641.46,266.29 641.66,266.29 641.87,266.29 642.08,266.29 642.28,266.30 642.49,266.30 642.70,266.30 642.90,266.31 643.11,266.31 643.32,266.32 643.53,266.32 643.73,266.33 643.94,266.34 644.15,266.35 644.35,266.36 644.56,266.37 644.77,266.39 644.97,266.40 645.18,266.42 645.39,266.43 645.59,266.45 645.80,266.47 646.01,266.48 646.22,266.50 646.42,266.53 646.63,266.55 646.84,266.57 647.04,266.59 647.25,266.62 647.46,266.65 647.66,266.67 647.87,266.70 648.08,266.73 648.28,266.76 648.49,266.79 648.70,266.83 648.90,266.86 649.11,266.90 649.32,266.93 649.53,266.97 649.73,267.01 649.94,267.05 650.15,267.09 650.35,267.13 650.56,267.17 650.77,267.21 650.97,267.26 651.18,267.30 651.39,267.35 651.59,267.40 651.80,267.44 652.01,267.49 652.21,267.54 652.42,267.59 652.63,267.65 652.84,267.70 653.04,267.75 653.25,267.81 653.46,267.86 653.66,267.92 653.87,267.97 654.08,268.03 654.28,268.09 654.49,268.15 654.70,268.20 654.90,268.26 655.11,268.32 655.32,268.38 655.52,268.44 655.73,268.51 655.94,268.57 656.15,268.63 656.35,268.69 656.56,268.75 656.77,268.82 656.97,268.88 657.18,268.94 657.39,269.00 657.59,269.07 657.80,269.13 658.01,269.19 658.21,269.26 658.42,269.32 658.63,269.38 658.84,269.44 659.04,269.51 659.25,269.57 659.46,269.63 659.66,269.69 659.87,269.75 660.08,269.81 660.28,269.87 660.49,269.93 660.70,269.98 660.90,270.04 661.11,270.10 661.32,270.15 661.52,270.21 661.73,270.26 661.94,270.32 662.15,270.37 662.35,270.42 662.56,270.47 662.77,270.52 662.97,270.57 663.18,270.62 663.39,270.66 663.59,270.71 663.80,270.75 664.01,270.79 664.21,270.84 664.42,270.88 664.63,270.92 664.83,270.96 665.04,270.99 665.25,271.03 665.46,271.06 665.66,271.10 665.87,271.13 666.08,271.16 666.28,271.19 666.49,271.22 666.70,271.25 666.90,271.28 667.11,271.30 667.32,271.33 667.52,271.35 667.73,271.37 667.94,271.39 668.14,271.42 668.35,271.43 668.56,271.45 668.77,271.47 668.97,271.49 669.18,271.50 669.39,271.52 669.59,271.53 669.80,271.54 670.01,271.56 670.21,271.57 670.42,271.58 670.63,271.59 670.83,271.60 671.04,271.61 671.25,271.62 671.45,271.62 671.66,271.63 671.87,271.64 672.08,271.64 672.28,271.65 672.49,271.65 672.70,271.66 672.90,271.66 673.11,271.67 673.32,271.67 673.52,271.67 673.73,271.68 673.94,271.68 674.14,271.68 674.35,271.68 674.56,271.69 674.77,271.69 674.97,271.69 675.18,271.69 675.39,271.69 675.59,271.69 675.80,271.69 676.01,271.69 676.21,271.69" fill="none" stroke="#A6CEE3" stroke-width="1.35" stroke-linejoin="round"/>
<polyline points="510.91,271.63 511.12,271.63 511.33,271.63 511.53,271.63 511.74,271.63 511.95,271.63 512.15,271.63 512.36,271.63 512.57,271.62 512.78,271.62 512.98,271.62 513.19,271.62 513.40,271.62 513.60,271.62 513.81,271.62 514.02,271.61 514.22,271.61 514.43,271.61 514.64,271.61 514.84,271.61 515.05,271.61 515.26,271.61 515.46,271.60 515.67,271.60 515.88,271.60 516.09,271.60 516.29,271.60 516.50,271.59 516.71,271.59 516.91,271.59 517.12,271.59 517.33,271.59 517.53,271.59 517.74,271.58 517.95,271.58 518.15,271.58 518.36,271.58 518.57,271.58 518.77,271.57 518.98,271.57 519.19,271.57 519.40,271.57 519.60,271.56 519.81,271.56 520.02,271.56 520.22,271.56 520.43,271.55 520.64,271.55 520.84,271.55 521.05,271.55 521.26,271.54 521.46,271.54 521.67,271.54 521.88,271.54 522.08,271.53 522.29,271.53 522.50,271.53 522.71,271.52 522.91,271.52 523.12,271.52 523.33,271.51 523.53,271.51 523.74,271.51 523.95,271.50 524.15,271.50 524.36,271.50 524.57,271.49 524.77,271.49 524.98,271.49 525.19,271.48 525.40,271.48 525.60,271.48 525.81,271.47 526.02,271.47 526.22,271.46 526.43,271.46 526.64,271.45 526.84,271.45 527.05,271.45 527.26,271.44 527.46,271.44 527.67,271.43 527.88,271.43 528.08,271.42 528.29,271.42 528.50,271.41 528.71,271.41 528.91,271.40 529.12,271.40 529.33,271.39 529.53,271.39 529.74,271.38 529.95,271.38 530.15,271.37 530.36,271.37 530.57,271.36 530.77,271.35 530.98,271.35 531.19,271.34 531.39,271.34 531.60,271.33 531.81,271.32 532.02,271.32 532.22,271.31 532.43,271.30 532.64,271.30 532.84,271.29 533.05,271.28 533.26,271.27 533.46,271.27 533.67,271.26 533.88,271.25 534.08,271.24 534.29,271.24 534.50,271.23 534.70,271.22 534.91,271.21 535.12,271.20 535.33,271.19 535.53,271.18 535.74,271.18 535.95,271.17 536.15,271.16 536.36,271.15 536.57,271.14 536.77,271.13 536.98,271.12 537.19,271.11 537.39,271.10 537.60,271.09 537.81,271.08 538.01,271.07 538.22,271.05 538.43,271.04 538.64,271.03 538.84,271.02 539.05,271.01 539.26,271.00 539.46,270.98 539.67,270.97 539.88,270.96 540.08,270.95 540.29,270.93 540.50,270.92 540.70,270.91 540.91,270.89 541.12,270.88 541.33,270.86 541.53,270.85 541.74,270.83 541.95,270.82 542.15,270.80 542.36,270.79 542.57,270.77 542.77,270.76 542.98,270.74 543.19,270.72 543.39,270.71 543.60,270.69 543.81,270.67 544.01,270.65 544.22,270.63 544.43,270.62 544.64,270.60 544.84,270.58 545.05,270.56 545.26,270.54 545.46,270.52 545.67,270.50 545.88,270.48 546.08,270.46 546.29,270.43 546.50,270.41 546.70,270.39 546.91,270.37 547.12,270.34 547.32,270.32 547.53,270.30 547.74,270.27 547.95,270.25 548.15,270.22 548.36,270.20 548.57,270.17 548.77,270.14 548.98,270.12 549.19,270.09 549.39,270.06 549.60,270.03 549.81,270.00 550.01,269.97 550.22,269.94 550.43,269.91 550.63,269.88 550.84,269.85 551.05,269.82 551.26,269.78 551.46,269.75 551.67,269.72 551.88,269.68 552.08,269.65 552.29,269.61 552.50,269.58 552.70,269.54 552.91,269.50 553.12,269.46 553.32,269.42 553.53,269.38 553.74,269.34 553.95,269.30 554.15,269.26 554.36,269.22 554.57,269.18 554.77,269.13 554.98,269.09 555.19,269.04 555.39,269.00 555.60,268.95 555.81,268.90 556.01,268.85 556.22,268.80 556.43,268.75 556.63,268.70 556.84,268.65 557.05,268.60 557.26,268.54 557.46,268.49 557.67,268.43 557.88,268.38 558.08,268.32 558.29,268.26 558.50,268.20 558.70,268.14 558.91,268.08 559.12,268.01 559.32,267.95 559.53,267.89 559.74,267.82 559.94,267.75 560.15,267.68 560.36,267.61 560.57,267.54 560.77,267.47 560.98,267.40 561.19,267.32 561.39,267.25 561.60,267.17 561.81,267.09 562.01,267.01 562.22,266.93 562.43,266.85 562.63,266.77 562.84,266.68 563.05,266.60 563.25,266.51 563.46,266.42 563.67,266.33 563.88,266.23 564.08,266.14 564.29,266.04 564.50,265.95 564.70,265.85 564.91,265.75 565.12,265.64 565.32,265.54 565.53,265.43 565.74,265.33 565.94,265.22 566.15,265.11 566.36,264.99 566.56,264.88 566.77,264.76 566.98,264.64 567.19,264.52 567.39,264.40 567.60,264.27 567.81,264.15 568.01,264.02 568.22,263.89 568.43,263.75 568.63,263.62 568.84,263.48 569.05,263.34 569.25,263.20 569.46,263.05 569.67,262.90 569.88,262.76 570.08,262.60 570.29,262.45 570.50,262.29 570.70,262.13 570.91,261.97 571.12,261.81 571.32,261.64 571.53,261.47 571.74,261.30 571.94,261.12 572.15,260.94 572.36,260.76 572.56,260.58 572.77,260.39 572.98,260.20 573.19,260.01 573.39,259.81 573.60,259.61 573.81,259.41 574.01,259.20 574.22,259.00 574.43,258.78 574.63,258.57 574.84,258.35 575.05,258.13 575.25,257.90 575.46,257.68 575.67,257.44 575.87,257.21 576.08,256.97 576.29,256.73 576.50,256.48 576.70,256.23 576.91,255.98 577.12,255.72 577.32,255.46 577.53,255.20 577.74,254.93 577.94,254.66 578.15,254.38 578.36,254.10 578.56,253.82 578.77,253.53 578.98,253.24 579.18,252.94 579.39,252.64 579.60,252.34 579.81,252.03 580.01,251.71 580.22,251.40 580.43,251.08 580.63,250.75 580.84,250.42 581.05,250.09 581.25,249.75 581.46,249.41 581.67,249.07 581.87,248.72 582.08,248.36 582.29,248.00 582.49,247.64 582.70,247.27 582.91,246.90 583.12,246.53 583.32,246.15 583.53,245.76 583.74,245.38 583.94,244.99 584.15,244.59 584.36,244.19 584.56,243.79 584.77,243.38 584.98,242.97 585.18,242.55 585.39,242.13 585.60,241.71 585.81,241.29 586.01,240.86 586.22,240.42 586.43,239.99 586.63,239.55 586.84,239.11 587.05,238.66 587.25,238.21 587.46,237.76 587.67,237.31 587.87,236.85 588.08,236.39 588.29,235.93 588.49,235.47 588.70,235.01 588.91,234.54 589.12,234.08 589.32,233.61 589.53,233.14 589.74,232.68 589.94,232.21 590.15,231.74 590.36,231.27 590.56,230.80 590.77,230.33 590.98,229.87 591.18,229.40 591.39,228.94 591.60,228.48 591.80,228.02 592.01,227.57 592.22,227.12 592.43,226.67 592.63,226.23 592.84,225.79 593.05,225.36 593.25,224.93 593.46,224.51 593.67,224.09 593.87,223.68 594.08,223.28 594.29,222.89 594.49,222.51 594.70,222.13 594.91,221.77 595.11,221.42 595.32,221.07 595.53,220.74 595.74,220.42 595.94,220.12 596.15,219.83 596.36,219.55 596.56,219.29 596.77,219.04 596.98,218.81 597.18,218.60 597.39,218.40 597.60,218.22 597.80,218.07 598.01,217.93 598.22,217.81 598.43,217.71 598.63,217.64 598.84,217.59 599.05,217.56 599.25,217.55 599.46,217.57 599.67,217.62 599.87,217.69 600.08,217.78 600.29,217.91 600.49,218.06 600.70,218.23 600.91,218.44 601.11,218.68 601.32,218.94 601.53,219.23 601.74,219.56 601.94,219.91 602.15,220.29 602.36,220.71 602.56,221.15 602.77,221.62 602.98,222.13 603.18,222.66 603.39,223.23 603.60,223.82 603.80,224.45 604.01,225.10 604.22,225.79 604.42,226.50 604.63,227.23 604.84,228.00 605.05,228.79 605.25,229.60 605.46,230.44 605.67,231.31 605.87,232.19 606.08,233.10 606.29,234.02 606.49,234.96 606.70,235.92 606.91,236.90 607.11,237.88 607.32,238.88 607.53,239.89 607.73,240.91 607.94,241.93 608.15,242.96 608.36,243.99 608.56,245.02 608.77,246.05 608.98,247.08 609.18,248.10 609.39,249.12 609.60,250.13 609.80,251.12 610.01,252.10 610.22,253.07 610.42,254.02 610.63,254.96 610.84,255.87 611.04,256.77 611.25,257.64 611.46,258.49 611.67,259.31 611.87,260.10 612.08,260.87 612.29,261.61 612.49,262.32 612.70,263.01 612.91,263.66 613.11,264.28 613.32,264.87 613.53,265.43 613.73,265.96 613.94,266.46 614.15,266.93 614.36,267.37 614.56,267.78 614.77,268.17 614.98,268.52 615.18,268.85 615.39,269.15 615.60,269.43 615.80,269.69 616.01,269.92 616.22,270.13 616.42,270.33 616.63,270.50 616.84,270.65 617.04,270.79 617.25,270.92 617.46,271.03 617.67,271.12 617.87,271.21 618.08,271.28 618.29,271.35 618.49,271.41 618.70,271.45 618.91,271.50 619.11,271.53 619.32,271.56 619.53,271.59 619.73,271.61 619.94,271.63 620.15,271.64 620.35,271.65 620.56,271.66 620.77,271.67 620.98,271.68 621.18,271.68 621.39,271.69 621.60,271.69 621.80,271.69 622.01,271.69 622.22,271.70 622.42,271.70 622.63,271.70 622.84,271.70 623.04,271.70 623.25,271.70 623.46,271.70 623.66,271.70 623.87,271.70 624.08,271.70 624.29,271.70 624.49,271.70 624.70,271.70 624.91,271.70 625.11,271.70 625.32,271.70 625.53,271.70 625.73,271.70 625.94,271.70 626.15,271.70 626.35,271.70 626.56,271.70 626.77,271.70 626.97,271.70 627.18,271.70 627.39,271.70 627.60,271.70 627.80,271.70 628.01,271.70 628.22,271.70 628.42,271.70 628.63,271.70 628.84,271.70 629.04,271.70 629.25,271.70 629.46,271.70 629.66,271.70 629.87,271.70 630.08,271.70 630.29,271.70 630.49,271.70 630.70,271.70 630.91,271.70 631.11,271.70 631.32,271.70 631.53,271.70 631.73,271.70 631.94,271.70 632.15,271.70 632.35,271.70 632.56,271.70 632.77,271.70 632.97,271.70 633.18,271.70 633.39,271.70 633.60,271.70 633.80,271.70 634.01,271.70 634.22,271.70 634.42,271.70 634.63,271.70 634.84,271.70 635.04,271.70 635.25,271.70 635.46,271.70 635.66,271.70 635.87,271.70 636.08,271.70 636.28,271.70 636.49,271.70 636.70,271.70 636.91,271.70 637.11,271.70 637.32,271.70 637.53,271.70 637.73,271.70 637.94,271.70 638.15,271.70 638.35,271.70 638.56,271.70 638.77,271.70 638.97,271.70 639.18,271.70 639.39,271.70 639.59,271.70 639.80,271.70 640.01,271.70 640.22,271.70 640.42,271.70 640.63,271.70 640.84,271.70 641.04,271.70 641.25,271.70 641.46,271.70 641.66,271.70 641.87,271.70 642.08,271.70 642.28,271.70 642.49,271.70 642.70,271.70 642.90,271.70 643.11,271.70 643.32,271.70 643.53,271.70 643.73,271.70 643.94,271.70 644.15,271.70 644.35,271.70 644.56,271.70 644.77,271.70 644.97,271.70 645.18,271.70 645.39,271.70 645.59,271.70 645.80,271.70 646.01,271.70 646.22,271.70 646.42,271.70 646.63,271.70 646.84,271.70 647.04,271.70 647.25,271.70" fill="none" stroke="#B2DF8A" stroke-width="1.35" stroke-linejoin="round"/>
<polyline points="510.91,271.60 511.12,271.60 511.33,271.59 511.53,271.59 511.74,271.59 511.95,271.59 512.15,271.58 512.36,271.58 512.57,271.58 512.78,271.57 512.98,271.57 513.19,271.57 513.40,271.56 513.60,271.56 513.81,271.56 514.02,271.55 514.22,271.55 514.43,271.54 514.64,271.54 514.84,271.53 515.05,271.53 515.26,271.53 515.46,271.52 515.67,271.52 515.88,271.51 516.09,271.51 516.29,271.50 516.50,271.50 516.71,271.49 516.91,271.49 517.12,271.48 517.33,271.47 517.53,271.47 517.74,271.46 517.95,271.46 518.15,271.45 518.36,271.44 518.57,271.44 518.77,271.43 518.98,271.42 519.19,271.42 519.40,271.41 519.60,271.40 519.81,271.39 520.02,271.38 520.22,271.38 520.43,271.37 520.64,271.36 520.84,271.35 521.05,271.34 521.26,271.33 521.46,271.32 521.67,271.31 521.88,271.30 522.08,271.29 522.29,271.28 522.50,271.27 522.71,271.26 522.91,271.25 523.12,271.23 523.33,271.22 523.53,271.21 523.74,271.20 523.95,271.18 524.15,271.17 524.36,271.16 524.57,271.14 524.77,271.13 524.98,271.11 525.19,271.10 525.40,271.08 525.60,271.06 525.81,271.05 526.02,271.03 526.22,271.01 526.43,270.99 526.64,270.98 526.84,270.96 527.05,270.94 527.26,270.92 527.46,270.90 527.67,270.88 527.88,270.85 528.08,270.83 528.29,270.81 528.50,270.79 528.71,270.76 528.91,270.74 529.12,270.71 529.33,270.69 529.53,270.66 529.74,270.63 529.95,270.60 530.15,270.58 530.36,270.55 530.57,270.52 530.77,270.48 530.98,270.45 531.19,270.42 531.39,270.39 531.60,270.35 531.81,270.32 532.02,270.28 532.22,270.24 532.43,270.20 532.64,270.17 532.84,270.13 533.05,270.08 533.26,270.04 533.46,270.00 533.67,269.95 533.88,269.91 534.08,269.86 534.29,269.81 534.50,269.76 534.70,269.71 534.91,269.66 535.12,269.61 535.33,269.55 535.53,269.49 535.74,269.44 535.95,269.38 536.15,269.32 536.36,269.25 536.57,269.19 536.77,269.12 536.98,269.06 537.19,268.99 537.39,268.91 537.60,268.84 537.81,268.77 538.01,268.69 538.22,268.61 538.43,268.53 538.64,268.45 538.84,268.36 539.05,268.27 539.26,268.18 539.46,268.09 539.67,268.00 539.88,267.90 540.08,267.80 540.29,267.70 540.50,267.59 540.70,267.49 540.91,267.37 541.12,267.26 541.33,267.15 541.53,267.03 541.74,266.90 541.95,266.78 542.15,266.65 542.36,266.52 542.57,266.38 542.77,266.24 542.98,266.10 543.19,265.95 543.39,265.80 543.60,265.65 543.81,265.49 544.01,265.33 544.22,265.16 544.43,264.99 544.64,264.81 544.84,264.63 545.05,264.45 545.26,264.26 545.46,264.06 545.67,263.86 545.88,263.66 546.08,263.45 546.29,263.23 546.50,263.01 546.70,262.79 546.91,262.55 547.12,262.31 547.32,262.07 547.53,261.82 547.74,261.56 547.95,261.30 548.15,261.02 548.36,260.75 548.57,260.46 548.77,260.17 548.98,259.87 549.19,259.56 549.39,259.24 549.60,258.92 549.81,258.59 550.01,258.25 550.22,257.90 550.43,257.54 550.63,257.17 550.84,256.79 551.05,256.41 551.26,256.01 551.46,255.61 551.67,255.19 551.88,254.76 552.08,254.32 552.29,253.87 552.50,253.41 552.70,252.94 552.91,252.46 553.12,251.96 553.32,251.45 553.53,250.93 553.74,250.40 553.95,249.85 554.15,249.29 554.36,248.71 554.57,248.12 554.77,247.52 554.98,246.90 555.19,246.26 555.39,245.61 555.60,244.94 555.81,244.26 556.01,243.56 556.22,242.85 556.43,242.11 556.63,241.36 556.84,240.59 557.05,239.80 557.26,238.99 557.46,238.17 557.67,237.32 557.88,236.45 558.08,235.57 558.29,234.66 558.50,233.73 558.70,232.78 558.91,231.80 559.12,230.81 559.32,229.79 559.53,228.75 559.74,227.68 559.94,226.59 560.15,225.48 560.36,224.34 560.57,223.17 560.77,221.98 560.98,220.76 561.19,219.52 561.39,218.25 561.60,216.95 561.81,215.63 562.01,214.27 562.22,212.89 562.43,211.48 562.63,210.04 562.84,208.57 563.05,207.07 563.25,205.54 563.46,203.98 563.67,202.39 563.88,200.77 564.08,199.13 564.29,197.44 564.50,195.73 564.70,193.99 564.91,192.22 565.12,190.41 565.32,188.58 565.53,186.71 565.74,184.82 565.94,182.89 566.15,180.94 566.36,178.95 566.56,176.94 566.77,174.89 566.98,172.82 567.19,170.73 567.39,168.60 567.60,166.45" fill="none" stroke="#FDBF6F" stroke-width="1.35" stroke-linejoin="round"/>
<polyline points="583.32,169.50 583.53,174.48 583.74,179.46 583.94,184.43 584.15,189.37 584.36,194.25 584.56,199.07 584.77,203.81 584.98,208.45 585.18,212.96 585.39,217.35 585.60,221.60 585.81,225.68 586.01,229.60 586.22,233.34 586.43,236.89 586.63,240.25 586.84,243.41 587.05,246.38 587.25,249.14 587.46,251.70 587.67,254.06 587.87,256.22 588.08,258.20 588.29,259.99 588.49,261.60 588.70,263.04 588.91,264.33 589.12,265.46 589.32,266.46 589.53,267.32 589.74,268.07 589.94,268.72 590.15,269.27 590.36,269.73 590.56,270.12 590.77,270.44 590.98,270.71 591.18,270.93 591.39,271.10 591.60,271.24 591.80,271.35 592.01,271.44 592.22,271.51 592.43,271.56 592.63,271.60 592.84,271.63 593.05,271.65 593.25,271.66 593.46,271.67 593.67,271.68 593.87,271.69 594.08,271.69 594.29,271.70 594.49,271.70 594.70,271.70 594.91,271.70 595.11,271.70 595.32,271.70 595.53,271.70 595.74,271.70 595.94,271.70 596.15,271.70 596.36,271.70 596.56,271.70 596.77,271.70 596.98,271.70 597.18,271.70 597.39,271.70 597.60,271.70 597.80,271.70 598.01,271.70 598.22,271.70 598.43,271.70 598.63,271.70 598.84,271.70 599.05,271.70 599.25,271.70 599.46,271.70 599.67,271.70 599.87,271.70 600.08,271.70 600.29,271.70 600.49,271.70 600.70,271.70 600.91,271.70 601.11,271.70 601.32,271.70 601.53,271.70 601.74,271.70 601.94,271.70 602.15,271.70 602.36,271.70 602.56,271.70 602.77,271.70 602.98,271.70 603.18,271.70 603.39,271.70 603.60,271.70 603.80,271.70 604.01,271.70 604.22,271.70 604.42,271.70 604.63,271.70 604.84,271.70 605.05,271.70 605.25,271.70 605.46,271.70 605.67,271.70 605.87,271.70 606.08,271.70 606.29,271.70 606.49,271.70 606.70,271.70 606.91,271.70 607.11,271.70 607.32,271.70 607.53,271.70 607.73,271.70 607.94,271.70 608.15,271.70 608.36,271.70 608.56,271.70 608.77,271.70 608.98,271.70 609.18,271.70 609.39,271.70 609.60,271.70 609.80,271.70 610.01,271.70 610.22,271.70 610.42,271.70 610.63,271.70 610.84,271.70 611.04,271.70 611.25,271.70 611.46,271.70 611.67,271.70 611.87,271.70 612.08,271.70 612.29,271.70 612.49,271.70 612.70,271.70 612.91,271.70 613.11,271.70 613.32,271.70 613.53,271.70 613.73,271.70 613.94,271.70 614.15,271.70 614.36,271.70 614.56,271.70 614.77,271.70 614.98,271.70 615.18,271.70 615.39,271.70 615.60,271.70 615.80,271.70 616.01,271.70 616.22,271.70 616.42,271.70 616.63,271.70 616.84,271.70 617.04,271.70 617.25,271.70 617.46,271.70 617.67,271.70 617.87,271.70 618.08,271.70 618.29,271.70 618.49,271.70 618.70,271.70 618.91,271.70 619.11,271.70 619.32,271.70 619.53,271.70 619.73,271.70 619.94,271.70" fill="none" stroke="#FDBF6F" stroke-width="1.35" stroke-linejoin="round"/>
<polyline points="510.91,271.67 511.12,271.67 511.33,271.67 511.53,271.67 511.74,271.67 511.95,271.67 512.15,271.67 512.36,271.67 512.57,271.66 512.78,271.66 512.98,271.66 513.19,271.66 513.40,271.66 513.60,271.66 513.81,271.66 514.02,271.66 514.22,271.66 514.43,271.66 514.64,271.66 514.84,271.66 515.05,271.66 515.26,271.66 515.46,271.66 515.67,271.66 515.88,271.66 516.09,271.66 516.29,271.66 516.50,271.66 516.71,271.66 516.91,271.66 517.12,271.66 517.33,271.66 517.53,271.66 517.74,271.66 517.95,271.66 518.15,271.66 518.36,271.66 518.57,271.65 518.77,271.65 518.98,271.65 519.19,271.65 519.40,271.65 519.60,271.65 519.81,271.65 520.02,271.65 520.22,271.65 520.43,271.65 520.64,271.65 520.84,271.65 521.05,271.65 521.26,271.65 521.46,271.65 521.67,271.65 521.88,271.65 522.08,271.65 522.29,271.65 522.50,271.65 522.71,271.65 522.91,271.65 523.12,271.65 523.33,271.64 523.53,271.64 523.74,271.64 523.95,271.64 524.15,271.64 524.36,271.64 524.57,271.64 524.77,271.64 524.98,271.64 525.19,271.64 525.40,271.64 525.60,271.64 525.81,271.64 526.02,271.64 526.22,271.64 526.43,271.64 526.64,271.64 526.84,271.64 527.05,271.64 527.26,271.63 527.46,271.63 527.67,271.63 527.88,271.63 528.08,271.63 528.29,271.63 528.50,271.63 528.71,271.63 528.91,271.63 529.12,271.63 529.33,271.63 529.53,271.63 529.74,271.63 529.95,271.63 530.15,271.63 530.36,271.63 530.57,271.63 530.77,271.62 530.98,271.62 531.19,271.62 531.39,271.62 531.60,271.62 531.81,271.62 532.02,271.62 532.22,271.62 532.43,271.62 532.64,271.62 532.84,271.62 533.05,271.62 533.26,271.62 533.46,271.62 533.67,271.61 533.88,271.61 534.08,271.61 534.29,271.61 534.50,271.61 534.70,271.61 534.91,271.61 535.12,271.61 535.33,271.61 535.53,271.61 535.74,271.61 535.95,271.61 536.15,271.61 536.36,271.60 536.57,271.60 536.77,271.60 536.98,271.60 537.19,271.60 537.39,271.60 537.60,271.60 537.81,271.60 538.01,271.60 538.22,271.60 538.43,271.60 538.64,271.60 538.84,271.59 539.05,271.59 539.26,271.59 539.46,271.59 539.67,271.59 539.88,271.59 540.08,271.59 540.29,271.59 540.50,271.59 540.70,271.59 540.91,271.58 541.12,271.58 541.33,271.58 541.53,271.58 541.74,271.58 541.95,271.58 542.15,271.58 542.36,271.58 542.57,271.58 542.77,271.58 542.98,271.57 543.19,271.57 543.39,271.57 543.60,271.57 543.81,271.57 544.01,271.57 544.22,271.57 544.43,271.57 544.64,271.57 544.84,271.56 545.05,271.56 545.26,271.56 545.46,271.56 545.67,271.56 545.88,271.56 546.08,271.56 546.29,271.56 546.50,271.55 546.70,271.55 546.91,271.55 547.12,271.55 547.32,271.55 547.53,271.55 547.74,271.55 547.95,271.55 548.15,271.54 548.36,271.54 548.57,271.54 548.77,271.54 548.98,271.54 549.19,271.54 549.39,271.54 549.60,271.53 549.81,271.53 550.01,271.53 550.22,271.53 550.43,271.53 550.63,271.53 550.84,271.53 551.05,271.52 551.26,271.52 551.46,271.52 551.67,271.52 551.88,271.52 552.08,271.52 552.29,271.51 552.50,271.51 552.70,271.51 552.91,271.51 553.12,271.51 553.32,271.51 553.53,271.50 553.74,271.50 553.95,271.50 554.15,271.50 554.36,271.50 554.57,271.50 554.77,271.49 554.98,271.49 555.19,271.49 555.39,271.49 555.60,271.49 555.81,271.49 556.01,271.48 556.22,271.48 556.43,271.48 556.63,271.48 556.84,271.48 557.05,271.47 557.26,271.47 557.46,271.47 557.67,271.47 557.88,271.47 558.08,271.46 558.29,271.46 558.50,271.46 558.70,271.46 558.91,271.46 559.12,271.45 559.32,271.45 559.53,271.45 559.74,271.45 559.94,271.44 560.15,271.44 560.36,271.44 560.57,271.44 560.77,271.44 560.98,271.43 561.19,271.43 561.39,271.43 561.60,271.43 561.81,271.42 562.01,271.42 562.22,271.42 562.43,271.42 562.63,271.41 562.84,271.41 563.05,271.41 563.25,271.41 563.46,271.40 563.67,271.40 563.88,271.40 564.08,271.40 564.29,271.39 564.50,271.39 564.70,271.39 564.91,271.39 565.12,271.38 565.32,271.38 565.53,271.38 565.74,271.37 565.94,271.37 566.15,271.37 566.36,271.37 566.56,271.36 566.77,271.36 566.98,271.36 567.19,271.35 567.39,271.35 567.60,271.35 567.81,271.35 568.01,271.34 568.22,271.34 568.43,271.34 568.63,271.33 568.84,271.33 569.05,271.33 569.25,271.32 569.46,271.32 569.67,271.32 569.88,271.31 570.08,271.31 570.29,271.31 570.50,271.30 570.70,271.30 570.91,271.30 571.12,271.29 571.32,271.29 571.53,271.29 571.74,271.28 571.94,271.28 572.15,271.28 572.36,271.27 572.56,271.27 572.77,271.26 572.98,271.26 573.19,271.26 573.39,271.25 573.60,271.25 573.81,271.24 574.01,271.24 574.22,271.24 574.43,271.23 574.63,271.23 574.84,271.22 575.05,271.22 575.25,271.22 575.46,271.21 575.67,271.21 575.87,271.20 576.08,271.20 576.29,271.20 576.50,271.19 576.70,271.19 576.91,271.18 577.12,271.18 577.32,271.17 577.53,271.17 577.74,271.16 577.94,271.16 578.15,271.15 578.36,271.15 578.56,271.14 578.77,271.14 578.98,271.14 579.18,271.13 579.39,271.13 579.60,271.12 579.81,271.12 580.01,271.11 580.22,271.11 580.43,271.10 580.63,271.10 580.84,271.09 581.05,271.08 581.25,271.08 581.46,271.07 581.67,271.07 581.87,271.06 582.08,271.06 582.29,271.05 582.49,271.05 582.70,271.04 582.91,271.04 583.12,271.03 583.32,271.02 583.53,271.02 583.74,271.01 583.94,271.01 584.15,271.00 584.36,270.99 584.56,270.99 584.77,270.98 584.98,270.98 585.18,270.97 585.39,270.96 585.60,270.96 585.81,270.95 586.01,270.94 586.22,270.94 586.43,270.93 586.63,270.92 586.84,270.92 587.05,270.91 587.25,270.90 587.46,270.90 587.67,270.89 587.87,270.88 588.08,270.88 588.29,270.87 588.49,270.86 588.70,270.85 588.91,270.85 589.12,270.84 589.32,270.83 589.53,270.83 589.74,270.82 589.94,270.81 590.15,270.80 590.36,270.79 590.56,270.79 590.77,270.78 590.98,270.77 591.18,270.76 591.39,270.76 591.60,270.75 591.80,270.74 592.01,270.73 592.22,270.72 592.43,270.71 592.63,270.71 592.84,270.70 593.05,270.69 593.25,270.68 593.46,270.67 593.67,270.66 593.87,270.65 594.08,270.64 594.29,270.64 594.49,270.63 594.70,270.62 594.91,270.61 595.11,270.60 595.32,270.59 595.53,270.58 595.74,270.57 595.94,270.56 596.15,270.55 596.36,270.54 596.56,270.53 596.77,270.52 596.98,270.51 597.18,270.50 597.39,270.49 597.60,270.48 597.80,270.47 598.01,270.46 598.22,270.45 598.43,270.44 598.63,270.43 598.84,270.42 599.05,270.41 599.25,270.40 599.46,270.38 599.67,270.37 599.87,270.36 600.08,270.35 600.29,270.34 600.49,270.33 600.70,270.32 600.91,270.30 601.11,270.29 601.32,270.28 601.53,270.27 601.74,270.26 601.94,270.25 602.15,270.23 602.36,270.22 602.56,270.21 602.77,270.20 602.98,270.18 603.18,270.17 603.39,270.16 603.60,270.14 603.80,270.13 604.01,270.12 604.22,270.11 604.42,270.09 604.63,270.08 604.84,270.07 605.05,270.05 605.25,270.04 605.46,270.02 605.67,270.01 605.87,270.00 606.08,269.98 606.29,269.97 606.49,269.95 606.70,269.94 606.91,269.92 607.11,269.91 607.32,269.89 607.53,269.88 607.73,269.86 607.94,269.85 608.15,269.83 608.36,269.82 608.56,269.80 608.77,269.79 608.98,269.77 609.18,269.76 609.39,269.74 609.60,269.72 609.80,269.71 610.01,269.69 610.22,269.68 610.42,269.66 610.63,269.64 610.84,269.63 611.04,269.61 611.25,269.59 611.46,269.58 611.67,269.56 611.87,269.54 612.08,269.52 612.29,269.51 612.49,269.49 612.70,269.47 612.91,269.45 613.11,269.44 613.32,269.42 613.53,269.40 613.73,269.38 613.94,269.36 614.15,269.34 614.36,269.33 614.56,269.31 614.77,269.29 614.98,269.27 615.18,269.25 615.39,269.23 615.60,269.21 615.80,269.19 616.01,269.17 616.22,269.15 616.42,269.13 616.63,269.11 616.84,269.09 617.04,269.07 617.25,269.05 617.46,269.03 617.67,269.01 617.87,268.99 618.08,268.97 618.29,268.95 618.49,268.93 618.70,268.91 618.91,268.89 619.11,268.86 619.32,268.84 619.53,268.82 619.73,268.80 619.94,268.78 620.15,268.76 620.35,268.74 620.56,268.71 620.77,268.69 620.98,268.67 621.18,268.65 621.39,268.62 621.60,268.60 621.80,268.58 622.01,268.56 622.22,268.53 622.42,268.51 622.63,268.49 622.84,268.47 623.04,268.44 623.25,268.42 623.46,268.40 623.66,268.37 623.87,268.35 624.08,268.33 624.29,268.30 624.49,268.28 624.70,268.26 624.91,268.23 625.11,268.21 625.32,268.19 625.53,268.16 625.73,268.14 625.94,268.12 626.15,268.09 626.35,268.07 626.56,268.04 626.77,268.02 626.97,268.00 627.18,267.97 627.39,267.95 627.60,267.92 627.80,267.90 628.01,267.88 628.22,267.85 628.42,267.83 628.63,267.81 628.84,267.78 629.04,267.76 629.25,267.73 629.46,267.71 629.66,267.69 629.87,267.66 630.08,267.64 630.29,267.62 630.49,267.59 630.70,267.57 630.91,267.55 631.11,267.52 631.32,267.50 631.53,267.48 631.73,267.45 631.94,267.43 632.15,267.41 632.35,267.39 632.56,267.36 632.77,267.34 632.97,267.32 633.18,267.30 633.39,267.28 633.60,267.25 633.80,267.23 634.01,267.21 634.22,267.19 634.42,267.17 634.63,267.15 634.84,267.13 635.04,267.11 635.25,267.09 635.46,267.07 635.66,267.05 635.87,267.03 636.08,267.01 636.28,267.00 636.49,266.98 636.70,266.96 636.91,266.94 637.11,266.93 637.32,266.91 637.53,266.89 637.73,266.88 637.94,266.86 638.15,266.85 638.35,266.83 638.56,266.82 638.77,266.80 638.97,266.79 639.18,266.78 639.39,266.77 639.59,266.76 639.80,266.74 640.01,266.73 640.22,266.72 640.42,266.71 640.63,266.70 640.84,266.70 641.04,266.69 641.25,266.68 641.46,266.67 641.66,266.67 641.87,266.66 642.08,266.66 642.28,266.65 642.49,266.65 642.70,266.65 642.90,266.65 643.11,266.64 643.32,266.64 643.53,266.64 643.73,266.65 643.94,266.65 644.15,266.65 644.35,266.65 644.56,266.66 644.77,266.66 644.97,266.67 645.18,266.68 645.39,266.68 645.59,266.69 645.80,266.70 646.01,266.71 646.22,266.72 646.42,266.74 646.63,266.75 646.84,266.76 647.04,266.78 647.25,266.79 647.46,266.81 647.66,266.83 647.87,266.85 648.08,266.87 648.28,266.89 648.49,266.91 648.70,266.93 648.90,266.96 649.11,266.98 649.32,267.01 649.53,267.03 649.73,267.06 649.94,267.09 650.15,267.12 650.35,267.15 650.56,267.18 650.77,267.22 650.97,267.25 651.18,267.28 651.39,267.32 651.59,267.36 651.80,267.39 652.01,267.43 652.21,267.47 652.42,267.51 652.63,267.56 652.84,267.60 653.04,267.64 653.25,267.69 653.46,267.73 653.66,267.78 653.87,267.82 654.08,267.87 654.28,267.92 654.49,267.97 654.70,268.02 654.90,268.07 655.11,268.12 655.32,268.17 655.52,268.23 655.73,268.28 655.94,268.33 656.15,268.39 656.35,268.44 656.56,268.50 656.77,268.56 656.97,268.61 657.18,268.67 657.39,268.73 657.59,268.78 657.80,268.84 658.01,268.90 658.21,268.96 658.42,269.02 658.63,269.08 658.84,269.13 659.04,269.19 659.25,269.25 659.46,269.31 659.66,269.37 659.87,269.43 660.08,269.49 660.28,269.54 660.49,269.60 660.70,269.66 660.90,269.72 661.11,269.78 661.32,269.83 661.52,269.89 661.73,269.94 661.94,270.00 662.15,270.05 662.35,270.11 662.56,270.16 662.77,270.21 662.97,270.27 663.18,270.32 663.39,270.37 663.59,270.42 663.80,270.47 664.01,270.51 664.21,270.56 664.42,270.61 664.63,270.65 664.83,270.70 665.04,270.74 665.25,270.78 665.46,270.82 665.66,270.86 665.87,270.90 666.08,270.94 666.28,270.98 666.49,271.01 666.70,271.05 666.90,271.08 667.11,271.11 667.32,271.14 667.52,271.17 667.73,271.20 667.94,271.23 668.14,271.26 668.35,271.28 668.56,271.31 668.77,271.33 668.97,271.36 669.18,271.38 669.39,271.40 669.59,271.42 669.80,271.44 670.01,271.46 670.21,271.47 670.42,271.49 670.63,271.50 670.83,271.52 671.04,271.53 671.25,271.55 671.45,271.56 671.66,271.57 671.87,271.58 672.08,271.59 672.28,271.60 672.49,271.61 672.70,271.62 672.90,271.62 673.11,271.63 673.32,271.64 673.52,271.64 673.73,271.65 673.94,271.65 674.14,271.66 674.35,271.66 674.56,271.67 674.77,271.67 674.97,271.67 675.18,271.68 675.39,271.68 675.59,271.68 675.80,271.68 676.01,271.68 676.21,271.69" fill="none" stroke="#1F78B4" stroke-width="1.5" stroke-linejoin="round" stroke-dasharray="2.58 2.58" stroke-dashoffset="0"/>
<polyline points="510.91,271.65 511.12,271.65 511.33,271.65 511.53,271.65 511.74,271.65 511.95,271.64 512.15,271.64 512.36,271.64 512.57,271.64 512.78,271.64 512.98,271.64 513.19,271.64 513.40,271.64 513.60,271.64 513.81,271.64 514.02,271.63 514.22,271.63 514.43,271.63 514.64,271.63 514.84,271.63 515.05,271.63 515.26,271.63 515.46,271.63 515.67,271.62 515.88,271.62 516.09,271.62 516.29,271.62 516.50,271.62 516.71,271.62 516.91,271.62 517.12,271.61 517.33,271.61 517.53,271.61 517.74,271.61 517.95,271.61 518.15,271.61 518.36,271.61 518.57,271.60 518.77,271.60 518.98,271.60 519.19,271.60 519.40,271.60 519.60,271.59 519.81,271.59 520.02,271.59 520.22,271.59 520.43,271.59 520.64,271.59 520.84,271.58 521.05,271.58 521.26,271.58 521.46,271.58 521.67,271.57 521.88,271.57 522.08,271.57 522.29,271.57 522.50,271.57 522.71,271.56 522.91,271.56 523.12,271.56 523.33,271.56 523.53,271.55 523.74,271.55 523.95,271.55 524.15,271.55 524.36,271.54 524.57,271.54 524.77,271.54 524.98,271.53 525.19,271.53 525.40,271.53 525.60,271.53 525.81,271.52 526.02,271.52 526.22,271.52 526.43,271.51 526.64,271.51 526.84,271.51 527.05,271.50 527.26,271.50 527.46,271.50 527.67,271.49 527.88,271.49 528.08,271.49 528.29,271.48 528.50,271.48 528.71,271.47 528.91,271.47 529.12,271.47 529.33,271.46 529.53,271.46 529.74,271.45 529.95,271.45 530.15,271.45 530.36,271.44 530.57,271.44 530.77,271.43 530.98,271.43 531.19,271.42 531.39,271.42 531.60,271.41 531.81,271.41 532.02,271.40 532.22,271.40 532.43,271.39 532.64,271.39 532.84,271.38 533.05,271.38 533.26,271.37 533.46,271.36 533.67,271.36 533.88,271.35 534.08,271.35 534.29,271.34 534.50,271.33 534.70,271.33 534.91,271.32 535.12,271.31 535.33,271.31 535.53,271.30 535.74,271.29 535.95,271.29 536.15,271.28 536.36,271.27 536.57,271.27 536.77,271.26 536.98,271.25 537.19,271.24 537.39,271.23 537.60,271.23 537.81,271.22 538.01,271.21 538.22,271.20 538.43,271.19 538.64,271.18 538.84,271.17 539.05,271.16 539.26,271.16 539.46,271.15 539.67,271.14 539.88,271.13 540.08,271.12 540.29,271.11 540.50,271.10 540.70,271.09 540.91,271.07 541.12,271.06 541.33,271.05 541.53,271.04 541.74,271.03 541.95,271.02 542.15,271.01 542.36,270.99 542.57,270.98 542.77,270.97 542.98,270.96 543.19,270.94 543.39,270.93 543.60,270.92 543.81,270.90 544.01,270.89 544.22,270.88 544.43,270.86 544.64,270.85 544.84,270.83 545.05,270.82 545.26,270.80 545.46,270.79 545.67,270.77 545.88,270.75 546.08,270.74 546.29,270.72 546.50,270.70 546.70,270.69 546.91,270.67 547.12,270.65 547.32,270.63 547.53,270.61 547.74,270.59 547.95,270.58 548.15,270.56 548.36,270.54 548.57,270.52 548.77,270.49 548.98,270.47 549.19,270.45 549.39,270.43 549.60,270.41 549.81,270.39 550.01,270.36 550.22,270.34 550.43,270.32 550.63,270.29 550.84,270.27 551.05,270.24 551.26,270.22 551.46,270.19 551.67,270.17 551.88,270.14 552.08,270.11 552.29,270.08 552.50,270.06 552.70,270.03 552.91,270.00 553.12,269.97 553.32,269.94 553.53,269.91 553.74,269.88 553.95,269.84 554.15,269.81 554.36,269.78 554.57,269.75 554.77,269.71 554.98,269.68 555.19,269.64 555.39,269.61 555.60,269.57 555.81,269.53 556.01,269.50 556.22,269.46 556.43,269.42 556.63,269.38 556.84,269.34 557.05,269.30 557.26,269.26 557.46,269.21 557.67,269.17 557.88,269.13 558.08,269.08 558.29,269.04 558.50,268.99 558.70,268.94 558.91,268.89 559.12,268.85 559.32,268.80 559.53,268.75 559.74,268.69 559.94,268.64 560.15,268.59 560.36,268.54 560.57,268.48 560.77,268.42 560.98,268.37 561.19,268.31 561.39,268.25 561.60,268.19 561.81,268.13 562.01,268.07 562.22,268.01 562.43,267.94 562.63,267.88 562.84,267.81 563.05,267.74 563.25,267.68 563.46,267.61 563.67,267.54 563.88,267.46 564.08,267.39 564.29,267.32 564.50,267.24 564.70,267.16 564.91,267.08 565.12,267.01 565.32,266.92 565.53,266.84 565.74,266.76 565.94,266.67 566.15,266.59 566.36,266.50 566.56,266.41 566.77,266.32 566.98,266.22 567.19,266.13 567.39,266.04 567.60,265.94 567.81,265.84 568.01,265.74 568.22,265.64 568.43,265.53 568.63,265.43 568.84,265.32 569.05,265.21 569.25,265.10 569.46,264.98 569.67,264.87 569.88,264.75 570.08,264.63 570.29,264.51 570.50,264.39 570.70,264.27 570.91,264.14 571.12,264.01 571.32,263.88 571.53,263.75 571.74,263.61 571.94,263.47 572.15,263.33 572.36,263.19 572.56,263.05 572.77,262.90 572.98,262.75 573.19,262.60 573.39,262.45 573.60,262.29 573.81,262.13 574.01,261.97 574.22,261.81 574.43,261.64 574.63,261.47 574.84,261.30 575.05,261.12 575.25,260.95 575.46,260.77 575.67,260.58 575.87,260.40 576.08,260.21 576.29,260.02 576.50,259.82 576.70,259.62 576.91,259.42 577.12,259.22 577.32,259.01 577.53,258.80 577.74,258.59 577.94,258.37 578.15,258.15 578.36,257.93 578.56,257.70 578.77,257.47 578.98,257.24 579.18,257.01 579.39,256.77 579.60,256.52 579.81,256.28 580.01,256.03 580.22,255.77 580.43,255.51 580.63,255.25 580.84,254.99 581.05,254.72 581.25,254.45 581.46,254.17 581.67,253.89 581.87,253.61 582.08,253.32 582.29,253.03 582.49,252.74 582.70,252.44 582.91,252.14 583.12,251.83 583.32,251.52 583.53,251.20 583.74,250.89 583.94,250.57 584.15,250.24 584.36,249.91 584.56,249.58 584.77,249.24 584.98,248.90 585.18,248.55 585.39,248.21 585.60,247.85 585.81,247.50 586.01,247.14 586.22,246.77 586.43,246.41 586.63,246.03 586.84,245.66 587.05,245.28 587.25,244.90 587.46,244.52 587.67,244.13 587.87,243.74 588.08,243.34 588.29,242.94 588.49,242.54 588.70,242.14 588.91,241.73 589.12,241.32 589.32,240.91 589.53,240.50 589.74,240.08 589.94,239.66 590.15,239.24 590.36,238.82 590.56,238.40 590.77,237.97 590.98,237.54 591.18,237.12 591.39,236.69 591.60,236.26 591.80,235.83 592.01,235.40 592.22,234.97 592.43,234.54 592.63,234.11 592.84,233.68 593.05,233.25 593.25,232.83 593.46,232.40 593.67,231.98 593.87,231.56 594.08,231.14 594.29,230.73 594.49,230.32 594.70,229.91 594.91,229.51 595.11,229.11 595.32,228.72 595.53,228.33 595.74,227.95 595.94,227.58 596.15,227.21 596.36,226.85 596.56,226.50 596.77,226.16 596.98,225.83 597.18,225.50 597.39,225.19 597.60,224.89 597.80,224.60 598.01,224.32 598.22,224.05 598.43,223.80 598.63,223.56 598.84,223.33 599.05,223.12 599.25,222.93 599.46,222.75 599.67,222.59 599.87,222.45 600.08,222.32 600.29,222.22 600.49,222.13 600.70,222.06 600.91,222.02 601.11,221.99 601.32,221.99 601.53,222.01 601.74,222.06 601.94,222.12 602.15,222.21 602.36,222.33 602.56,222.47 602.77,222.64 602.98,222.83 603.18,223.05 603.39,223.29 603.60,223.56 603.80,223.86 604.01,224.19 604.22,224.55 604.42,224.93 604.63,225.34 604.84,225.78 605.05,226.24 605.25,226.74 605.46,227.26 605.67,227.81 605.87,228.39 606.08,228.99 606.29,229.62 606.49,230.27 606.70,230.95 606.91,231.66 607.11,232.39 607.32,233.14 607.53,233.91 607.73,234.70 607.94,235.52 608.15,236.35 608.36,237.20 608.56,238.07 608.77,238.95 608.98,239.84 609.18,240.75 609.39,241.67 609.60,242.60 609.80,243.53 610.01,244.47 610.22,245.42 610.42,246.36 610.63,247.31 610.84,248.26 611.04,249.20 611.25,250.14 611.46,251.07 611.67,251.99 611.87,252.91 612.08,253.81 612.29,254.69 612.49,255.57 612.70,256.42 612.91,257.26 613.11,258.08 613.32,258.88 613.53,259.65 613.73,260.40 613.94,261.13 614.15,261.83 614.36,262.51 614.56,263.16 614.77,263.78 614.98,264.38 615.18,264.95 615.39,265.49 615.60,266.00 615.80,266.48 616.01,266.94 616.22,267.37 616.42,267.77 616.63,268.14 616.84,268.49 617.04,268.82 617.25,269.12 617.46,269.39 617.67,269.65 617.87,269.88 618.08,270.09 618.29,270.28 618.49,270.46 618.70,270.61 618.91,270.75 619.11,270.88" fill="none" stroke="#33A02C" stroke-width="1.5" stroke-linejoin="round" stroke-dasharray="2.58 2.58" stroke-dashoffset="0"/>
<polyline points="510.91,271.63 511.12,271.63 511.33,271.63 511.53,271.63 511.74,271.63 511.95,271.62 512.15,271.62 512.36,271.62 512.57,271.62 512.78,271.62 512.98,271.61 513.19,271.61 513.40,271.61 513.60,271.61 513.81,271.60 514.02,271.60 514.22,271.60 514.43,271.60 514.64,271.59 514.84,271.59 515.05,271.59 515.26,271.58 515.46,271.58 515.67,271.58 515.88,271.57 516.09,271.57 516.29,271.57 516.50,271.56 516.71,271.56 516.91,271.56 517.12,271.55 517.33,271.55 517.53,271.55 517.74,271.54 517.95,271.54 518.15,271.53 518.36,271.53 518.57,271.52 518.77,271.52 518.98,271.52 519.19,271.51 519.40,271.51 519.60,271.50 519.81,271.50 520.02,271.49 520.22,271.48 520.43,271.48 520.64,271.47 520.84,271.47 521.05,271.46 521.26,271.45 521.46,271.45 521.67,271.44 521.88,271.43 522.08,271.43 522.29,271.42 522.50,271.41 522.71,271.41 522.91,271.40 523.12,271.39 523.33,271.38 523.53,271.37 523.74,271.36 523.95,271.36 524.15,271.35 524.36,271.34 524.57,271.33 524.77,271.32 524.98,271.31 525.19,271.30 525.40,271.29 525.60,271.28 525.81,271.27 526.02,271.25 526.22,271.24 526.43,271.23 526.64,271.22 526.84,271.20 527.05,271.19 527.26,271.18 527.46,271.16 527.67,271.15 527.88,271.14 528.08,271.12 528.29,271.11 528.50,271.09 528.71,271.07 528.91,271.06 529.12,271.04 529.33,271.02 529.53,271.01 529.74,270.99 529.95,270.97 530.15,270.95 530.36,270.93 530.57,270.91 530.77,270.89 530.98,270.87 531.19,270.85 531.39,270.82 531.60,270.80 531.81,270.78 532.02,270.75 532.22,270.73 532.43,270.70 532.64,270.68 532.84,270.65 533.05,270.62 533.26,270.59 533.46,270.56 533.67,270.54 533.88,270.50 534.08,270.47 534.29,270.44 534.50,270.41 534.70,270.37 534.91,270.34 535.12,270.30 535.33,270.27 535.53,270.23 535.74,270.19 535.95,270.15 536.15,270.11 536.36,270.07 536.57,270.03 536.77,269.98 536.98,269.94 537.19,269.89 537.39,269.84 537.60,269.79 537.81,269.74 538.01,269.69 538.22,269.64 538.43,269.59 538.64,269.53 538.84,269.47 539.05,269.41 539.26,269.35 539.46,269.29 539.67,269.23 539.88,269.17 540.08,269.10 540.29,269.03 540.50,268.96 540.70,268.89 540.91,268.81 541.12,268.74 541.33,268.66 541.53,268.58 541.74,268.50 541.95,268.42 542.15,268.33 542.36,268.24 542.57,268.15 542.77,268.06 542.98,267.96 543.19,267.86 543.39,267.76 543.60,267.66 543.81,267.55 544.01,267.45 544.22,267.33 544.43,267.22 544.64,267.10 544.84,266.98 545.05,266.86 545.26,266.73 545.46,266.60 545.67,266.47 545.88,266.33 546.08,266.19 546.29,266.05 546.50,265.90 546.70,265.75 546.91,265.59 547.12,265.43 547.32,265.27 547.53,265.10 547.74,264.93 547.95,264.75 548.15,264.57 548.36,264.38 548.57,264.19 548.77,263.99 548.98,263.79 549.19,263.59 549.39,263.38 549.60,263.16 549.81,262.94 550.01,262.71 550.22,262.47 550.43,262.23 550.63,261.98 550.84,261.73 551.05,261.47 551.26,261.21 551.46,260.93 551.67,260.65 551.88,260.36 552.08,260.07 552.29,259.77 552.50,259.46 552.70,259.14 552.91,258.81 553.12,258.48 553.32,258.14 553.53,257.78 553.74,257.42 553.95,257.05 554.15,256.67 554.36,256.29 554.57,255.89 554.77,255.48 554.98,255.06 555.19,254.63 555.39,254.19 555.60,253.74 555.81,253.27 556.01,252.80 556.22,252.31 556.43,251.82 556.63,251.30 556.84,250.78 557.05,250.24 557.26,249.69 557.46,249.13 557.67,248.55 557.88,247.96 558.08,247.35 558.29,246.73 558.50,246.10 558.70,245.45 558.91,244.78 559.12,244.09 559.32,243.39 559.53,242.68 559.74,241.94 559.94,241.19 560.15,240.42 560.36,239.63 560.57,238.83 560.77,238.00 560.98,237.15 561.19,236.29 561.39,235.40 561.60,234.50 561.81,233.57 562.01,232.63 562.22,231.66 562.43,230.66 562.63,229.65 562.84,228.62 563.05,227.56 563.25,226.47 563.46,225.37 563.67,224.24 563.88,223.08 564.08,221.90 564.29,220.70 564.50,219.47 564.70,218.21 564.91,216.93 565.12,215.62 565.32,214.28 565.53,212.92 565.74,211.53 565.94,210.12 566.15,208.68 566.36,207.20 566.56,205.71 566.77,204.18 566.98,202.63 567.19,201.04 567.39,199.43 567.60,197.80 567.81,196.13 568.01,194.44 568.22,192.72 568.43,190.97 568.63,189.20 568.84,187.39 569.05,185.57 569.25,183.71 569.46,181.84 569.67,179.93 569.88,178.01 570.08,176.06 570.29,174.09 570.50,172.09 570.70,170.08 570.91,168.05" fill="none" stroke="#FF7F00" stroke-width="1.5" stroke-linejoin="round" stroke-dasharray="2.58 2.58" stroke-dashoffset="0"/>
<polyline points="585.18,167.24 585.39,171.65 585.60,176.11 585.81,180.59 586.01,185.09 586.22,189.59 586.43,194.08 586.63,198.53 586.84,202.93 587.05,207.26 587.25,211.52 587.46,215.68 587.67,219.73 587.87,223.66 588.08,227.46 588.29,231.11 588.49,234.60 588.70,237.94 588.91,241.10 589.12,244.09 589.32,246.90 589.53,249.52 589.74,251.97 589.94,254.23 590.15,256.31 590.36,258.22 590.56,259.96 590.77,261.53 590.98,262.95 591.18,264.21 591.39,265.33 591.60,266.32 591.80,267.19 592.01,267.94 592.22,268.59 592.43,269.15 592.63,269.63 592.84,270.02 593.05,270.36 593.25,270.64 593.46,270.86 593.67,271.05 593.87,271.20 594.08,271.32 594.29,271.41 594.49,271.48 594.70,271.54 594.91,271.58 595.11,271.61 595.32,271.64 595.53,271.66 595.74,271.67 595.94,271.68 596.15,271.69 596.36,271.69 596.56,271.69 596.77,271.70 596.98,271.70 597.18,271.70 597.39,271.70 597.60,271.70 597.80,271.70 598.01,271.70 598.22,271.70 598.43,271.70 598.63,271.70 598.84,271.70 599.05,271.70 599.25,271.70 599.46,271.70 599.67,271.70 599.87,271.70 600.08,271.70 600.29,271.70 600.49,271.70 600.70,271.70 600.91,271.70 601.11,271.70 601.32,271.70 601.53,271.70 601.74,271.70 601.94,271.70 602.15,271.70 602.36,271.70 602.56,271.70 602.77,271.70 602.98,271.70 603.18,271.70 603.39,271.70 603.60,271.70 603.80,271.70 604.01,271.70 604.22,271.70 604.42,271.70 604.63,271.70 604.84,271.70 605.05,271.70 605.25,271.70 605.46,271.70 605.67,271.70 605.87,271.70 606.08,271.70 606.29,271.70 606.49,271.70 606.70,271.70 606.91,271.70 607.11,271.70 607.32,271.70 607.53,271.70 607.73,271.70 607.94,271.70 608.15,271.70 608.36,271.70 608.56,271.70 608.77,271.70 608.98,271.70 609.18,271.70 609.39,271.70 609.60,271.70 609.80,271.70 610.01,271.70 610.22,271.70 610.42,271.70 610.63,271.70 610.84,271.70 611.04,271.70 611.25,271.70 611.46,271.70 611.67,271.70 611.87,271.70 612.08,271.70 612.29,271.70 612.49,271.70 612.70,271.70 612.91,271.70 613.11,271.70 613.32,271.70 613.53,271.70 613.73,271.70 613.94,271.70 614.15,271.70 614.36,271.70 614.56,271.70 614.77,271.70 614.98,271.70 615.18,271.70 615.39,271.70 615.60,271.70 615.80,271.70 616.01,271.70 616.22,271.70 616.42,271.70 616.63,271.70 616.84,271.70 617.04,271.70 617.25,271.70 617.46,271.70 617.67,271.70 617.87,271.70 618.08,271.70 618.29,271.70 618.49,271.70 618.70,271.70 618.91,271.70 619.11,271.70 619.32,271.70 619.53,271.70 619.73,271.70 619.94,271.70 620.15,271.70 620.35,271.70 620.56,271.70 620.77,271.70 620.98,271.70 621.18,271.70 621.39,271.70 621.60,271.70 621.80,271.70 622.01,271.70 622.22,271.70 622.42,271.70 622.63,271.70 622.84,271.70 623.04,271.70 623.25,271.70 623.46,271.70 623.66,271.70 623.87,271.70 624.08,271.70 624.29,271.70 624.49,271.70 624.70,271.70 624.91,271.70 625.11,271.70 625.32,271.70 625.53,271.70 625.73,271.70 625.94,271.70 626.15,271.70 626.35,271.70 626.56,271.70 626.77,271.70 626.97,271.70 627.18,271.70 627.39,271.70 627.60,271.70 627.80,271.70 628.01,271.70 628.22,271.70 628.42,271.70 628.63,271.70 628.84,271.70 629.04,271.70 629.25,271.70 629.46,271.70 629.66,271.70 629.87,271.70 630.08,271.70 630.29,271.70 630.49,271.70 630.70,271.70 630.91,271.70 631.11,271.70 631.32,271.70 631.53,271.70 631.73,271.70 631.94,271.70 632.15,271.70 632.35,271.70 632.56,271.70 632.77,271.70 632.97,271.70 633.18,271.70 633.39,271.70 633.60,271.70 633.80,271.70 634.01,271.70 634.22,271.70 634.42,271.70 634.63,271.70 634.84,271.70 635.04,271.70 635.25,271.70 635.46,271.70 635.66,271.70 635.87,271.70 636.08,271.70 636.28,271.70 636.49,271.70 636.70,271.70 636.91,271.70 637.11,271.70 637.32,271.70 637.53,271.70 637.73,271.70 637.94,271.70 638.15,271.70 638.35,271.70 638.56,271.70 638.77,271.70 638.97,271.70 639.18,271.70 639.39,271.70 639.59,271.70 639.80,271.70 640.01,271.70 640.22,271.70 640.42,271.70 640.63,271.70 640.84,271.70 641.04,271.70 641.25,271.70 641.46,271.70 641.66,271.70 641.87,271.70 642.08,271.70 642.28,271.70 642.49,271.70 642.70,271.70 642.90,271.70 643.11,271.70 643.32,271.70 643.53,271.70 643.73,271.70 643.94,271.70 644.15,271.70 644.35,271.70 644.56,271.70 644.77,271.70 644.97,271.70 645.18,271.70 645.39,271.70 645.59,271.70 645.80,271.70 646.01,271.70 646.22,271.70 646.42,271.70 646.63,271.70 646.84,271.70 647.04,271.70 647.25,271.70 647.46,271.70 647.66,271.70 647.87,271.70 648.08,271.70 648.28,271.70 648.49,271.70 648.70,271.70 648.90,271.70 649.11,271.70 649.32,271.70 649.53,271.70 649.73,271.70 649.94,271.70 650.15,271.70 650.35,271.70 650.56,271.70 650.77,271.70 650.97,271.70 651.18,271.70 651.39,271.70 651.59,271.70 651.80,271.70 652.01,271.70 652.21,271.70 652.42,271.70 652.63,271.70 652.84,271.70 653.04,271.70 653.25,271.70 653.46,271.70 653.66,271.70 653.87,271.70 654.08,271.70 654.28,271.70 654.49,271.70 654.70,271.70 654.90,271.70 655.11,271.70 655.32,271.70 655.52,271.70 655.73,271.70 655.94,271.70 656.15,271.70 656.35,271.70 656.56,271.70 656.77,271.70 656.97,271.70 657.18,271.70 657.39,271.70 657.59,271.70 657.80,271.70 658.01,271.70 658.21,271.70 658.42,271.70 658.63,271.70 658.84,271.70 659.04,271.70 659.25,271.70 659.46,271.70 659.66,271.70 659.87,271.70 660.08,271.70 660.28,271.70 660.49,271.70 660.70,271.70 660.90,271.70 661.11,271.70 661.32,271.70 661.52,271.70 661.73,271.70 661.94,271.70 662.15,271.70 662.35,271.70 662.56,271.70 662.77,271.70 662.97,271.70 663.18,271.70 663.39,271.70 663.59,271.70 663.80,271.70 664.01,271.70 664.21,271.70 664.42,271.70 664.63,271.70 664.83,271.70 665.04,271.70 665.25,271.70 665.46,271.70 665.66,271.70 665.87,271.70 666.08,271.70 666.28,271.70 666.49,271.70 666.70,271.70 666.90,271.70 667.11,271.70 667.32,271.70 667.52,271.70 667.73,271.70 667.94,271.70 668.14,271.70 668.35,271.70 668.56,271.70 668.77,271.70 668.97,271.70 669.18,271.70 669.39,271.70 669.59,271.70 669.80,271.70 670.01,271.70 670.21,271.70 670.42,271.70 670.63,271.70 670.83,271.70 671.04,271.70 671.25,271.70 671.45,271.70 671.66,271.70 671.87,271.70 672.08,271.70 672.28,271.70 672.49,271.70 672.70,271.70 672.90,271.70 673.11,271.70 673.32,271.70 673.52,271.70 673.73,271.70 673.94,271.70 674.14,271.70 674.35,271.70 674.56,271.70 674.77,271.70 674.97,271.70 675.18,271.70 675.39,271.70 675.59,271.70 675.80,271.70 676.01,271.70 676.21,271.70" fill="none" stroke="#FF7F00" stroke-width="1.5" stroke-linejoin="round" stroke-dasharray="2.58 2.58" stroke-dashoffset="0"/>
<rect x="502.45" y="161.2" width="181.95" height="115.30000000000001" fill="none" stroke="#333333" stroke-width="0.95"/>
<line x1="527.5" y1="276.5" x2="527.5" y2="279.1" stroke="#333333" stroke-width="0.95"/>
<use href="#oneR" transform="translate(525.275,287.600) scale(0.003906,-0.003906)" fill="#4D4D4D" stroke="#4D4D4D" stroke-width="25.6"/>
<text x="527.5" y="287.6" font-size="8" text-anchor="middle" fill="#4D4D4D" stroke="#4D4D4D" font-weight="normal" font-style="normal" > </text>
<line x1="582.6" y1="276.5" x2="582.6" y2="279.1" stroke="#333333" stroke-width="0.95"/>
<use href="#oneR" transform="translate(578.151,287.600) scale(0.003906,-0.003906)" fill="#4D4D4D" stroke="#4D4D4D" stroke-width="25.6"/>
<text x="582.6" y="287.6" font-size="8" text-anchor="middle" fill="#4D4D4D" stroke="#4D4D4D" font-weight="normal" font-style="normal" > 0</text>
<line x1="637.7" y1="276.5" x2="637.7" y2="279.1" stroke="#333333" stroke-width="0.95"/>
<use href="#oneR" transform="translate(631.026,287.600) scale(0.003906,-0.003906)" fill="#4D4D4D" stroke="#4D4D4D" stroke-width="25.6"/>
<text x="637.7" y="287.6" font-size="8" text-anchor="middle" fill="#4D4D4D" stroke="#4D4D4D" font-weight="normal" font-style="normal" > 00</text>
<line x1="499.85" y1="271.7" x2="502.45" y2="271.7" stroke="#333333" stroke-width="0.95"/>
<text x="497.85" y="274.55" font-size="8" text-anchor="end" fill="#4D4D4D" stroke="#4D4D4D" font-weight="normal" font-style="normal" >0.000</text>
<line x1="499.85" y1="245.32" x2="502.45" y2="245.32" stroke="#333333" stroke-width="0.95"/>
<text x="497.85" y="248.17" font-size="8" text-anchor="end" fill="#4D4D4D" stroke="#4D4D4D" font-weight="normal" font-style="normal" >0.025</text>
<line x1="499.85" y1="218.95" x2="502.45" y2="218.95" stroke="#333333" stroke-width="0.95"/>
<text x="497.85" y="221.8" font-size="8" text-anchor="end" fill="#4D4D4D" stroke="#4D4D4D" font-weight="normal" font-style="normal" >0.050</text>
<line x1="499.85" y1="192.57" x2="502.45" y2="192.57" stroke="#333333" stroke-width="0.95"/>
<text x="497.85" y="195.42" font-size="8" text-anchor="end" fill="#4D4D4D" stroke="#4D4D4D" font-weight="normal" font-style="normal" >0.075</text>
<line x1="499.85" y1="166.2" x2="502.45" y2="166.2" stroke="#333333" stroke-width="0.95"/>
<use href="#oneR" transform="translate(484.502,169.050) scale(0.003906,-0.003906)" fill="#4D4D4D" stroke="#4D4D4D" stroke-width="25.6"/>
<text x="497.85" y="169.05" font-size="8" text-anchor="end" fill="#4D4D4D" stroke="#4D4D4D" font-weight="normal" font-style="normal" >0. 00</text>
<rect x="34.6" y="191" width="61.2" height="55.7" fill="#fff"/>
<line x1="40.2" y1="199.6" x2="46.1" y2="199.6" stroke="#A6CEE3" stroke-width="1.35"/>
<use href="#oneR" transform="translate(51.700,202.200) scale(0.003906,-0.003906)" fill="#000" stroke="#000" stroke-width="25.6"/>
<text x="51.7" y="202.2" font-size="8" text-anchor="start" fill="#000" stroke="#000" font-weight="normal" font-style="normal" > D approx.</text>
<line x1="40.2" y1="207.14" x2="46.1" y2="207.14" stroke="#1F78B4" stroke-width="1.35" stroke-dasharray="2.58 2.58"/>
<use href="#oneR" transform="translate(51.700,209.740) scale(0.003906,-0.003906)" fill="#000" stroke="#000" stroke-width="25.6"/>
<text x="51.7" y="209.74" font-size="8" text-anchor="start" fill="#000" stroke="#000" font-weight="normal" font-style="normal" > D exact</text>
<line x1="40.2" y1="214.68" x2="46.1" y2="214.68" stroke="#B2DF8A" stroke-width="1.35"/>
<text x="51.7" y="217.28" font-size="8" text-anchor="start" fill="#000" stroke="#000" font-weight="normal" font-style="normal" >2D approx.</text>
<line x1="40.2" y1="222.22" x2="46.1" y2="222.22" stroke="#33A02C" stroke-width="1.35" stroke-dasharray="2.58 2.58"/>
<text x="51.7" y="224.82" font-size="8" text-anchor="start" fill="#000" stroke="#000" font-weight="normal" font-style="normal" >2D exact</text>
<line x1="40.2" y1="229.76" x2="46.1" y2="229.76" stroke="#FDBF6F" stroke-width="1.35"/>
<text x="51.7" y="232.36" font-size="8" text-anchor="start" fill="#000" stroke="#000" font-weight="normal" font-style="normal" >3D approx.</text>
<line x1="40.2" y1="237.3" x2="46.1" y2="237.3" stroke="#FF7F00" stroke-width="1.35" stroke-dasharray="2.58 2.58"/>
<text x="51.7" y="239.9" font-size="8" text-anchor="start" fill="#000" stroke="#000" font-weight="normal" font-style="normal" >3D exact</text>
<text x="32.9" y="158.4" font-size="11.5" text-anchor="start" fill="#000" stroke="#000" font-weight="bold" font-style="normal" >D</text>
<text x="264" y="158.4" font-size="11.5" text-anchor="start" fill="#000" stroke="#000" font-weight="bold" font-style="normal" >E</text>
<text x="502.9" y="158.4" font-size="11.5" text-anchor="start" fill="#000" stroke="#000" font-weight="bold" font-style="normal" >F</text>
<text x="127" y="299.2" text-anchor="middle" font-size="10.1" fill="#000" stroke="#000"><tspan>population radius, </tspan><tspan font-style="italic">x</tspan></text>
<text x="593.8" y="298.6" text-anchor="middle" font-size="10.1" fill="#000" stroke="#000"><tspan>population radius, </tspan><tspan font-style="italic">x</tspan></text>
<text x="359.0" y="296.9" text-anchor="middle" font-size="10.1" fill="#000" stroke="#000">relative mutant speed, <tspan font-style="italic">c</tspan><tspan font-size="8.2" font-style="italic" dy="2.4">m</tspan><tspan dy="-2.4"> / </tspan><tspan font-style="italic">c</tspan><tspan font-size="8.2" font-style="italic" dy="2.4">wt</tspan></text>
<text transform="translate(7.9,217.8) rotate(-90)" text-anchor="middle" font-size="10.1" fill="#000" stroke="#000">Pr(sweep<tspan dx="0.7">|</tspan><tspan dx="0.7" font-style="italic">X</tspan><tspan dx="0.5">=</tspan><tspan dx="0.5" font-style="italic">x</tspan>)</text>
<text transform="translate(238.5,217.8) rotate(-90)" text-anchor="middle" font-size="10.1" fill="#000" stroke="#000">Pr(sweep)</text>
<text transform="translate(472.6,218.5) rotate(-90)" text-anchor="middle" font-size="10.1" fill="#000" stroke="#000"><tspan font-style="italic">f</tspan><tspan font-size="7.8" font-style="italic" dy="2.2">X</tspan><tspan dy="-2.2">(</tspan><tspan font-style="italic">X</tspan>=<tspan font-style="italic">x</tspan>|sweep)</text>
</g></svg></div></body></html>
